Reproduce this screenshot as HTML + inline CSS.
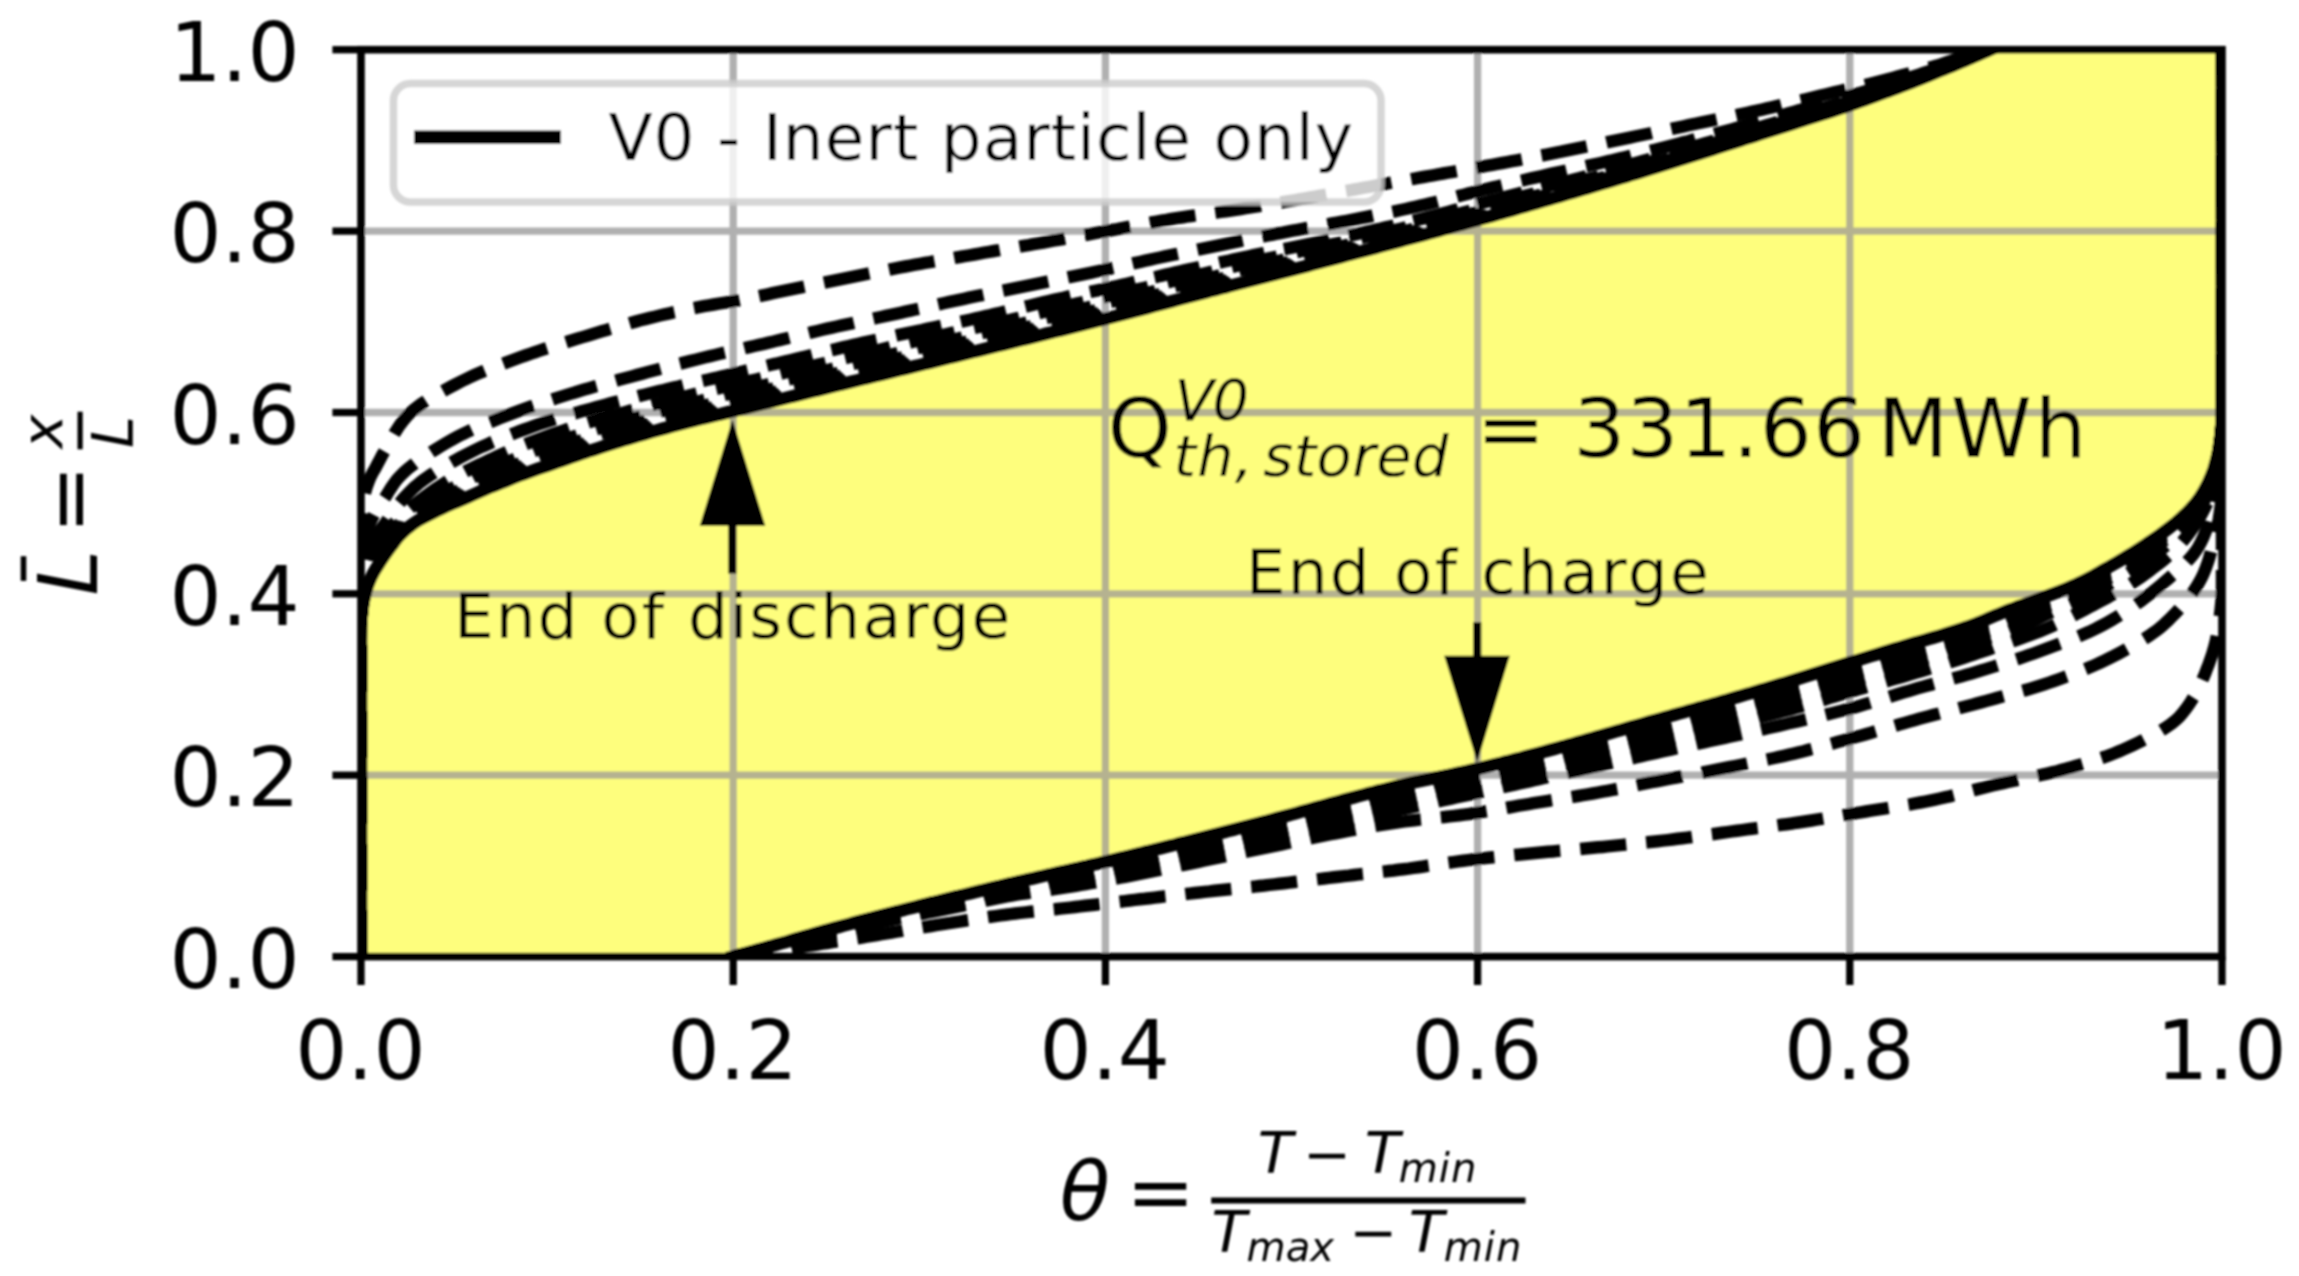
<!DOCTYPE html>
<html><head><meta charset="utf-8"><title>Thermocline profiles</title><style>html,body{margin:0;padding:0;background:#fff;overflow:hidden}svg{display:block}</style></head><body>
<svg width="2299" height="1276" viewBox="0 0 2299 1276">
<defs><filter id="soft" filterUnits="userSpaceOnUse" x="-20" y="-20" width="2339" height="1316"><feGaussianBlur stdDeviation="0.8"/></filter><clipPath id="ax"><rect x="361.0" y="49.7" width="1861.0" height="906.9"/></clipPath>
<clipPath id="yel"><path d="M361.0 956.6 L361.0 951.6 L361.0 946.6 L361.0 941.6 L361.0 936.6 L361.0 931.6 L361.0 926.5 L361.0 921.5 L361.0 916.5 L361.0 911.5 L361.0 906.5 L361.0 901.5 L361.0 896.5 L361.0 891.5 L361.0 886.5 L361.0 881.5 L361.0 876.5 L361.0 871.5 L361.0 866.4 L361.0 861.4 L361.0 856.4 L361.0 851.4 L361.0 846.4 L361.0 841.4 L361.0 836.4 L361.0 831.4 L361.0 826.4 L361.0 821.4 L361.0 816.4 L361.0 811.4 L361.0 806.3 L361.0 801.3 L361.0 796.3 L361.0 791.3 L361.0 786.3 L361.0 781.3 L361.0 776.3 L361.0 771.3 L361.0 766.3 L361.0 761.3 L361.0 756.3 L361.0 751.3 L361.0 746.2 L361.0 741.2 L361.0 736.2 L361.0 731.2 L361.0 726.2 L361.0 721.2 L361.0 716.2 L361.0 711.2 L361.0 706.2 L361.0 701.2 L361.0 696.2 L361.0 691.1 L361.0 686.1 L361.0 681.1 L361.0 676.1 L361.0 671.1 L361.0 666.1 L361.0 661.1 L361.0 656.1 L361.0 651.1 L361.0 646.1 L361.0 641.1 L361.1 636.1 L361.2 631.0 L361.3 626.0 L361.4 621.0 L361.8 616.0 L362.3 611.1 L362.9 606.1 L363.7 601.1 L364.7 596.2 L365.9 591.4 L367.4 586.6 L369.2 581.9 L371.2 577.4 L373.5 572.9 L376.0 568.6 L378.7 564.3 L381.4 560.1 L384.2 556.0 L387.1 551.9 L390.1 547.8 L393.1 543.8 L396.0 539.8 L399.2 535.9 L402.7 532.4 L406.5 529.0 L410.4 525.9 L414.4 522.9 L418.6 520.2 L423.0 517.8 L427.5 515.5 L432.0 513.3 L436.4 511.0 L440.9 508.9 L445.5 506.7 L450.1 504.7 L454.6 502.7 L459.3 500.8 L463.9 498.8 L468.5 496.9 L473.1 494.8 L477.6 492.7 L482.2 490.6 L486.8 488.6 L491.4 486.7 L496.1 484.9 L500.7 483.1 L505.4 481.2 L510.0 479.3 L514.7 477.4 L519.3 475.6 L524.0 473.9 L528.7 472.2 L533.4 470.5 L538.2 468.8 L542.9 467.2 L547.6 465.6 L552.4 463.9 L557.1 462.3 L561.8 460.7 L566.6 459.0 L571.3 457.3 L576.0 455.7 L580.7 454.0 L585.5 452.4 L590.2 450.8 L595.0 449.3 L599.8 447.7 L604.5 446.2 L609.3 444.7 L614.1 443.2 L618.9 441.7 L623.6 440.2 L628.4 438.8 L633.2 437.3 L638.0 435.9 L642.8 434.5 L647.7 433.1 L652.5 431.7 L657.3 430.4 L662.1 429.0 L666.9 427.7 L671.8 426.4 L676.6 425.1 L681.5 423.8 L686.3 422.5 L691.2 421.3 L696.0 420.0 L700.9 418.8 L705.7 417.7 L710.6 416.5 L715.5 415.3 L720.4 414.2 L725.2 413.0 L730.1 411.8 L735.0 410.6 L739.8 409.4 L744.7 408.2 L749.5 407.0 L754.4 405.8 L759.3 404.6 L764.1 403.4 L769.0 402.2 L773.9 401.0 L778.7 399.8 L783.6 398.6 L788.4 397.4 L793.3 396.2 L798.2 395.0 L803.0 393.8 L807.9 392.6 L812.7 391.4 L817.6 390.2 L822.5 389.0 L827.3 387.8 L832.2 386.6 L837.1 385.4 L841.9 384.2 L846.8 383.0 L851.7 381.8 L856.5 380.6 L861.4 379.4 L866.2 378.2 L871.1 377.0 L876.0 375.8 L880.8 374.7 L885.7 373.5 L890.6 372.3 L895.4 371.1 L900.3 369.9 L905.2 368.7 L910.0 367.5 L914.9 366.3 L919.8 365.1 L924.6 363.9 L929.5 362.7 L934.3 361.5 L939.2 360.3 L944.1 359.1 L948.9 357.9 L953.8 356.7 L958.7 355.5 L963.5 354.3 L968.4 353.1 L973.2 351.9 L978.1 350.7 L983.0 349.5 L987.8 348.3 L992.7 347.1 L997.6 345.9 L1002.4 344.7 L1007.3 343.5 L1012.1 342.3 L1017.0 341.1 L1021.9 339.9 L1026.7 338.7 L1031.6 337.5 L1036.4 336.3 L1041.3 335.1 L1046.2 333.8 L1051.0 332.6 L1055.9 331.4 L1060.7 330.2 L1065.6 329.0 L1070.5 327.8 L1075.3 326.6 L1080.2 325.3 L1085.0 324.1 L1089.9 322.9 L1094.7 321.6 L1099.6 320.4 L1104.4 319.1 L1109.3 317.9 L1114.1 316.6 L1119.0 315.4 L1123.8 314.1 L1128.7 312.8 L1133.5 311.5 L1138.4 310.3 L1143.2 309.0 L1148.0 307.7 L1152.9 306.4 L1157.7 305.1 L1162.6 303.8 L1167.4 302.5 L1172.2 301.2 L1177.1 299.9 L1181.9 298.6 L1186.7 297.3 L1191.6 296.1 L1196.4 294.8 L1201.3 293.5 L1206.1 292.2 L1211.0 290.9 L1215.8 289.7 L1220.7 288.4 L1225.5 287.2 L1230.3 285.9 L1235.2 284.6 L1240.0 283.4 L1244.9 282.1 L1249.7 280.9 L1254.6 279.6 L1259.4 278.4 L1264.3 277.1 L1269.1 275.9 L1274.0 274.6 L1278.8 273.3 L1283.7 272.1 L1288.5 270.8 L1293.4 269.5 L1298.2 268.3 L1303.1 267.0 L1307.9 265.7 L1312.7 264.4 L1317.6 263.1 L1322.4 261.8 L1327.3 260.6 L1332.1 259.3 L1336.9 258.0 L1341.8 256.7 L1346.6 255.4 L1351.5 254.1 L1356.3 252.9 L1361.1 251.6 L1366.0 250.3 L1370.8 249.0 L1375.7 247.7 L1380.5 246.4 L1385.3 245.1 L1390.2 243.8 L1395.0 242.5 L1399.9 241.2 L1404.7 239.9 L1409.5 238.6 L1414.4 237.3 L1419.2 236.0 L1424.0 234.7 L1428.9 233.4 L1433.7 232.0 L1438.5 230.7 L1443.4 229.4 L1448.2 228.1 L1453.0 226.7 L1457.8 225.4 L1462.7 224.1 L1467.5 222.7 L1472.3 221.4 L1477.1 220.1 L1482.0 218.7 L1486.8 217.3 L1491.6 216.0 L1496.4 214.6 L1501.2 213.2 L1506.1 211.9 L1510.9 210.5 L1515.7 209.1 L1520.5 207.7 L1525.3 206.3 L1530.1 204.9 L1534.9 203.6 L1539.7 202.2 L1544.6 200.7 L1549.4 199.3 L1554.2 197.9 L1559.0 196.5 L1563.8 195.1 L1568.6 193.7 L1573.4 192.3 L1578.2 190.9 L1583.0 189.4 L1587.8 188.0 L1592.6 186.6 L1597.4 185.2 L1602.2 183.7 L1607.0 182.3 L1611.8 180.8 L1616.6 179.4 L1621.4 177.9 L1626.2 176.5 L1631.0 175.0 L1635.8 173.6 L1640.5 172.1 L1645.3 170.6 L1650.1 169.2 L1654.9 167.7 L1659.7 166.2 L1664.5 164.7 L1669.2 163.2 L1674.0 161.7 L1678.8 160.2 L1683.6 158.7 L1688.3 157.2 L1693.1 155.7 L1697.9 154.1 L1702.7 152.6 L1707.4 151.1 L1712.2 149.6 L1717.0 148.0 L1721.7 146.5 L1726.5 145.0 L1731.3 143.4 L1736.1 141.9 L1740.8 140.4 L1745.6 138.8 L1750.4 137.3 L1755.1 135.8 L1759.9 134.2 L1764.7 132.7 L1769.4 131.2 L1774.2 129.6 L1779.0 128.1 L1783.7 126.6 L1788.5 125.1 L1793.3 123.6 L1798.1 122.0 L1802.8 120.5 L1807.6 119.0 L1812.4 117.5 L1817.2 116.0 L1821.9 114.5 L1826.7 112.9 L1831.5 111.4 L1836.2 109.8 L1841.0 108.2 L1845.7 106.6 L1850.4 105.0 L1855.2 103.3 L1859.9 101.6 L1864.6 100.0 L1869.3 98.3 L1874.0 96.5 L1878.7 94.8 L1883.4 93.1 L1888.1 91.3 L1892.8 89.6 L1897.5 87.8 L1902.1 86.0 L1906.8 84.2 L1911.5 82.4 L1916.2 80.5 L1920.8 78.7 L1925.5 76.8 L1930.1 75.0 L1934.8 73.1 L1939.4 71.2 L1944.0 69.3 L1948.7 67.4 L1953.3 65.5 L1957.9 63.5 L1962.5 61.6 L1967.1 59.6 L1971.7 57.7 L1976.3 55.7 L1980.9 53.7 L1985.5 51.7 L1990.1 49.7 L2222.0 49.7 L2222.0 54.7 L2222.0 59.7 L2222.0 64.7 L2222.0 69.7 L2222.0 74.8 L2222.0 79.8 L2222.0 84.8 L2222.0 89.8 L2222.0 94.8 L2222.0 99.8 L2222.0 104.8 L2222.0 109.8 L2222.0 114.8 L2222.0 119.8 L2222.0 124.9 L2222.0 129.9 L2222.0 134.9 L2222.0 139.9 L2222.0 144.9 L2222.0 149.9 L2222.0 154.9 L2222.0 159.9 L2222.0 164.9 L2222.0 169.9 L2222.0 175.0 L2222.0 180.0 L2222.0 185.0 L2222.0 190.0 L2222.0 195.0 L2222.0 200.0 L2222.0 205.0 L2222.0 210.0 L2222.0 215.0 L2222.0 220.0 L2222.0 225.1 L2222.0 230.1 L2222.0 235.1 L2222.0 240.1 L2222.0 245.1 L2222.0 250.1 L2222.0 255.1 L2222.0 260.1 L2222.0 265.1 L2222.0 270.1 L2222.0 275.2 L2222.0 280.2 L2222.0 285.2 L2222.0 290.2 L2222.0 295.2 L2222.0 300.2 L2222.0 305.2 L2222.0 310.2 L2222.0 315.2 L2222.0 320.2 L2222.0 325.3 L2222.0 330.3 L2222.0 335.3 L2222.0 340.3 L2222.0 345.3 L2222.0 350.3 L2222.0 355.3 L2222.0 360.3 L2222.0 365.3 L2222.0 370.3 L2222.0 375.4 L2222.0 380.4 L2222.0 385.4 L2222.0 390.4 L2222.0 395.4 L2222.0 400.4 L2222.0 405.4 L2221.9 410.4 L2221.8 415.4 L2221.6 420.4 L2221.3 425.4 L2220.9 430.4 L2220.4 435.4 L2219.8 440.4 L2219.1 445.4 L2218.4 450.3 L2217.4 455.2 L2216.2 460.1 L2214.9 464.9 L2213.5 469.7 L2211.7 474.4 L2209.8 479.0 L2207.7 483.6 L2205.4 488.1 L2203.0 492.4 L2200.3 496.7 L2197.4 500.8 L2194.3 504.7 L2190.9 508.4 L2187.4 512.0 L2183.8 515.5 L2180.2 518.9 L2176.4 522.2 L2172.5 525.3 L2168.5 528.4 L2164.5 531.4 L2160.5 534.4 L2156.4 537.3 L2152.3 540.1 L2148.1 542.9 L2144.0 545.7 L2139.8 548.4 L2135.5 551.1 L2131.3 553.8 L2127.0 556.4 L2122.7 558.9 L2118.4 561.5 L2114.0 564.0 L2109.7 566.5 L2105.3 568.9 L2101.0 571.4 L2096.6 573.9 L2092.2 576.3 L2087.8 578.6 L2083.3 580.9 L2078.8 583.1 L2074.3 585.2 L2069.7 587.2 L2065.0 589.1 L2060.4 590.9 L2055.7 592.7 L2051.0 594.4 L2046.3 596.2 L2041.6 597.9 L2036.9 599.7 L2032.2 601.5 L2027.5 603.2 L2022.8 604.9 L2018.1 606.6 L2013.4 608.4 L2008.7 610.1 L2004.0 611.9 L1999.4 613.8 L1994.8 615.7 L1990.2 617.7 L1985.6 619.7 L1980.9 621.6 L1976.3 623.5 L1971.6 625.2 L1966.9 626.9 L1962.1 628.5 L1957.4 630.1 L1952.6 631.6 L1947.8 633.2 L1943.1 634.7 L1938.3 636.1 L1933.5 637.5 L1928.6 638.9 L1923.8 640.3 L1919.0 641.7 L1914.2 643.0 L1909.4 644.4 L1904.6 645.8 L1899.8 647.3 L1895.0 648.7 L1890.2 650.2 L1885.4 651.6 L1880.6 653.1 L1875.8 654.6 L1871.0 656.0 L1866.2 657.5 L1861.4 659.0 L1856.7 660.5 L1851.9 662.0 L1847.1 663.4 L1842.3 664.9 L1837.5 666.4 L1832.7 667.9 L1827.9 669.4 L1823.2 670.9 L1818.4 672.4 L1813.6 673.9 L1808.8 675.4 L1804.0 676.9 L1799.3 678.3 L1794.5 679.8 L1789.7 681.3 L1784.9 682.8 L1780.1 684.2 L1775.3 685.7 L1770.5 687.1 L1765.7 688.6 L1760.9 690.0 L1756.1 691.4 L1751.3 692.8 L1746.5 694.2 L1741.7 695.6 L1736.9 697.0 L1732.0 698.4 L1727.2 699.8 L1722.4 701.2 L1717.6 702.6 L1712.8 703.9 L1708.0 705.3 L1703.1 706.6 L1698.3 708.0 L1693.5 709.4 L1688.7 710.7 L1683.8 712.1 L1679.0 713.4 L1674.2 714.8 L1669.4 716.1 L1664.5 717.5 L1659.7 718.8 L1654.9 720.2 L1650.1 721.5 L1645.3 722.9 L1640.4 724.3 L1635.6 725.7 L1630.8 727.0 L1626.0 728.4 L1621.2 729.8 L1616.4 731.2 L1611.5 732.6 L1606.7 734.0 L1601.9 735.3 L1597.1 736.7 L1592.3 738.1 L1587.5 739.5 L1582.6 740.9 L1577.8 742.2 L1573.0 743.6 L1568.2 744.9 L1563.4 746.3 L1558.5 747.6 L1553.7 749.0 L1548.9 750.3 L1544.0 751.6 L1539.2 752.9 L1534.4 754.2 L1529.5 755.5 L1524.7 756.8 L1519.8 758.1 L1515.0 759.3 L1510.1 760.6 L1505.3 761.8 L1500.4 763.1 L1495.6 764.3 L1490.7 765.5 L1485.8 766.7 L1481.0 767.9 L1476.1 769.0 L1471.2 770.1 L1466.3 771.2 L1461.4 772.3 L1456.5 773.3 L1451.6 774.4 L1446.7 775.4 L1441.8 776.4 L1436.9 777.4 L1432.0 778.5 L1427.1 779.5 L1422.2 780.5 L1417.3 781.6 L1412.4 782.6 L1407.5 783.7 L1402.6 784.9 L1397.8 786.0 L1392.9 787.2 L1388.0 788.4 L1383.2 789.6 L1378.3 790.8 L1373.5 792.1 L1368.6 793.3 L1363.8 794.6 L1358.9 795.9 L1354.1 797.2 L1349.2 798.5 L1344.4 799.8 L1339.6 801.1 L1334.7 802.4 L1329.9 803.7 L1325.1 805.1 L1320.2 806.4 L1315.4 807.7 L1310.6 809.1 L1305.7 810.4 L1300.9 811.7 L1296.1 813.1 L1291.3 814.4 L1286.4 815.7 L1281.6 817.0 L1276.7 818.3 L1271.9 819.6 L1267.1 820.9 L1262.2 822.1 L1257.4 823.4 L1252.5 824.7 L1247.7 825.9 L1242.8 827.2 L1238.0 828.4 L1233.1 829.7 L1228.3 830.9 L1223.4 832.2 L1218.6 833.4 L1213.7 834.7 L1208.8 835.9 L1204.0 837.2 L1199.1 838.4 L1194.3 839.6 L1189.4 840.9 L1184.6 842.1 L1179.7 843.3 L1174.9 844.6 L1170.0 845.8 L1165.1 847.0 L1160.3 848.2 L1155.4 849.4 L1150.6 850.6 L1145.7 851.8 L1140.8 853.1 L1136.0 854.2 L1131.1 855.4 L1126.2 856.6 L1121.4 857.8 L1116.5 859.0 L1111.6 860.2 L1106.8 861.4 L1101.9 862.5 L1097.0 863.7 L1092.1 864.8 L1087.3 866.0 L1082.4 867.1 L1077.5 868.2 L1072.6 869.3 L1067.7 870.4 L1062.8 871.5 L1057.9 872.6 L1053.1 873.7 L1048.2 874.8 L1043.3 875.9 L1038.4 877.1 L1033.5 878.2 L1028.6 879.3 L1023.7 880.4 L1018.9 881.5 L1014.0 882.7 L1009.1 883.8 L1004.2 885.0 L999.4 886.1 L994.5 887.3 L989.6 888.5 L984.8 889.7 L979.9 890.8 L975.0 892.0 L970.1 893.2 L965.3 894.4 L960.4 895.6 L955.5 896.8 L950.7 898.0 L945.8 899.2 L941.0 900.4 L936.1 901.6 L931.2 902.8 L926.4 904.0 L921.5 905.2 L916.7 906.5 L911.8 907.7 L906.9 908.9 L902.1 910.2 L897.2 911.4 L892.4 912.6 L887.5 913.9 L882.7 915.1 L877.8 916.4 L873.0 917.7 L868.1 918.9 L863.3 920.2 L858.4 921.5 L853.6 922.8 L848.8 924.1 L843.9 925.4 L839.1 926.7 L834.3 928.0 L829.4 929.4 L824.6 930.7 L819.8 932.1 L815.0 933.4 L810.1 934.8 L805.3 936.2 L800.5 937.6 L795.7 939.0 L790.9 940.4 L786.1 941.8 L781.3 943.2 L776.4 944.5 L771.6 945.9 L766.8 947.3 L762.0 948.7 L757.2 950.0 L752.3 951.4 L747.5 952.7 L742.7 954.0 L737.8 955.3 L733.0 956.6 Z"/></clipPath></defs>
<rect width="2299" height="1276" fill="#fff"/>
<g filter="url(#soft)">
<g stroke="#b0b0b0" stroke-width="7.3" fill="none"><path d="M733.2 49.7 V956.6"/><path d="M1105.4 49.7 V956.6"/><path d="M1477.6 49.7 V956.6"/><path d="M1849.8 49.7 V956.6"/><path d="M361.0 775.2 H2222.0"/><path d="M361.0 593.8 H2222.0"/><path d="M361.0 412.5 H2222.0"/><path d="M361.0 231.1 H2222.0"/></g>
<g clip-path="url(#ax)">
<path d="M361.0 956.6 L361.0 951.6 L361.0 946.6 L361.0 941.6 L361.0 936.6 L361.0 931.6 L361.0 926.5 L361.0 921.5 L361.0 916.5 L361.0 911.5 L361.0 906.5 L361.0 901.5 L361.0 896.5 L361.0 891.5 L361.0 886.5 L361.0 881.5 L361.0 876.5 L361.0 871.5 L361.0 866.4 L361.0 861.4 L361.0 856.4 L361.0 851.4 L361.0 846.4 L361.0 841.4 L361.0 836.4 L361.0 831.4 L361.0 826.4 L361.0 821.4 L361.0 816.4 L361.0 811.4 L361.0 806.3 L361.0 801.3 L361.0 796.3 L361.0 791.3 L361.0 786.3 L361.0 781.3 L361.0 776.3 L361.0 771.3 L361.0 766.3 L361.0 761.3 L361.0 756.3 L361.0 751.3 L361.0 746.2 L361.0 741.2 L361.0 736.2 L361.0 731.2 L361.0 726.2 L361.0 721.2 L361.0 716.2 L361.0 711.2 L361.0 706.2 L361.0 701.2 L361.0 696.2 L361.0 691.1 L361.0 686.1 L361.0 681.1 L361.0 676.1 L361.0 671.1 L361.0 666.1 L361.0 661.1 L361.0 656.1 L361.0 651.1 L361.0 646.1 L361.0 641.1 L361.1 636.1 L361.2 631.0 L361.3 626.0 L361.4 621.0 L361.8 616.0 L362.3 611.1 L362.9 606.1 L363.7 601.1 L364.7 596.2 L365.9 591.4 L367.4 586.6 L369.2 581.9 L371.2 577.4 L373.5 572.9 L376.0 568.6 L378.7 564.3 L381.4 560.1 L384.2 556.0 L387.1 551.9 L390.1 547.8 L393.1 543.8 L396.0 539.8 L399.2 535.9 L402.7 532.4 L406.5 529.0 L410.4 525.9 L414.4 522.9 L418.6 520.2 L423.0 517.8 L427.5 515.5 L432.0 513.3 L436.4 511.0 L440.9 508.9 L445.5 506.7 L450.1 504.7 L454.6 502.7 L459.3 500.8 L463.9 498.8 L468.5 496.9 L473.1 494.8 L477.6 492.7 L482.2 490.6 L486.8 488.6 L491.4 486.7 L496.1 484.9 L500.7 483.1 L505.4 481.2 L510.0 479.3 L514.7 477.4 L519.3 475.6 L524.0 473.9 L528.7 472.2 L533.4 470.5 L538.2 468.8 L542.9 467.2 L547.6 465.6 L552.4 463.9 L557.1 462.3 L561.8 460.7 L566.6 459.0 L571.3 457.3 L576.0 455.7 L580.7 454.0 L585.5 452.4 L590.2 450.8 L595.0 449.3 L599.8 447.7 L604.5 446.2 L609.3 444.7 L614.1 443.2 L618.9 441.7 L623.6 440.2 L628.4 438.8 L633.2 437.3 L638.0 435.9 L642.8 434.5 L647.7 433.1 L652.5 431.7 L657.3 430.4 L662.1 429.0 L666.9 427.7 L671.8 426.4 L676.6 425.1 L681.5 423.8 L686.3 422.5 L691.2 421.3 L696.0 420.0 L700.9 418.8 L705.7 417.7 L710.6 416.5 L715.5 415.3 L720.4 414.2 L725.2 413.0 L730.1 411.8 L735.0 410.6 L739.8 409.4 L744.7 408.2 L749.5 407.0 L754.4 405.8 L759.3 404.6 L764.1 403.4 L769.0 402.2 L773.9 401.0 L778.7 399.8 L783.6 398.6 L788.4 397.4 L793.3 396.2 L798.2 395.0 L803.0 393.8 L807.9 392.6 L812.7 391.4 L817.6 390.2 L822.5 389.0 L827.3 387.8 L832.2 386.6 L837.1 385.4 L841.9 384.2 L846.8 383.0 L851.7 381.8 L856.5 380.6 L861.4 379.4 L866.2 378.2 L871.1 377.0 L876.0 375.8 L880.8 374.7 L885.7 373.5 L890.6 372.3 L895.4 371.1 L900.3 369.9 L905.2 368.7 L910.0 367.5 L914.9 366.3 L919.8 365.1 L924.6 363.9 L929.5 362.7 L934.3 361.5 L939.2 360.3 L944.1 359.1 L948.9 357.9 L953.8 356.7 L958.7 355.5 L963.5 354.3 L968.4 353.1 L973.2 351.9 L978.1 350.7 L983.0 349.5 L987.8 348.3 L992.7 347.1 L997.6 345.9 L1002.4 344.7 L1007.3 343.5 L1012.1 342.3 L1017.0 341.1 L1021.9 339.9 L1026.7 338.7 L1031.6 337.5 L1036.4 336.3 L1041.3 335.1 L1046.2 333.8 L1051.0 332.6 L1055.9 331.4 L1060.7 330.2 L1065.6 329.0 L1070.5 327.8 L1075.3 326.6 L1080.2 325.3 L1085.0 324.1 L1089.9 322.9 L1094.7 321.6 L1099.6 320.4 L1104.4 319.1 L1109.3 317.9 L1114.1 316.6 L1119.0 315.4 L1123.8 314.1 L1128.7 312.8 L1133.5 311.5 L1138.4 310.3 L1143.2 309.0 L1148.0 307.7 L1152.9 306.4 L1157.7 305.1 L1162.6 303.8 L1167.4 302.5 L1172.2 301.2 L1177.1 299.9 L1181.9 298.6 L1186.7 297.3 L1191.6 296.1 L1196.4 294.8 L1201.3 293.5 L1206.1 292.2 L1211.0 290.9 L1215.8 289.7 L1220.7 288.4 L1225.5 287.2 L1230.3 285.9 L1235.2 284.6 L1240.0 283.4 L1244.9 282.1 L1249.7 280.9 L1254.6 279.6 L1259.4 278.4 L1264.3 277.1 L1269.1 275.9 L1274.0 274.6 L1278.8 273.3 L1283.7 272.1 L1288.5 270.8 L1293.4 269.5 L1298.2 268.3 L1303.1 267.0 L1307.9 265.7 L1312.7 264.4 L1317.6 263.1 L1322.4 261.8 L1327.3 260.6 L1332.1 259.3 L1336.9 258.0 L1341.8 256.7 L1346.6 255.4 L1351.5 254.1 L1356.3 252.9 L1361.1 251.6 L1366.0 250.3 L1370.8 249.0 L1375.7 247.7 L1380.5 246.4 L1385.3 245.1 L1390.2 243.8 L1395.0 242.5 L1399.9 241.2 L1404.7 239.9 L1409.5 238.6 L1414.4 237.3 L1419.2 236.0 L1424.0 234.7 L1428.9 233.4 L1433.7 232.0 L1438.5 230.7 L1443.4 229.4 L1448.2 228.1 L1453.0 226.7 L1457.8 225.4 L1462.7 224.1 L1467.5 222.7 L1472.3 221.4 L1477.1 220.1 L1482.0 218.7 L1486.8 217.3 L1491.6 216.0 L1496.4 214.6 L1501.2 213.2 L1506.1 211.9 L1510.9 210.5 L1515.7 209.1 L1520.5 207.7 L1525.3 206.3 L1530.1 204.9 L1534.9 203.6 L1539.7 202.2 L1544.6 200.7 L1549.4 199.3 L1554.2 197.9 L1559.0 196.5 L1563.8 195.1 L1568.6 193.7 L1573.4 192.3 L1578.2 190.9 L1583.0 189.4 L1587.8 188.0 L1592.6 186.6 L1597.4 185.2 L1602.2 183.7 L1607.0 182.3 L1611.8 180.8 L1616.6 179.4 L1621.4 177.9 L1626.2 176.5 L1631.0 175.0 L1635.8 173.6 L1640.5 172.1 L1645.3 170.6 L1650.1 169.2 L1654.9 167.7 L1659.7 166.2 L1664.5 164.7 L1669.2 163.2 L1674.0 161.7 L1678.8 160.2 L1683.6 158.7 L1688.3 157.2 L1693.1 155.7 L1697.9 154.1 L1702.7 152.6 L1707.4 151.1 L1712.2 149.6 L1717.0 148.0 L1721.7 146.5 L1726.5 145.0 L1731.3 143.4 L1736.1 141.9 L1740.8 140.4 L1745.6 138.8 L1750.4 137.3 L1755.1 135.8 L1759.9 134.2 L1764.7 132.7 L1769.4 131.2 L1774.2 129.6 L1779.0 128.1 L1783.7 126.6 L1788.5 125.1 L1793.3 123.6 L1798.1 122.0 L1802.8 120.5 L1807.6 119.0 L1812.4 117.5 L1817.2 116.0 L1821.9 114.5 L1826.7 112.9 L1831.5 111.4 L1836.2 109.8 L1841.0 108.2 L1845.7 106.6 L1850.4 105.0 L1855.2 103.3 L1859.9 101.6 L1864.6 100.0 L1869.3 98.3 L1874.0 96.5 L1878.7 94.8 L1883.4 93.1 L1888.1 91.3 L1892.8 89.6 L1897.5 87.8 L1902.1 86.0 L1906.8 84.2 L1911.5 82.4 L1916.2 80.5 L1920.8 78.7 L1925.5 76.8 L1930.1 75.0 L1934.8 73.1 L1939.4 71.2 L1944.0 69.3 L1948.7 67.4 L1953.3 65.5 L1957.9 63.5 L1962.5 61.6 L1967.1 59.6 L1971.7 57.7 L1976.3 55.7 L1980.9 53.7 L1985.5 51.7 L1990.1 49.7 L2222.0 49.7 L2222.0 54.7 L2222.0 59.7 L2222.0 64.7 L2222.0 69.7 L2222.0 74.8 L2222.0 79.8 L2222.0 84.8 L2222.0 89.8 L2222.0 94.8 L2222.0 99.8 L2222.0 104.8 L2222.0 109.8 L2222.0 114.8 L2222.0 119.8 L2222.0 124.9 L2222.0 129.9 L2222.0 134.9 L2222.0 139.9 L2222.0 144.9 L2222.0 149.9 L2222.0 154.9 L2222.0 159.9 L2222.0 164.9 L2222.0 169.9 L2222.0 175.0 L2222.0 180.0 L2222.0 185.0 L2222.0 190.0 L2222.0 195.0 L2222.0 200.0 L2222.0 205.0 L2222.0 210.0 L2222.0 215.0 L2222.0 220.0 L2222.0 225.1 L2222.0 230.1 L2222.0 235.1 L2222.0 240.1 L2222.0 245.1 L2222.0 250.1 L2222.0 255.1 L2222.0 260.1 L2222.0 265.1 L2222.0 270.1 L2222.0 275.2 L2222.0 280.2 L2222.0 285.2 L2222.0 290.2 L2222.0 295.2 L2222.0 300.2 L2222.0 305.2 L2222.0 310.2 L2222.0 315.2 L2222.0 320.2 L2222.0 325.3 L2222.0 330.3 L2222.0 335.3 L2222.0 340.3 L2222.0 345.3 L2222.0 350.3 L2222.0 355.3 L2222.0 360.3 L2222.0 365.3 L2222.0 370.3 L2222.0 375.4 L2222.0 380.4 L2222.0 385.4 L2222.0 390.4 L2222.0 395.4 L2222.0 400.4 L2222.0 405.4 L2221.9 410.4 L2221.8 415.4 L2221.6 420.4 L2221.3 425.4 L2220.9 430.4 L2220.4 435.4 L2219.8 440.4 L2219.1 445.4 L2218.4 450.3 L2217.4 455.2 L2216.2 460.1 L2214.9 464.9 L2213.5 469.7 L2211.7 474.4 L2209.8 479.0 L2207.7 483.6 L2205.4 488.1 L2203.0 492.4 L2200.3 496.7 L2197.4 500.8 L2194.3 504.7 L2190.9 508.4 L2187.4 512.0 L2183.8 515.5 L2180.2 518.9 L2176.4 522.2 L2172.5 525.3 L2168.5 528.4 L2164.5 531.4 L2160.5 534.4 L2156.4 537.3 L2152.3 540.1 L2148.1 542.9 L2144.0 545.7 L2139.8 548.4 L2135.5 551.1 L2131.3 553.8 L2127.0 556.4 L2122.7 558.9 L2118.4 561.5 L2114.0 564.0 L2109.7 566.5 L2105.3 568.9 L2101.0 571.4 L2096.6 573.9 L2092.2 576.3 L2087.8 578.6 L2083.3 580.9 L2078.8 583.1 L2074.3 585.2 L2069.7 587.2 L2065.0 589.1 L2060.4 590.9 L2055.7 592.7 L2051.0 594.4 L2046.3 596.2 L2041.6 597.9 L2036.9 599.7 L2032.2 601.5 L2027.5 603.2 L2022.8 604.9 L2018.1 606.6 L2013.4 608.4 L2008.7 610.1 L2004.0 611.9 L1999.4 613.8 L1994.8 615.7 L1990.2 617.7 L1985.6 619.7 L1980.9 621.6 L1976.3 623.5 L1971.6 625.2 L1966.9 626.9 L1962.1 628.5 L1957.4 630.1 L1952.6 631.6 L1947.8 633.2 L1943.1 634.7 L1938.3 636.1 L1933.5 637.5 L1928.6 638.9 L1923.8 640.3 L1919.0 641.7 L1914.2 643.0 L1909.4 644.4 L1904.6 645.8 L1899.8 647.3 L1895.0 648.7 L1890.2 650.2 L1885.4 651.6 L1880.6 653.1 L1875.8 654.6 L1871.0 656.0 L1866.2 657.5 L1861.4 659.0 L1856.7 660.5 L1851.9 662.0 L1847.1 663.4 L1842.3 664.9 L1837.5 666.4 L1832.7 667.9 L1827.9 669.4 L1823.2 670.9 L1818.4 672.4 L1813.6 673.9 L1808.8 675.4 L1804.0 676.9 L1799.3 678.3 L1794.5 679.8 L1789.7 681.3 L1784.9 682.8 L1780.1 684.2 L1775.3 685.7 L1770.5 687.1 L1765.7 688.6 L1760.9 690.0 L1756.1 691.4 L1751.3 692.8 L1746.5 694.2 L1741.7 695.6 L1736.9 697.0 L1732.0 698.4 L1727.2 699.8 L1722.4 701.2 L1717.6 702.6 L1712.8 703.9 L1708.0 705.3 L1703.1 706.6 L1698.3 708.0 L1693.5 709.4 L1688.7 710.7 L1683.8 712.1 L1679.0 713.4 L1674.2 714.8 L1669.4 716.1 L1664.5 717.5 L1659.7 718.8 L1654.9 720.2 L1650.1 721.5 L1645.3 722.9 L1640.4 724.3 L1635.6 725.7 L1630.8 727.0 L1626.0 728.4 L1621.2 729.8 L1616.4 731.2 L1611.5 732.6 L1606.7 734.0 L1601.9 735.3 L1597.1 736.7 L1592.3 738.1 L1587.5 739.5 L1582.6 740.9 L1577.8 742.2 L1573.0 743.6 L1568.2 744.9 L1563.4 746.3 L1558.5 747.6 L1553.7 749.0 L1548.9 750.3 L1544.0 751.6 L1539.2 752.9 L1534.4 754.2 L1529.5 755.5 L1524.7 756.8 L1519.8 758.1 L1515.0 759.3 L1510.1 760.6 L1505.3 761.8 L1500.4 763.1 L1495.6 764.3 L1490.7 765.5 L1485.8 766.7 L1481.0 767.9 L1476.1 769.0 L1471.2 770.1 L1466.3 771.2 L1461.4 772.3 L1456.5 773.3 L1451.6 774.4 L1446.7 775.4 L1441.8 776.4 L1436.9 777.4 L1432.0 778.5 L1427.1 779.5 L1422.2 780.5 L1417.3 781.6 L1412.4 782.6 L1407.5 783.7 L1402.6 784.9 L1397.8 786.0 L1392.9 787.2 L1388.0 788.4 L1383.2 789.6 L1378.3 790.8 L1373.5 792.1 L1368.6 793.3 L1363.8 794.6 L1358.9 795.9 L1354.1 797.2 L1349.2 798.5 L1344.4 799.8 L1339.6 801.1 L1334.7 802.4 L1329.9 803.7 L1325.1 805.1 L1320.2 806.4 L1315.4 807.7 L1310.6 809.1 L1305.7 810.4 L1300.9 811.7 L1296.1 813.1 L1291.3 814.4 L1286.4 815.7 L1281.6 817.0 L1276.7 818.3 L1271.9 819.6 L1267.1 820.9 L1262.2 822.1 L1257.4 823.4 L1252.5 824.7 L1247.7 825.9 L1242.8 827.2 L1238.0 828.4 L1233.1 829.7 L1228.3 830.9 L1223.4 832.2 L1218.6 833.4 L1213.7 834.7 L1208.8 835.9 L1204.0 837.2 L1199.1 838.4 L1194.3 839.6 L1189.4 840.9 L1184.6 842.1 L1179.7 843.3 L1174.9 844.6 L1170.0 845.8 L1165.1 847.0 L1160.3 848.2 L1155.4 849.4 L1150.6 850.6 L1145.7 851.8 L1140.8 853.1 L1136.0 854.2 L1131.1 855.4 L1126.2 856.6 L1121.4 857.8 L1116.5 859.0 L1111.6 860.2 L1106.8 861.4 L1101.9 862.5 L1097.0 863.7 L1092.1 864.8 L1087.3 866.0 L1082.4 867.1 L1077.5 868.2 L1072.6 869.3 L1067.7 870.4 L1062.8 871.5 L1057.9 872.6 L1053.1 873.7 L1048.2 874.8 L1043.3 875.9 L1038.4 877.1 L1033.5 878.2 L1028.6 879.3 L1023.7 880.4 L1018.9 881.5 L1014.0 882.7 L1009.1 883.8 L1004.2 885.0 L999.4 886.1 L994.5 887.3 L989.6 888.5 L984.8 889.7 L979.9 890.8 L975.0 892.0 L970.1 893.2 L965.3 894.4 L960.4 895.6 L955.5 896.8 L950.7 898.0 L945.8 899.2 L941.0 900.4 L936.1 901.6 L931.2 902.8 L926.4 904.0 L921.5 905.2 L916.7 906.5 L911.8 907.7 L906.9 908.9 L902.1 910.2 L897.2 911.4 L892.4 912.6 L887.5 913.9 L882.7 915.1 L877.8 916.4 L873.0 917.7 L868.1 918.9 L863.3 920.2 L858.4 921.5 L853.6 922.8 L848.8 924.1 L843.9 925.4 L839.1 926.7 L834.3 928.0 L829.4 929.4 L824.6 930.7 L819.8 932.1 L815.0 933.4 L810.1 934.8 L805.3 936.2 L800.5 937.6 L795.7 939.0 L790.9 940.4 L786.1 941.8 L781.3 943.2 L776.4 944.5 L771.6 945.9 L766.8 947.3 L762.0 948.7 L757.2 950.0 L752.3 951.4 L747.5 952.7 L742.7 954.0 L737.8 955.3 L733.0 956.6 Z" fill="#fefe7d"/>
<g clip-path="url(#yel)"><g stroke="#b5b290" stroke-width="7.3" fill="none"><path d="M733.2 49.7 V956.6"/><path d="M1105.4 49.7 V956.6"/><path d="M1477.6 49.7 V956.6"/><path d="M1849.8 49.7 V956.6"/><path d="M361.0 775.2 H2222.0"/><path d="M361.0 593.8 H2222.0"/><path d="M361.0 412.5 H2222.0"/><path d="M361.0 231.1 H2222.0"/></g></g>
<g fill="none" stroke="#000" stroke-width="12.5" stroke-dasharray="46.25 20.0">
<path d="M361.0 956.6 L361.0 951.6 L361.0 946.6 L361.0 941.6 L361.0 936.6 L361.0 931.6 L361.0 926.6 L361.0 921.5 L361.0 916.5 L361.0 911.5 L361.0 906.5 L361.0 901.5 L361.0 896.5 L361.0 891.5 L361.0 886.5 L361.0 881.5 L361.0 876.5 L361.0 871.5 L361.0 866.5 L361.0 861.5 L361.0 856.5 L361.0 851.4 L361.0 846.4 L361.0 841.4 L361.0 836.4 L361.0 831.4 L361.0 826.4 L361.0 821.4 L361.0 816.4 L361.0 811.4 L361.0 806.4 L361.0 801.4 L361.0 796.4 L361.0 791.4 L361.0 786.4 L361.0 781.3 L361.0 776.3 L361.0 771.3 L361.0 766.3 L361.0 761.3 L361.0 756.3 L361.0 751.3 L361.0 746.3 L361.0 741.3 L361.0 736.3 L361.0 731.3 L361.0 726.3 L361.0 721.3 L361.0 716.3 L361.0 711.2 L361.0 706.2 L361.0 701.2 L361.0 696.2 L361.0 691.2 L361.0 686.2 L361.0 681.2 L361.0 676.2 L361.0 671.2 L361.0 666.2 L361.0 661.2 L361.0 656.2 L361.0 651.2 L361.0 646.2 L361.0 641.1 L361.0 636.1 L361.0 631.1 L361.0 626.1 L361.0 621.1 L361.0 616.1 L361.0 611.1 L361.0 606.1 L361.0 601.1 L361.0 596.1 L361.0 591.1 L361.0 586.1 L361.0 581.1 L361.0 576.1 L361.0 571.0 L361.0 566.0 L361.0 561.0 L361.0 556.0 L361.0 551.0 L361.0 546.0 L361.0 541.0 L361.0 536.0 L361.0 531.0 L361.0 526.0 L361.0 521.0 L361.2 516.0 L361.7 511.0 L362.5 506.1 L363.3 501.1 L364.2 496.2 L365.4 491.3 L366.8 486.5 L368.5 481.8 L370.4 477.2 L372.7 472.7 L375.2 468.4 L377.5 464.0 L379.9 459.5 L382.2 455.1 L384.7 450.8 L387.2 446.4 L389.6 442.0 L392.0 437.6 L394.5 433.3 L397.2 429.1 L400.0 424.9 L403.0 420.9 L406.2 417.1 L409.6 413.4 L413.3 410.1 L417.3 407.0 L421.3 404.0 L425.5 401.3 L429.7 398.6 L434.0 396.0 L438.4 393.5 L442.8 391.1 L447.2 388.7 L451.6 386.4 L456.0 384.1 L460.5 381.8 L465.0 379.5 L469.5 377.4 L474.0 375.3 L478.6 373.3 L483.2 371.4 L487.9 369.5 L492.5 367.6 L497.2 365.9 L501.9 364.1 L506.6 362.3 L511.3 360.6 L516.0 358.9 L520.7 357.2 L525.4 355.5 L530.1 353.8 L534.9 352.2 L539.6 350.6 L544.4 349.0 L549.1 347.5 L553.9 346.0 L558.7 344.5 L563.5 343.0 L568.2 341.5 L573.0 340.0 L577.8 338.6 L582.6 337.1 L587.4 335.7 L592.2 334.2 L597.0 332.8 L601.8 331.3 L606.6 329.9 L611.4 328.5 L616.2 327.0 L621.0 325.7 L625.8 324.3 L630.6 322.9 L635.5 321.6 L640.3 320.3 L645.2 319.1 L650.0 317.9 L654.9 316.7 L659.7 315.5 L664.6 314.4 L669.5 313.3 L674.4 312.2 L679.3 311.2 L684.2 310.1 L689.1 309.1 L694.0 308.1 L698.9 307.2 L703.8 306.2 L708.8 305.3 L713.7 304.5 L718.6 303.7 L723.6 302.9 L728.5 302.1 L733.5 301.2 L738.4 300.3 L743.3 299.3 L748.2 298.4 L753.1 297.4 L758.0 296.3 L762.9 295.3 L767.8 294.3 L772.7 293.2 L777.6 292.2 L782.5 291.2 L787.4 290.2 L792.3 289.2 L797.2 288.2 L802.1 287.1 L807.0 286.1 L811.9 285.1 L816.8 284.1 L821.7 283.1 L826.6 282.1 L831.6 281.1 L836.5 280.1 L841.4 279.1 L846.3 278.1 L851.2 277.1 L856.1 276.1 L861.0 275.1 L865.9 274.2 L870.8 273.2 L875.7 272.2 L880.7 271.2 L885.6 270.3 L890.5 269.3 L895.4 268.4 L900.3 267.4 L905.2 266.5 L910.2 265.6 L915.1 264.7 L920.0 263.8 L924.9 262.9 L929.9 262.1 L934.8 261.2 L939.7 260.4 L944.7 259.5 L949.6 258.7 L954.5 257.8 L959.5 257.0 L964.4 256.1 L969.4 255.3 L974.3 254.5 L979.2 253.6 L984.2 252.7 L989.1 251.9 L994.0 251.0 L999.0 250.2 L1003.9 249.3 L1008.8 248.5 L1013.8 247.7 L1018.7 246.8 L1023.6 245.9 L1028.6 245.1 L1033.5 244.2 L1038.4 243.4 L1043.4 242.5 L1048.3 241.6 L1053.2 240.7 L1058.2 239.8 L1063.1 239.0 L1068.0 238.1 L1072.9 237.2 L1077.9 236.3 L1082.8 235.4 L1087.7 234.5 L1092.6 233.6 L1097.6 232.7 L1102.5 231.8 L1107.4 230.9 L1112.3 230.0 L1117.3 229.1 L1122.2 228.1 L1127.1 227.2 L1132.0 226.2 L1136.9 225.3 L1141.8 224.3 L1146.8 223.4 L1151.7 222.5 L1156.6 221.6 L1161.5 220.7 L1166.5 219.9 L1171.4 219.0 L1176.4 218.2 L1181.3 217.5 L1186.3 216.7 L1191.2 216.0 L1196.2 215.3 L1201.1 214.7 L1206.1 214.0 L1211.1 213.3 L1216.0 212.6 L1221.0 211.9 L1225.9 211.2 L1230.9 210.5 L1235.8 209.8 L1240.8 209.0 L1245.7 208.2 L1250.7 207.4 L1255.6 206.7 L1260.6 205.8 L1265.5 205.0 L1270.5 204.2 L1275.4 203.4 L1280.3 202.6 L1285.3 201.7 L1290.2 200.9 L1295.1 200.1 L1300.1 199.2 L1305.0 198.3 L1309.9 197.5 L1314.9 196.6 L1319.8 195.7 L1324.7 194.9 L1329.7 194.0 L1334.6 193.1 L1339.5 192.2 L1344.4 191.3 L1349.4 190.4 L1354.3 189.5 L1359.2 188.6 L1364.1 187.7 L1369.1 186.8 L1374.0 185.9 L1378.9 185.0 L1383.9 184.1 L1388.8 183.2 L1393.7 182.3 L1398.6 181.4 L1403.6 180.6 L1408.5 179.7 L1413.4 178.8 L1418.3 177.9 L1423.3 177.0 L1428.2 176.1 L1433.1 175.3 L1438.1 174.4 L1443.0 173.5 L1447.9 172.7 L1452.9 171.8 L1457.8 170.9 L1462.7 170.1 L1467.7 169.2 L1472.6 168.3 L1477.5 167.5 L1482.4 166.6 L1487.4 165.7 L1492.3 164.8 L1497.2 163.9 L1502.2 163.0 L1507.1 162.1 L1512.0 161.2 L1516.9 160.3 L1521.8 159.3 L1526.8 158.4 L1531.7 157.4 L1536.6 156.5 L1541.5 155.5 L1546.4 154.6 L1551.3 153.6 L1556.2 152.6 L1561.2 151.7 L1566.1 150.7 L1571.0 149.7 L1575.9 148.7 L1580.8 147.7 L1585.7 146.7 L1590.6 145.7 L1595.5 144.7 L1600.4 143.7 L1605.3 142.7 L1610.2 141.6 L1615.1 140.6 L1620.0 139.6 L1624.9 138.6 L1629.8 137.6 L1634.7 136.5 L1639.6 135.5 L1644.5 134.5 L1649.4 133.5 L1654.3 132.4 L1659.2 131.4 L1664.1 130.4 L1669.0 129.4 L1673.9 128.3 L1678.8 127.3 L1683.7 126.3 L1688.6 125.2 L1693.5 124.2 L1698.4 123.2 L1703.3 122.1 L1708.2 121.1 L1713.1 120.1 L1718.0 119.1 L1722.9 118.0 L1727.8 117.0 L1732.7 116.0 L1737.6 114.9 L1742.5 113.9 L1747.4 112.8 L1752.3 111.7 L1757.2 110.7 L1762.1 109.6 L1767.0 108.4 L1771.8 107.3 L1776.7 106.2 L1781.6 105.0 L1786.5 103.9 L1791.3 102.7 L1796.2 101.5 L1801.1 100.4 L1805.9 99.2 L1810.8 98.0 L1815.7 96.8 L1820.5 95.7 L1825.4 94.5 L1830.3 93.3 L1835.1 92.2 L1840.0 91.0 L1844.9 89.8 L1849.8 88.7 L1854.6 87.5 L1859.5 86.4 L1864.4 85.2 L1869.2 84.0 L1874.1 82.8 L1878.9 81.6 L1883.8 80.3 L1888.6 79.0 L1893.5 77.7 L1898.3 76.4 L1903.1 75.1 L1908.0 73.8 L1912.8 72.5 L1917.6 71.2 L1922.5 69.8 L1927.3 68.4 L1932.1 67.0 L1936.9 65.6 L1941.6 64.1 L1946.4 62.5 L1951.1 60.9 L1955.9 59.2 L1960.6 57.5 L1965.2 55.7 L1969.9 53.8 L1974.4 51.8 L1979.0 49.7" stroke-dashoffset="0"/>
<path d="M361.0 956.6 L361.0 951.6 L361.0 946.6 L361.0 941.6 L361.0 936.6 L361.0 931.6 L361.0 926.6 L361.0 921.6 L361.0 916.5 L361.0 911.5 L361.0 906.5 L361.0 901.5 L361.0 896.5 L361.0 891.5 L361.0 886.5 L361.0 881.5 L361.0 876.5 L361.0 871.5 L361.0 866.5 L361.0 861.5 L361.0 856.5 L361.0 851.5 L361.0 846.4 L361.0 841.4 L361.0 836.4 L361.0 831.4 L361.0 826.4 L361.0 821.4 L361.0 816.4 L361.0 811.4 L361.0 806.4 L361.0 801.4 L361.0 796.4 L361.0 791.4 L361.0 786.4 L361.0 781.4 L361.0 776.3 L361.0 771.3 L361.0 766.3 L361.0 761.3 L361.0 756.3 L361.0 751.3 L361.0 746.3 L361.0 741.3 L361.0 736.3 L361.0 731.3 L361.0 726.3 L361.0 721.3 L361.0 716.3 L361.0 711.3 L361.0 706.2 L361.0 701.2 L361.0 696.2 L361.0 691.2 L361.0 686.2 L361.0 681.2 L361.0 676.2 L361.0 671.2 L361.0 666.2 L361.0 661.2 L361.0 656.2 L361.0 651.2 L361.0 646.2 L361.0 641.2 L361.0 636.1 L361.0 631.1 L361.0 626.1 L361.0 621.1 L361.0 616.1 L361.0 611.1 L361.0 606.1 L361.0 601.1 L361.0 596.1 L361.0 591.1 L361.0 586.1 L361.0 581.1 L361.0 576.1 L361.0 571.1 L361.0 566.0 L361.2 561.0 L361.7 556.1 L362.5 551.1 L363.3 546.2 L364.2 541.3 L365.4 536.4 L366.7 531.6 L368.5 526.9 L370.4 522.2 L372.5 517.7 L374.8 513.2 L377.3 508.9 L380.0 504.7 L382.9 500.6 L385.7 496.5 L388.3 492.2 L391.0 488.0 L393.8 483.8 L396.8 479.8 L400.2 476.1 L403.7 472.6 L407.4 469.2 L411.3 466.1 L415.3 463.0 L419.3 460.0 L423.4 457.2 L427.6 454.4 L431.8 451.7 L436.1 449.1 L440.3 446.5 L444.7 443.9 L449.0 441.4 L453.3 439.0 L457.8 436.6 L462.2 434.3 L466.7 432.1 L471.3 430.1 L475.9 428.0 L480.5 426.1 L485.1 424.1 L489.7 422.2 L494.4 420.4 L499.0 418.5 L503.7 416.7 L508.4 414.9 L513.0 413.1 L517.7 411.3 L522.4 409.6 L527.1 407.9 L531.9 406.3 L536.6 404.7 L541.3 403.1 L546.1 401.5 L550.9 400.0 L555.6 398.4 L560.4 396.9 L565.2 395.4 L570.0 393.9 L574.8 392.5 L579.5 391.0 L584.3 389.6 L589.2 388.2 L594.0 386.8 L598.8 385.5 L603.6 384.1 L608.4 382.8 L613.3 381.5 L618.1 380.1 L622.9 378.8 L627.8 377.5 L632.6 376.2 L637.4 374.9 L642.3 373.6 L647.1 372.3 L651.9 371.0 L656.8 369.7 L661.6 368.4 L666.5 367.2 L671.3 365.9 L676.1 364.6 L681.0 363.4 L685.8 362.1 L690.7 360.9 L695.6 359.7 L700.4 358.5 L705.3 357.3 L710.2 356.1 L715.0 355.0 L719.9 353.8 L724.8 352.7 L729.7 351.6 L734.5 350.5 L739.4 349.4 L744.3 348.3 L749.2 347.1 L754.1 346.0 L758.9 344.9 L763.8 343.8 L768.7 342.6 L773.6 341.5 L778.4 340.3 L783.3 339.2 L788.2 338.0 L793.0 336.8 L797.9 335.6 L802.8 334.5 L807.7 333.3 L812.5 332.1 L817.4 331.0 L822.3 329.8 L827.1 328.7 L832.0 327.6 L836.9 326.5 L841.8 325.4 L846.7 324.3 L851.6 323.3 L856.5 322.2 L861.4 321.2 L866.3 320.1 L871.2 319.1 L876.1 318.0 L881.0 317.0 L885.9 315.9 L890.8 314.9 L895.7 313.8 L900.5 312.8 L905.4 311.7 L910.3 310.6 L915.2 309.5 L920.1 308.5 L925.0 307.4 L929.9 306.3 L934.8 305.2 L939.7 304.1 L944.5 303.0 L949.4 301.9 L954.3 300.9 L959.2 299.8 L964.1 298.8 L969.0 297.7 L973.9 296.7 L978.8 295.7 L983.7 294.7 L988.6 293.6 L993.5 292.6 L998.4 291.6 L1003.3 290.6 L1008.2 289.6 L1013.1 288.6 L1018.0 287.6 L1023.0 286.6 L1027.9 285.6 L1032.8 284.6 L1037.7 283.6 L1042.6 282.6 L1047.5 281.6 L1052.4 280.6 L1057.3 279.6 L1062.2 278.6 L1067.1 277.6 L1072.0 276.6 L1076.9 275.6 L1081.8 274.6 L1086.7 273.6 L1091.6 272.6 L1096.5 271.5 L1101.4 270.5 L1106.3 269.4 L1111.2 268.3 L1116.1 267.2 L1121.0 266.1 L1125.9 265.0 L1130.7 263.9 L1135.6 262.8 L1140.5 261.8 L1145.4 260.7 L1150.3 259.6 L1155.2 258.5 L1160.1 257.5 L1165.0 256.4 L1169.9 255.4 L1174.8 254.4 L1179.7 253.4 L1184.6 252.3 L1189.5 251.3 L1194.4 250.3 L1199.3 249.3 L1204.2 248.3 L1209.1 247.3 L1214.0 246.3 L1218.9 245.3 L1223.8 244.3 L1228.7 243.3 L1233.6 242.3 L1238.6 241.3 L1243.5 240.3 L1248.4 239.3 L1253.3 238.4 L1258.2 237.4 L1263.1 236.4 L1268.0 235.4 L1272.9 234.5 L1277.8 233.5 L1282.8 232.6 L1287.7 231.6 L1292.6 230.7 L1297.5 229.8 L1302.5 228.9 L1307.4 228.0 L1312.3 227.1 L1317.2 226.2 L1322.2 225.3 L1327.1 224.4 L1332.0 223.5 L1336.9 222.6 L1341.9 221.7 L1346.8 220.8 L1351.7 219.8 L1356.6 218.9 L1361.5 217.9 L1366.4 217.0 L1371.4 216.0 L1376.3 215.0 L1381.2 214.1 L1386.1 213.1 L1391.0 212.1 L1395.9 211.1 L1400.8 210.0 L1405.7 209.0 L1410.6 207.9 L1415.5 206.8 L1420.4 205.7 L1425.2 204.6 L1430.1 203.4 L1435.0 202.2 L1439.8 201.0 L1444.7 199.7 L1449.5 198.5 L1454.4 197.2 L1459.2 195.9 L1464.0 194.7 L1468.9 193.4 L1473.7 192.2 L1478.6 191.0 L1483.5 189.8 L1488.3 188.6 L1493.2 187.4 L1498.1 186.2 L1502.9 185.1 L1507.8 183.9 L1512.7 182.8 L1517.6 181.6 L1522.4 180.5 L1527.3 179.3 L1532.2 178.2 L1537.1 177.1 L1541.9 176.0 L1546.8 174.8 L1551.7 173.7 L1556.6 172.6 L1561.5 171.6 L1566.4 170.5 L1571.3 169.4 L1576.2 168.3 L1581.0 167.3 L1585.9 166.2 L1590.8 165.1 L1595.7 164.1 L1600.6 163.0 L1605.5 161.8 L1610.4 160.7 L1615.2 159.5 L1620.1 158.4 L1625.0 157.2 L1629.8 156.0 L1634.7 154.8 L1639.6 153.6 L1644.4 152.4 L1649.3 151.2 L1654.1 150.0 L1659.0 148.7 L1663.8 147.5 L1668.7 146.2 L1673.5 145.0 L1678.4 143.7 L1683.2 142.4 L1688.1 141.2 L1692.9 139.9 L1697.7 138.6 L1702.6 137.3 L1707.4 136.0 L1712.2 134.7 L1717.1 133.4 L1721.9 132.1 L1726.7 130.8 L1731.6 129.4 L1736.4 128.1 L1741.2 126.7 L1746.0 125.4 L1750.8 124.0 L1755.7 122.7 L1760.5 121.3 L1765.3 119.9 L1770.1 118.5 L1774.9 117.2 L1779.7 115.8 L1784.6 114.4 L1789.4 113.0 L1794.2 111.7 L1799.0 110.3 L1803.8 108.9 L1808.6 107.5 L1813.4 106.2 L1818.3 104.8 L1823.1 103.5 L1827.9 102.1 L1832.7 100.7 L1837.5 99.4 L1842.4 98.0 L1847.2 96.6 L1852.0 95.2 L1856.8 93.9 L1861.6 92.5 L1866.4 91.1 L1871.2 89.7 L1876.0 88.2 L1880.8 86.8 L1885.6 85.3 L1890.4 83.8 L1895.2 82.3 L1899.9 80.8 L1904.7 79.3 L1909.5 77.7 L1914.2 76.2 L1919.0 74.6 L1923.7 73.0 L1928.5 71.4 L1933.2 69.8 L1937.9 68.1 L1942.6 66.3 L1947.3 64.5 L1951.9 62.6 L1956.5 60.7 L1961.1 58.6 L1965.6 56.5 L1970.1 54.4 L1974.6 52.1 L1979.0 49.7" stroke-dashoffset="0"/>
<path d="M361.0 956.6 L361.0 951.6 L361.0 946.6 L361.0 941.6 L361.0 936.6 L361.0 931.6 L361.0 926.6 L361.0 921.6 L361.0 916.6 L361.0 911.6 L361.0 906.6 L361.0 901.6 L361.0 896.6 L361.0 891.6 L361.0 886.6 L361.0 881.6 L361.0 876.6 L361.0 871.6 L361.0 866.6 L361.0 861.6 L361.0 856.6 L361.0 851.6 L361.0 846.6 L361.0 841.6 L361.0 836.6 L361.0 831.6 L361.0 826.6 L361.0 821.6 L361.0 816.6 L361.0 811.6 L361.0 806.6 L361.0 801.6 L361.0 796.6 L361.0 791.6 L361.0 786.6 L361.0 781.6 L361.0 776.6 L361.0 771.6 L361.0 766.6 L361.0 761.6 L361.0 756.6 L361.0 751.5 L361.0 746.5 L361.0 741.5 L361.0 736.5 L361.0 731.5 L361.0 726.5 L361.0 721.5 L361.0 716.5 L361.0 711.5 L361.0 706.5 L361.0 701.5 L361.0 696.5 L361.0 691.5 L361.0 686.5 L361.0 681.5 L361.0 676.5 L361.0 671.5 L361.0 666.5 L361.0 661.5 L361.0 656.5 L361.0 651.5 L361.0 646.5 L361.0 641.5 L361.0 636.5 L361.0 631.5 L361.0 626.5 L361.0 621.5 L361.0 616.5 L361.0 611.5 L361.0 606.5 L361.0 601.5 L361.0 596.5 L361.0 591.5 L361.1 586.5 L361.7 581.5 L362.4 576.6 L363.2 571.7 L364.1 566.7 L365.2 561.9 L366.6 557.0 L368.3 552.3 L370.2 547.7 L372.2 543.2 L374.5 538.7 L377.0 534.4 L380.0 530.3 L383.0 526.4 L385.9 522.3 L388.7 518.1 L391.5 514.0 L394.3 509.9 L397.3 505.9 L400.5 502.0 L403.7 498.2 L407.1 494.5 L410.6 490.9 L414.2 487.5 L418.0 484.2 L421.9 481.1 L426.0 478.2 L430.1 475.3 L434.3 472.6 L438.5 469.9 L442.8 467.4 L447.1 464.9 L451.5 462.4 L455.9 460.0 L460.3 457.6 L464.7 455.3 L469.1 453.0 L473.6 450.7 L478.1 448.5 L482.6 446.4 L487.2 444.4 L491.8 442.3 L496.4 440.4 L501.0 438.5 L505.6 436.6 L510.3 434.8 L514.9 433.0 L519.6 431.2 L524.3 429.5 L529.0 427.8 L533.7 426.1 L538.4 424.4 L543.2 422.8 L547.9 421.3 L552.7 419.8 L557.5 418.3 L562.3 416.9 L567.1 415.5 L571.9 414.1 L576.7 412.7 L581.5 411.3 L586.3 410.0 L591.1 408.7 L596.0 407.3 L600.8 406.0 L605.6 404.7 L610.4 403.4 L615.3 402.1 L620.1 400.9 L624.9 399.6 L629.8 398.4 L634.6 397.2 L639.5 395.9 L644.4 394.7 L649.2 393.5 L654.1 392.3 L658.9 391.1 L663.8 390.0 L668.6 388.8 L673.5 387.6 L678.4 386.5 L683.2 385.3 L688.1 384.2 L693.0 383.1 L697.9 382.0 L702.7 380.9 L707.6 379.7 L712.5 378.6 L717.4 377.5 L722.2 376.4 L727.1 375.2 L732.0 374.1 L736.8 372.9 L741.7 371.8 L746.6 370.6 L751.4 369.5 L756.3 368.3 L761.2 367.2 L766.0 366.0 L770.9 364.8 L775.8 363.7 L780.6 362.5 L785.5 361.4 L790.4 360.2 L795.2 359.0 L800.1 357.9 L804.9 356.7 L809.8 355.5 L814.7 354.3 L819.5 353.1 L824.4 351.9 L829.2 350.7 L834.1 349.6 L839.0 348.4 L843.8 347.2 L848.7 346.1 L853.6 344.9 L858.4 343.8 L863.3 342.7 L868.2 341.6 L873.1 340.5 L878.0 339.5 L882.8 338.4 L887.7 337.4 L892.6 336.3 L897.5 335.2 L902.4 334.2 L907.3 333.1 L912.2 332.1 L917.1 331.0 L922.0 330.0 L926.8 328.9 L931.7 327.9 L936.6 326.8 L941.5 325.8 L946.4 324.7 L951.3 323.7 L956.2 322.7 L961.1 321.6 L966.0 320.6 L970.9 319.5 L975.7 318.4 L980.6 317.3 L985.5 316.2 L990.4 315.1 L995.2 313.9 L1000.1 312.8 L1005.0 311.6 L1009.8 310.4 L1014.7 309.2 L1019.5 308.0 L1024.4 306.9 L1029.3 305.7 L1034.1 304.5 L1039.0 303.3 L1043.9 302.2 L1048.7 301.1 L1053.6 299.9 L1058.5 298.8 L1063.4 297.8 L1068.2 296.7 L1073.1 295.6 L1078.0 294.6 L1082.9 293.5 L1087.8 292.4 L1092.7 291.4 L1097.6 290.3 L1102.5 289.3 L1107.3 288.2 L1112.2 287.1 L1117.1 286.0 L1122.0 284.9 L1126.9 283.8 L1131.7 282.7 L1136.6 281.5 L1141.5 280.4 L1146.3 279.3 L1151.2 278.1 L1156.1 277.0 L1160.9 275.8 L1165.8 274.7 L1170.7 273.6 L1175.6 272.4 L1180.4 271.3 L1185.3 270.2 L1190.2 269.1 L1195.1 268.0 L1200.0 266.9 L1204.8 265.9 L1209.7 264.8 L1214.6 263.7 L1219.5 262.6 L1224.4 261.5 L1229.3 260.5 L1234.1 259.4 L1239.0 258.4 L1243.9 257.3 L1248.8 256.3 L1253.7 255.2 L1258.6 254.2 L1263.5 253.2 L1268.4 252.2 L1273.3 251.2 L1278.2 250.2 L1283.1 249.2 L1288.0 248.3 L1292.9 247.3 L1297.8 246.3 L1302.7 245.3 L1307.6 244.3 L1312.5 243.3 L1317.4 242.3 L1322.3 241.3 L1327.2 240.3 L1332.1 239.3 L1337.0 238.3 L1341.9 237.2 L1346.8 236.2 L1351.7 235.1 L1356.6 234.1 L1361.5 233.0 L1366.3 231.9 L1371.2 230.8 L1376.1 229.7 L1381.0 228.6 L1385.8 227.4 L1390.7 226.3 L1395.6 225.2 L1400.5 224.0 L1405.3 222.8 L1410.2 221.7 L1415.0 220.5 L1419.9 219.3 L1424.7 218.1 L1429.6 216.8 L1434.4 215.6 L1439.3 214.3 L1444.1 213.0 L1448.9 211.7 L1453.8 210.4 L1458.6 209.1 L1463.4 207.8 L1468.3 206.5 L1473.1 205.3 L1477.9 204.0 L1482.8 202.7 L1487.6 201.5 L1492.4 200.2 L1497.3 199.0 L1502.1 197.7 L1507.0 196.5 L1511.8 195.3 L1516.7 194.0 L1521.5 192.8 L1526.4 191.6 L1531.2 190.3 L1536.1 189.1 L1540.9 187.9 L1545.8 186.7 L1550.6 185.4 L1555.5 184.2 L1560.3 182.9 L1565.1 181.7 L1570.0 180.5 L1574.8 179.2 L1579.7 178.0 L1584.5 176.7 L1589.4 175.4 L1594.2 174.2 L1599.0 172.9 L1603.9 171.6 L1608.7 170.3 L1613.5 169.0 L1618.3 167.7 L1623.2 166.4 L1628.0 165.1 L1632.8 163.8 L1637.6 162.4 L1642.5 161.1 L1647.3 159.8 L1652.1 158.4 L1656.9 157.1 L1661.7 155.7 L1666.5 154.3 L1671.4 153.0 L1676.2 151.6 L1681.0 150.3 L1685.8 148.9 L1690.6 147.5 L1695.4 146.1 L1700.2 144.7 L1705.0 143.4 L1709.8 142.0 L1714.6 140.6 L1719.4 139.2 L1724.2 137.8 L1729.0 136.4 L1733.8 135.0 L1738.6 133.6 L1743.4 132.2 L1748.2 130.8 L1753.0 129.3 L1757.8 127.9 L1762.6 126.5 L1767.4 125.1 L1772.2 123.6 L1777.0 122.2 L1781.8 120.7 L1786.6 119.3 L1791.3 117.8 L1796.1 116.4 L1800.9 114.9 L1805.7 113.5 L1810.5 112.0 L1815.3 110.5 L1820.0 109.1 L1824.8 107.6 L1829.6 106.2 L1834.4 104.7 L1839.2 103.3 L1844.0 101.8 L1848.7 100.3 L1853.5 98.8 L1858.3 97.3 L1863.1 95.8 L1867.8 94.3 L1872.6 92.8 L1877.3 91.3 L1882.1 89.7 L1886.8 88.1 L1891.6 86.5 L1896.3 84.9 L1901.0 83.2 L1905.7 81.6 L1910.5 79.9 L1915.2 78.2 L1919.9 76.5 L1924.6 74.8 L1929.2 73.0 L1933.9 71.2 L1938.6 69.4 L1943.2 67.5 L1947.8 65.5 L1952.3 63.4 L1956.9 61.3 L1961.4 59.2 L1965.9 56.9 L1970.3 54.6 L1974.7 52.2 L1979.0 49.7" stroke-dashoffset="0"/>
<path d="M361.0 956.6 L361.0 951.6 L361.0 946.6 L361.0 941.6 L361.0 936.6 L361.0 931.6 L361.0 926.6 L361.0 921.6 L361.0 916.6 L361.0 911.5 L361.0 906.5 L361.0 901.5 L361.0 896.5 L361.0 891.5 L361.0 886.5 L361.0 881.5 L361.0 876.5 L361.0 871.5 L361.0 866.5 L361.0 861.5 L361.0 856.5 L361.0 851.5 L361.0 846.5 L361.0 841.5 L361.0 836.5 L361.0 831.5 L361.0 826.5 L361.0 821.4 L361.0 816.4 L361.0 811.4 L361.0 806.4 L361.0 801.4 L361.0 796.4 L361.0 791.4 L361.0 786.4 L361.0 781.4 L361.0 776.4 L361.0 771.4 L361.0 766.4 L361.0 761.4 L361.0 756.4 L361.0 751.4 L361.0 746.4 L361.0 741.4 L361.0 736.4 L361.0 731.3 L361.0 726.3 L361.0 721.3 L361.0 716.3 L361.0 711.3 L361.0 706.3 L361.0 701.3 L361.0 696.3 L361.0 691.3 L361.0 686.3 L361.0 681.3 L361.0 676.3 L361.0 671.3 L361.0 666.3 L361.0 661.3 L361.0 656.3 L361.0 651.3 L361.0 646.2 L361.0 641.2 L361.0 636.2 L361.1 631.2 L361.1 626.2 L361.1 621.2 L361.2 616.2 L361.4 611.2 L361.6 606.2 L361.8 601.2 L362.1 596.2 L362.5 591.2 L363.1 586.3 L364.1 581.3 L365.3 576.5 L366.6 571.7 L368.1 566.9 L369.8 562.2 L371.6 557.5 L373.7 553.0 L376.0 548.5 L378.3 544.1 L380.8 539.7 L383.5 535.5 L386.6 531.6 L389.9 527.8 L393.3 524.2 L396.7 520.5 L400.3 517.0 L404.0 513.6 L407.7 510.2 L411.5 507.0 L415.4 503.8 L419.4 500.8 L423.4 497.8 L427.4 494.8 L431.4 491.8 L435.5 488.9 L439.7 486.2 L443.9 483.5 L448.2 480.9 L452.5 478.4 L456.9 475.9 L461.3 473.6 L465.7 471.3 L470.2 469.1 L474.7 466.9 L479.2 464.7 L483.8 462.6 L488.3 460.5 L492.8 458.4 L497.4 456.3 L502.0 454.2 L506.5 452.2 L511.1 450.2 L515.7 448.3 L520.4 446.4 L525.0 444.5 L529.7 442.7 L534.4 440.9 L539.0 439.1 L543.7 437.4 L548.4 435.7 L553.2 434.0 L557.9 432.4 L562.6 430.8 L567.4 429.2 L572.1 427.6 L576.9 426.1 L581.7 424.5 L586.4 423.1 L591.2 421.6 L596.0 420.2 L600.8 418.8 L605.7 417.5 L610.5 416.1 L615.3 414.8 L620.2 413.5 L625.0 412.2 L629.8 410.9 L634.7 409.6 L639.5 408.3 L644.3 407.0 L649.2 405.7 L654.0 404.5 L658.8 403.2 L663.7 402.0 L668.5 400.7 L673.4 399.5 L678.3 398.3 L683.1 397.0 L688.0 395.8 L692.8 394.6 L697.7 393.4 L702.5 392.2 L707.4 391.0 L712.3 389.8 L717.1 388.7 L722.0 387.5 L726.9 386.3 L731.7 385.2 L736.6 384.0 L741.5 382.9 L746.4 381.7 L751.2 380.6 L756.1 379.5 L761.0 378.3 L765.8 377.2 L770.7 376.0 L775.6 374.9 L780.5 373.7 L785.3 372.5 L790.2 371.4 L795.1 370.2 L799.9 369.0 L804.8 367.9 L809.7 366.7 L814.5 365.5 L819.4 364.4 L824.3 363.2 L829.1 362.0 L834.0 360.8 L838.9 359.7 L843.7 358.5 L848.6 357.3 L853.5 356.1 L858.3 354.9 L863.2 353.7 L868.0 352.5 L872.9 351.3 L877.8 350.2 L882.6 349.0 L887.5 347.8 L892.4 346.6 L897.2 345.5 L902.1 344.3 L907.0 343.2 L911.9 342.0 L916.7 340.9 L921.6 339.8 L926.5 338.7 L931.4 337.6 L936.3 336.5 L941.1 335.4 L946.0 334.3 L950.9 333.2 L955.8 332.1 L960.7 331.0 L965.6 329.9 L970.4 328.8 L975.3 327.7 L980.2 326.6 L985.1 325.5 L990.0 324.4 L994.9 323.3 L999.7 322.2 L1004.6 321.1 L1009.5 320.0 L1014.4 318.9 L1019.3 317.8 L1024.1 316.6 L1029.0 315.5 L1033.9 314.3 L1038.7 313.1 L1043.6 311.9 L1048.4 310.7 L1053.3 309.5 L1058.2 308.2 L1063.0 307.0 L1067.9 305.8 L1072.7 304.6 L1077.6 303.4 L1082.5 302.2 L1087.3 301.0 L1092.2 299.9 L1097.1 298.7 L1101.9 297.6 L1106.8 296.4 L1111.7 295.3 L1116.6 294.2 L1121.4 293.1 L1126.3 292.0 L1131.2 290.8 L1136.1 289.7 L1141.0 288.6 L1145.8 287.5 L1150.7 286.3 L1155.6 285.2 L1160.5 284.0 L1165.3 282.9 L1170.2 281.7 L1175.1 280.5 L1179.9 279.4 L1184.8 278.2 L1189.7 277.0 L1194.5 275.8 L1199.4 274.7 L1204.3 273.5 L1209.1 272.3 L1214.0 271.2 L1218.9 270.0 L1223.7 268.9 L1228.6 267.7 L1233.5 266.6 L1238.4 265.4 L1243.2 264.3 L1248.1 263.2 L1253.0 262.0 L1257.9 260.9 L1262.7 259.8 L1267.6 258.7 L1272.5 257.6 L1277.4 256.5 L1282.3 255.4 L1287.1 254.3 L1292.0 253.2 L1296.9 252.1 L1301.8 251.0 L1306.7 250.0 L1311.6 248.9 L1316.5 247.8 L1321.4 246.8 L1326.3 245.7 L1331.2 244.6 L1336.0 243.6 L1340.9 242.5 L1345.8 241.4 L1350.7 240.3 L1355.6 239.2 L1360.5 238.1 L1365.4 237.0 L1370.2 235.9 L1375.1 234.8 L1380.0 233.6 L1384.9 232.5 L1389.7 231.3 L1394.6 230.2 L1399.5 229.0 L1404.3 227.8 L1409.2 226.6 L1414.1 225.4 L1418.9 224.2 L1423.8 223.0 L1428.6 221.8 L1433.5 220.6 L1438.3 219.3 L1443.2 218.1 L1448.0 216.8 L1452.8 215.5 L1457.7 214.2 L1462.5 212.9 L1467.3 211.6 L1472.2 210.2 L1477.0 208.9 L1481.8 207.6 L1486.7 206.3 L1491.5 205.0 L1496.3 203.7 L1501.2 202.4 L1506.0 201.1 L1510.8 199.8 L1515.7 198.5 L1520.5 197.2 L1525.3 195.9 L1530.2 194.6 L1535.0 193.3 L1539.8 192.1 L1544.7 190.8 L1549.5 189.5 L1554.4 188.2 L1559.2 186.9 L1564.0 185.6 L1568.9 184.3 L1573.7 183.0 L1578.5 181.8 L1583.4 180.5 L1588.2 179.1 L1593.0 177.8 L1597.9 176.5 L1602.7 175.2 L1607.5 173.9 L1612.4 172.6 L1617.2 171.2 L1622.0 169.9 L1626.8 168.5 L1631.6 167.2 L1636.4 165.8 L1641.3 164.4 L1646.1 163.0 L1650.9 161.7 L1655.7 160.3 L1660.5 158.9 L1665.3 157.5 L1670.1 156.1 L1674.9 154.7 L1679.7 153.3 L1684.5 151.9 L1689.3 150.4 L1694.1 149.0 L1698.9 147.6 L1703.7 146.2 L1708.5 144.8 L1713.3 143.3 L1718.1 141.9 L1722.9 140.5 L1727.7 139.0 L1732.5 137.6 L1737.3 136.2 L1742.1 134.7 L1746.9 133.3 L1751.7 131.8 L1756.5 130.4 L1761.3 128.9 L1766.1 127.5 L1770.8 126.0 L1775.6 124.5 L1780.4 123.1 L1785.2 121.6 L1790.0 120.2 L1794.8 118.7 L1799.6 117.2 L1804.3 115.7 L1809.1 114.3 L1813.9 112.8 L1818.7 111.3 L1823.5 109.8 L1828.2 108.3 L1833.0 106.8 L1837.8 105.3 L1842.6 103.8 L1847.3 102.3 L1852.1 100.7 L1856.9 99.2 L1861.6 97.6 L1866.4 96.1 L1871.1 94.5 L1875.9 92.9 L1880.6 91.3 L1885.3 89.7 L1890.1 88.0 L1894.8 86.4 L1899.5 84.7 L1904.2 83.0 L1908.9 81.3 L1913.6 79.6 L1918.3 77.8 L1923.0 76.1 L1927.7 74.3 L1932.4 72.5 L1937.0 70.6 L1941.6 68.8 L1946.3 66.8 L1950.9 64.9 L1955.5 62.9 L1960.0 60.8 L1964.5 58.7 L1969.1 56.5 L1973.6 54.3 L1978.0 52.0 L1982.4 49.7" stroke-dashoffset="0"/>
<path d="M361.0 956.6 L361.0 951.6 L361.0 946.6 L361.0 941.6 L361.0 936.6 L361.0 931.6 L361.0 926.5 L361.0 921.5 L361.0 916.5 L361.0 911.5 L361.0 906.5 L361.0 901.5 L361.0 896.5 L361.0 891.5 L361.0 886.5 L361.0 881.5 L361.0 876.5 L361.0 871.5 L361.0 866.4 L361.0 861.4 L361.0 856.4 L361.0 851.4 L361.0 846.4 L361.0 841.4 L361.0 836.4 L361.0 831.4 L361.0 826.4 L361.0 821.4 L361.0 816.4 L361.0 811.4 L361.0 806.3 L361.0 801.3 L361.0 796.3 L361.0 791.3 L361.0 786.3 L361.0 781.3 L361.0 776.3 L361.0 771.3 L361.0 766.3 L361.0 761.3 L361.0 756.3 L361.0 751.3 L361.0 746.2 L361.0 741.2 L361.0 736.2 L361.0 731.2 L361.0 726.2 L361.0 721.2 L361.0 716.2 L361.0 711.2 L361.0 706.2 L361.0 701.2 L361.0 696.2 L361.0 691.2 L361.0 686.1 L361.0 681.1 L361.0 676.1 L361.0 671.1 L361.0 666.1 L361.0 661.1 L361.0 656.1 L361.0 651.1 L361.0 646.1 L361.0 641.1 L361.0 636.1 L361.1 631.1 L361.1 626.0 L361.2 621.0 L361.4 616.0 L361.7 611.0 L362.0 606.0 L362.4 601.0 L363.0 596.1 L363.6 591.1 L364.5 586.2 L365.8 581.3 L367.3 576.5 L368.9 571.8 L370.8 567.2 L372.8 562.6 L374.9 558.1 L377.3 553.6 L379.7 549.3 L382.3 545.0 L384.9 540.7 L387.7 536.5 L390.9 532.7 L394.3 529.0 L397.9 525.5 L401.6 522.1 L405.4 518.9 L409.4 515.8 L413.4 512.9 L417.5 510.0 L421.6 507.1 L425.8 504.4 L430.1 501.8 L434.4 499.2 L438.7 496.6 L442.9 493.9 L447.1 491.3 L451.5 488.7 L455.8 486.3 L460.3 484.0 L464.7 481.7 L469.2 479.4 L473.6 477.1 L478.1 474.9 L482.7 472.8 L487.3 470.8 L491.8 468.7 L496.4 466.7 L501.0 464.8 L505.7 462.8 L510.3 460.9 L514.9 458.9 L519.5 457.0 L524.1 455.1 L528.8 453.2 L533.4 451.3 L538.1 449.5 L542.7 447.7 L547.4 445.9 L552.1 444.2 L556.8 442.5 L561.6 440.8 L566.3 439.2 L571.0 437.5 L575.8 435.9 L580.5 434.3 L585.3 432.8 L590.0 431.2 L594.8 429.7 L599.6 428.2 L604.4 426.8 L609.2 425.3 L614.0 423.9 L618.8 422.5 L623.6 421.1 L628.4 419.8 L633.3 418.4 L638.1 417.2 L642.9 415.9 L647.8 414.6 L652.6 413.4 L657.5 412.1 L662.3 410.8 L667.2 409.6 L672.0 408.3 L676.9 407.0 L681.7 405.8 L686.6 404.5 L691.4 403.3 L696.3 402.1 L701.1 400.8 L706.0 399.6 L710.8 398.4 L715.7 397.2 L720.6 396.0 L725.4 394.7 L730.3 393.5 L735.2 392.3 L740.0 391.2 L744.9 390.0 L749.7 388.8 L754.6 387.6 L759.5 386.4 L764.4 385.2 L769.2 384.1 L774.1 382.9 L779.0 381.8 L783.8 380.6 L788.7 379.5 L793.6 378.3 L798.5 377.1 L803.3 376.0 L808.2 374.8 L813.1 373.6 L817.9 372.5 L822.8 371.3 L827.7 370.1 L832.5 368.9 L837.4 367.8 L842.3 366.6 L847.1 365.4 L852.0 364.2 L856.9 363.0 L861.8 361.9 L866.6 360.7 L871.5 359.5 L876.4 358.3 L881.2 357.1 L886.1 355.9 L890.9 354.7 L895.8 353.5 L900.7 352.3 L905.5 351.1 L910.4 350.0 L915.3 348.8 L920.1 347.6 L925.0 346.4 L929.9 345.2 L934.7 344.1 L939.6 342.9 L944.5 341.8 L949.4 340.6 L954.2 339.5 L959.1 338.3 L964.0 337.2 L968.9 336.1 L973.8 334.9 L978.6 333.8 L983.5 332.7 L988.4 331.6 L993.3 330.4 L998.2 329.3 L1003.0 328.1 L1007.9 327.0 L1012.8 325.9 L1017.7 324.8 L1022.5 323.6 L1027.4 322.5 L1032.3 321.3 L1037.2 320.2 L1042.0 319.0 L1046.9 317.9 L1051.8 316.7 L1056.6 315.5 L1061.5 314.3 L1066.4 313.1 L1071.2 311.8 L1076.1 310.6 L1080.9 309.4 L1085.8 308.1 L1090.6 306.9 L1095.5 305.7 L1100.3 304.4 L1105.2 303.2 L1110.1 302.0 L1114.9 300.8 L1119.8 299.6 L1124.6 298.4 L1129.5 297.2 L1134.4 296.0 L1139.3 294.9 L1144.1 293.7 L1149.0 292.5 L1153.9 291.4 L1158.7 290.2 L1163.6 289.0 L1168.5 287.9 L1173.4 286.7 L1178.2 285.5 L1183.1 284.3 L1188.0 283.1 L1192.8 282.0 L1197.7 280.8 L1202.5 279.6 L1207.4 278.4 L1212.3 277.2 L1217.1 276.0 L1222.0 274.8 L1226.9 273.6 L1231.7 272.4 L1236.6 271.2 L1241.5 270.0 L1246.3 268.8 L1251.2 267.6 L1256.1 266.4 L1260.9 265.3 L1265.8 264.1 L1270.7 262.9 L1275.5 261.7 L1280.4 260.6 L1285.3 259.4 L1290.1 258.2 L1295.0 257.1 L1299.9 255.9 L1304.8 254.8 L1309.6 253.6 L1314.5 252.5 L1319.4 251.4 L1324.3 250.2 L1329.1 249.1 L1334.0 248.0 L1338.9 246.9 L1343.8 245.7 L1348.7 244.6 L1353.5 243.5 L1358.4 242.3 L1363.3 241.2 L1368.2 240.1 L1373.1 238.9 L1377.9 237.7 L1382.8 236.6 L1387.7 235.4 L1392.5 234.2 L1397.4 233.0 L1402.3 231.8 L1407.1 230.6 L1412.0 229.4 L1416.8 228.2 L1421.7 226.9 L1426.5 225.7 L1431.4 224.5 L1436.2 223.2 L1441.1 222.0 L1445.9 220.7 L1450.8 219.4 L1455.6 218.1 L1460.5 216.8 L1465.3 215.5 L1470.1 214.2 L1475.0 212.9 L1479.8 211.5 L1484.6 210.2 L1489.4 208.9 L1494.3 207.5 L1499.1 206.2 L1503.9 204.8 L1508.7 203.5 L1513.6 202.2 L1518.4 200.9 L1523.2 199.5 L1528.1 198.2 L1532.9 196.9 L1537.7 195.6 L1542.6 194.2 L1547.4 192.9 L1552.2 191.6 L1557.0 190.3 L1561.9 188.9 L1566.7 187.6 L1571.5 186.3 L1576.4 185.0 L1581.2 183.6 L1586.0 182.3 L1590.8 180.9 L1595.7 179.6 L1600.5 178.2 L1605.3 176.9 L1610.1 175.5 L1614.9 174.2 L1619.8 172.8 L1624.6 171.4 L1629.4 170.0 L1634.2 168.7 L1639.0 167.3 L1643.8 165.9 L1648.6 164.4 L1653.4 163.0 L1658.2 161.6 L1663.0 160.2 L1667.8 158.8 L1672.6 157.3 L1677.4 155.9 L1682.2 154.5 L1687.0 153.0 L1691.8 151.6 L1696.6 150.1 L1701.4 148.7 L1706.2 147.2 L1711.0 145.8 L1715.8 144.3 L1720.6 142.9 L1725.4 141.4 L1730.2 139.9 L1735.0 138.5 L1739.7 137.0 L1744.5 135.5 L1749.3 134.0 L1754.1 132.6 L1758.9 131.1 L1763.7 129.6 L1768.5 128.1 L1773.3 126.7 L1778.0 125.2 L1782.8 123.7 L1787.6 122.2 L1792.4 120.8 L1797.2 119.3 L1802.0 117.8 L1806.7 116.3 L1811.5 114.8 L1816.3 113.3 L1821.1 111.8 L1825.9 110.3 L1830.6 108.8 L1835.4 107.2 L1840.2 105.7 L1844.9 104.1 L1849.7 102.6 L1854.4 101.0 L1859.2 99.4 L1863.9 97.8 L1868.7 96.2 L1873.4 94.6 L1878.2 93.0 L1882.9 91.3 L1887.6 89.7 L1892.3 88.0 L1897.0 86.3 L1901.7 84.6 L1906.4 82.8 L1911.1 81.1 L1915.8 79.3 L1920.5 77.5 L1925.2 75.8 L1929.9 73.9 L1934.5 72.1 L1939.2 70.2 L1943.8 68.4 L1948.4 66.4 L1953.0 64.5 L1957.6 62.5 L1962.2 60.4 L1966.8 58.3 L1971.3 56.2 L1975.8 54.1 L1980.3 51.9 L1984.8 49.7" stroke-dashoffset="0"/>
<path d="M361.0 956.6 L361.0 951.6 L361.0 946.6 L361.0 941.6 L361.0 936.6 L361.0 931.6 L361.0 926.6 L361.0 921.6 L361.0 916.6 L361.0 911.6 L361.0 906.6 L361.0 901.6 L361.0 896.6 L361.0 891.6 L361.0 886.5 L361.0 881.5 L361.0 876.5 L361.0 871.5 L361.0 866.5 L361.0 861.5 L361.0 856.5 L361.0 851.5 L361.0 846.5 L361.0 841.5 L361.0 836.5 L361.0 831.5 L361.0 826.5 L361.0 821.5 L361.0 816.5 L361.0 811.5 L361.0 806.5 L361.0 801.5 L361.0 796.5 L361.0 791.5 L361.0 786.5 L361.0 781.5 L361.0 776.5 L361.0 771.5 L361.0 766.5 L361.0 761.5 L361.0 756.5 L361.0 751.4 L361.0 746.4 L361.0 741.4 L361.0 736.4 L361.0 731.4 L361.0 726.4 L361.0 721.4 L361.0 716.4 L361.0 711.4 L361.0 706.4 L361.0 701.4 L361.0 696.4 L361.0 691.4 L361.0 686.4 L361.0 681.4 L361.0 676.4 L361.0 671.4 L361.0 666.4 L361.0 661.4 L361.0 656.4 L361.0 651.4 L361.0 646.4 L361.0 641.4 L361.1 636.4 L361.1 631.4 L361.2 626.4 L361.3 621.4 L361.5 616.4 L361.8 611.4 L362.3 606.4 L362.8 601.4 L363.4 596.4 L364.3 591.5 L365.3 586.6 L366.8 581.8 L368.4 577.1 L370.3 572.5 L372.3 567.9 L374.5 563.4 L376.9 559.0 L379.3 554.6 L381.9 550.4 L384.6 546.1 L387.3 541.9 L390.2 537.8 L393.3 533.9 L396.8 530.3 L400.4 526.9 L404.2 523.6 L408.1 520.4 L412.2 517.6 L416.4 514.8 L420.6 512.1 L424.8 509.5 L429.1 506.9 L433.5 504.4 L437.9 502.0 L442.3 499.7 L446.7 497.4 L451.1 494.9 L455.4 492.5 L459.8 490.0 L464.3 487.8 L468.8 485.6 L473.3 483.4 L477.8 481.3 L482.3 479.1 L486.8 477.0 L491.4 474.9 L496.0 473.0 L500.6 471.1 L505.3 469.2 L509.9 467.3 L514.5 465.4 L519.2 463.6 L523.9 461.8 L528.5 459.9 L533.2 458.1 L537.8 456.2 L542.5 454.4 L547.1 452.6 L551.8 450.9 L556.5 449.1 L561.2 447.4 L565.9 445.7 L570.7 444.1 L575.4 442.4 L580.1 440.8 L584.9 439.2 L589.6 437.7 L594.4 436.1 L599.1 434.6 L603.9 433.1 L608.7 431.6 L613.5 430.2 L618.3 428.7 L623.1 427.3 L627.9 425.9 L632.7 424.5 L637.5 423.1 L642.3 421.8 L647.1 420.5 L652.0 419.2 L656.8 417.9 L661.7 416.7 L666.5 415.4 L671.4 414.2 L676.2 413.0 L681.1 411.7 L685.9 410.5 L690.8 409.3 L695.6 408.0 L700.5 406.8 L705.3 405.5 L710.1 404.3 L715.0 403.1 L719.9 401.9 L724.7 400.6 L729.6 399.4 L734.4 398.2 L739.3 397.0 L744.1 395.8 L749.0 394.6 L753.8 393.4 L758.7 392.2 L763.6 391.0 L768.4 389.8 L773.3 388.6 L778.1 387.4 L783.0 386.2 L787.9 385.1 L792.7 383.9 L797.6 382.7 L802.5 381.6 L807.3 380.4 L812.2 379.2 L817.1 378.0 L821.9 376.9 L826.8 375.7 L831.6 374.5 L836.5 373.4 L841.4 372.2 L846.2 371.0 L851.1 369.8 L856.0 368.6 L860.8 367.5 L865.7 366.3 L870.5 365.1 L875.4 363.9 L880.3 362.7 L885.1 361.5 L890.0 360.4 L894.9 359.2 L899.7 358.0 L904.6 356.8 L909.4 355.6 L914.3 354.4 L919.2 353.2 L924.0 352.0 L928.9 350.8 L933.7 349.6 L938.6 348.4 L943.4 347.2 L948.3 346.1 L953.2 344.9 L958.0 343.7 L962.9 342.5 L967.8 341.4 L972.6 340.2 L977.5 339.0 L982.4 337.9 L987.2 336.7 L992.1 335.6 L997.0 334.4 L1001.8 333.3 L1006.7 332.1 L1011.6 331.0 L1016.5 329.8 L1021.3 328.7 L1026.2 327.5 L1031.1 326.3 L1035.9 325.2 L1040.8 324.0 L1045.7 322.9 L1050.5 321.7 L1055.4 320.5 L1060.3 319.3 L1065.1 318.1 L1070.0 316.9 L1074.8 315.7 L1079.7 314.5 L1084.5 313.3 L1089.4 312.0 L1094.2 310.8 L1099.1 309.6 L1103.9 308.3 L1108.8 307.0 L1113.6 305.8 L1118.4 304.5 L1123.3 303.3 L1128.1 302.1 L1133.0 300.8 L1137.8 299.6 L1142.7 298.4 L1147.5 297.2 L1152.4 296.0 L1157.3 294.8 L1162.1 293.6 L1167.0 292.4 L1171.8 291.2 L1176.7 290.0 L1181.6 288.8 L1186.4 287.6 L1191.3 286.4 L1196.1 285.2 L1201.0 284.0 L1205.8 282.8 L1210.7 281.6 L1215.6 280.4 L1220.4 279.1 L1225.3 277.9 L1230.1 276.7 L1235.0 275.5 L1239.8 274.3 L1244.7 273.1 L1249.5 271.9 L1254.4 270.7 L1259.2 269.4 L1264.1 268.2 L1268.9 267.0 L1273.8 265.8 L1278.7 264.6 L1283.5 263.4 L1288.4 262.2 L1293.2 261.0 L1298.1 259.8 L1302.9 258.6 L1307.8 257.4 L1312.7 256.2 L1317.5 255.0 L1322.4 253.8 L1327.2 252.7 L1332.1 251.5 L1337.0 250.3 L1341.8 249.1 L1346.7 248.0 L1351.6 246.8 L1356.4 245.6 L1361.3 244.4 L1366.2 243.3 L1371.0 242.1 L1375.9 240.9 L1380.7 239.7 L1385.6 238.5 L1390.5 237.3 L1395.3 236.1 L1400.2 234.9 L1405.0 233.6 L1409.9 232.4 L1414.7 231.2 L1419.6 229.9 L1424.4 228.7 L1429.3 227.4 L1434.1 226.2 L1438.9 224.9 L1443.8 223.6 L1448.6 222.4 L1453.5 221.1 L1458.3 219.8 L1463.1 218.5 L1467.9 217.2 L1472.8 215.9 L1477.6 214.5 L1482.4 213.2 L1487.2 211.8 L1492.1 210.5 L1496.9 209.1 L1501.7 207.8 L1506.5 206.4 L1511.3 205.1 L1516.1 203.7 L1521.0 202.4 L1525.8 201.0 L1530.6 199.7 L1535.4 198.3 L1540.2 197.0 L1545.1 195.6 L1549.9 194.3 L1554.7 192.9 L1559.5 191.6 L1564.3 190.2 L1569.1 188.9 L1574.0 187.5 L1578.8 186.2 L1583.6 184.8 L1588.4 183.4 L1593.2 182.1 L1598.0 180.7 L1602.8 179.3 L1607.7 178.0 L1612.5 176.6 L1617.3 175.2 L1622.1 173.8 L1626.9 172.4 L1631.7 171.0 L1636.5 169.6 L1641.3 168.2 L1646.1 166.7 L1650.9 165.3 L1655.7 163.9 L1660.5 162.4 L1665.3 161.0 L1670.0 159.6 L1674.8 158.1 L1679.6 156.7 L1684.4 155.2 L1689.2 153.7 L1694.0 152.3 L1698.8 150.8 L1703.5 149.3 L1708.3 147.8 L1713.1 146.4 L1717.9 144.9 L1722.7 143.4 L1727.4 141.9 L1732.2 140.4 L1737.0 139.0 L1741.8 137.5 L1746.6 136.0 L1751.3 134.5 L1756.1 133.0 L1760.9 131.5 L1765.7 130.0 L1770.4 128.5 L1775.2 127.0 L1780.0 125.6 L1784.8 124.1 L1789.5 122.6 L1794.3 121.1 L1799.1 119.6 L1803.9 118.1 L1808.7 116.6 L1813.4 115.1 L1818.2 113.6 L1823.0 112.1 L1827.7 110.6 L1832.5 109.0 L1837.3 107.5 L1842.0 105.9 L1846.8 104.3 L1851.5 102.8 L1856.2 101.2 L1861.0 99.5 L1865.7 97.9 L1870.4 96.3 L1875.2 94.6 L1879.9 93.0 L1884.6 91.3 L1889.3 89.6 L1894.0 87.9 L1898.7 86.2 L1903.4 84.4 L1908.1 82.7 L1912.8 80.9 L1917.4 79.1 L1922.1 77.3 L1926.8 75.5 L1931.4 73.7 L1936.1 71.8 L1940.7 69.9 L1945.3 68.0 L1950.0 66.1 L1954.6 64.2 L1959.2 62.2 L1963.7 60.2 L1968.3 58.1 L1972.9 56.1 L1977.4 54.0 L1981.9 51.8 L1986.5 49.7" stroke-dashoffset="0"/>
<path d="M361.0 956.6 L361.0 951.6 L361.0 946.6 L361.0 941.6 L361.0 936.6 L361.0 931.6 L361.0 926.6 L361.0 921.6 L361.0 916.6 L361.0 911.6 L361.0 906.6 L361.0 901.6 L361.0 896.6 L361.0 891.6 L361.0 886.6 L361.0 881.6 L361.0 876.6 L361.0 871.6 L361.0 866.6 L361.0 861.6 L361.0 856.6 L361.0 851.6 L361.0 846.6 L361.0 841.6 L361.0 836.6 L361.0 831.6 L361.0 826.6 L361.0 821.6 L361.0 816.6 L361.0 811.6 L361.0 806.6 L361.0 801.6 L361.0 796.6 L361.0 791.6 L361.0 786.6 L361.0 781.6 L361.0 776.6 L361.0 771.6 L361.0 766.6 L361.0 761.6 L361.0 756.6 L361.0 751.6 L361.0 746.6 L361.0 741.6 L361.0 736.6 L361.0 731.6 L361.0 726.6 L361.0 721.6 L361.0 716.6 L361.0 711.5 L361.0 706.5 L361.0 701.5 L361.0 696.5 L361.0 691.5 L361.0 686.5 L361.0 681.5 L361.0 676.5 L361.0 671.5 L361.0 666.5 L361.0 661.5 L361.0 656.5 L361.0 651.5 L361.0 646.5 L361.0 641.5 L361.1 636.5 L361.1 631.5 L361.2 626.5 L361.3 621.5 L361.6 616.5 L362.0 611.6 L362.4 606.6 L363.0 601.6 L363.8 596.7 L364.7 591.8 L365.9 586.9 L367.4 582.1 L369.2 577.5 L371.2 572.9 L373.4 568.4 L375.7 563.9 L378.1 559.6 L380.7 555.3 L383.4 551.1 L386.2 546.9 L389.0 542.8 L391.8 538.7 L395.0 534.8 L398.4 531.2 L402.1 527.8 L405.9 524.5 L409.8 521.4 L414.0 518.6 L418.2 516.0 L422.5 513.5 L426.9 510.9 L431.2 508.5 L435.6 506.1 L440.0 503.8 L444.5 501.6 L449.0 499.4 L453.5 497.2 L457.9 494.9 L462.4 492.5 L466.8 490.2 L471.3 488.0 L475.8 486.0 L480.4 483.9 L485.0 481.9 L489.5 479.8 L494.1 477.8 L498.7 475.8 L503.3 473.8 L507.9 472.0 L512.6 470.2 L517.3 468.4 L521.9 466.6 L526.6 464.8 L531.3 463.0 L536.0 461.3 L540.6 459.5 L545.3 457.7 L550.0 455.9 L554.7 454.2 L559.4 452.4 L564.1 450.7 L568.8 449.1 L573.5 447.4 L578.2 445.8 L583.0 444.2 L587.7 442.6 L592.4 441.0 L597.2 439.5 L602.0 437.9 L606.7 436.4 L611.5 434.9 L616.3 433.5 L621.1 432.0 L625.9 430.6 L630.7 429.2 L635.5 427.8 L640.3 426.4 L645.1 425.0 L649.9 423.7 L654.7 422.4 L659.5 421.0 L664.4 419.8 L669.2 418.5 L674.1 417.3 L678.9 416.1 L683.8 414.9 L688.6 413.7 L693.5 412.5 L698.3 411.2 L703.2 410.0 L708.0 408.8 L712.9 407.6 L717.7 406.3 L722.6 405.1 L727.4 403.9 L732.3 402.7 L737.1 401.5 L742.0 400.2 L746.8 399.0 L751.7 397.8 L756.5 396.6 L761.4 395.4 L766.2 394.2 L771.1 393.0 L776.0 391.8 L780.8 390.6 L785.7 389.4 L790.5 388.2 L795.4 387.0 L800.2 385.9 L805.1 384.7 L810.0 383.5 L814.8 382.3 L819.7 381.2 L824.5 380.0 L829.4 378.8 L834.3 377.6 L839.1 376.5 L844.0 375.3 L848.8 374.1 L853.7 372.9 L858.6 371.7 L863.4 370.5 L868.3 369.4 L873.1 368.2 L878.0 367.0 L882.9 365.8 L887.7 364.6 L892.6 363.4 L897.4 362.3 L902.3 361.1 L907.2 359.9 L912.0 358.7 L916.9 357.5 L921.7 356.3 L926.6 355.1 L931.4 353.9 L936.3 352.7 L941.1 351.5 L946.0 350.3 L950.9 349.1 L955.7 347.9 L960.6 346.7 L965.4 345.6 L970.3 344.4 L975.1 343.2 L980.0 342.0 L984.9 340.8 L989.7 339.7 L994.6 338.5 L999.5 337.3 L1004.3 336.2 L1009.2 335.0 L1014.0 333.8 L1018.9 332.7 L1023.8 331.5 L1028.6 330.3 L1033.5 329.1 L1038.4 328.0 L1043.2 326.8 L1048.1 325.6 L1052.9 324.4 L1057.8 323.2 L1062.7 322.1 L1067.5 320.9 L1072.4 319.7 L1077.2 318.5 L1082.1 317.3 L1086.9 316.0 L1091.8 314.8 L1096.6 313.6 L1101.5 312.3 L1106.3 311.1 L1111.1 309.8 L1116.0 308.5 L1120.8 307.3 L1125.7 306.0 L1130.5 304.7 L1135.3 303.5 L1140.2 302.2 L1145.0 301.0 L1149.9 299.7 L1154.7 298.5 L1159.5 297.3 L1164.4 296.0 L1169.2 294.8 L1174.1 293.6 L1178.9 292.4 L1183.8 291.2 L1188.6 289.9 L1193.5 288.7 L1198.3 287.5 L1203.2 286.3 L1208.1 285.1 L1212.9 283.9 L1217.8 282.6 L1222.6 281.4 L1227.4 280.2 L1232.3 279.0 L1237.1 277.7 L1242.0 276.5 L1246.8 275.3 L1251.7 274.1 L1256.5 272.8 L1261.4 271.6 L1266.2 270.4 L1271.1 269.1 L1275.9 267.9 L1280.8 266.7 L1285.6 265.5 L1290.5 264.2 L1295.3 263.0 L1300.2 261.8 L1305.0 260.6 L1309.9 259.3 L1314.7 258.1 L1319.6 256.9 L1324.4 255.7 L1329.3 254.5 L1334.1 253.2 L1339.0 252.0 L1343.8 250.8 L1348.7 249.6 L1353.5 248.4 L1358.4 247.2 L1363.2 246.0 L1368.1 244.8 L1372.9 243.6 L1377.8 242.4 L1382.6 241.2 L1387.5 239.9 L1392.3 238.7 L1397.2 237.5 L1402.0 236.2 L1406.9 235.0 L1411.7 233.7 L1416.6 232.5 L1421.4 231.2 L1426.2 230.0 L1431.1 228.7 L1435.9 227.4 L1440.8 226.1 L1445.6 224.9 L1450.4 223.6 L1455.2 222.3 L1460.1 221.0 L1464.9 219.7 L1469.7 218.3 L1474.5 217.0 L1479.4 215.7 L1484.2 214.3 L1489.0 213.0 L1493.8 211.6 L1498.6 210.3 L1503.4 208.9 L1508.3 207.6 L1513.1 206.2 L1517.9 204.8 L1522.7 203.5 L1527.5 202.1 L1532.3 200.7 L1537.1 199.4 L1541.9 198.0 L1546.7 196.6 L1551.6 195.3 L1556.4 193.9 L1561.2 192.5 L1566.0 191.2 L1570.8 189.8 L1575.6 188.4 L1580.4 187.1 L1585.2 185.7 L1590.0 184.3 L1594.8 182.9 L1599.6 181.5 L1604.4 180.1 L1609.2 178.7 L1614.0 177.3 L1618.8 175.9 L1623.6 174.5 L1628.4 173.1 L1633.2 171.7 L1638.0 170.3 L1642.8 168.8 L1647.6 167.4 L1652.4 165.9 L1657.2 164.5 L1662.0 163.0 L1666.8 161.6 L1671.5 160.1 L1676.3 158.7 L1681.1 157.2 L1685.9 155.7 L1690.7 154.2 L1695.4 152.8 L1700.2 151.3 L1705.0 149.8 L1709.8 148.3 L1714.5 146.8 L1719.3 145.3 L1724.1 143.8 L1728.8 142.3 L1733.6 140.8 L1738.4 139.3 L1743.2 137.8 L1747.9 136.3 L1752.7 134.8 L1757.5 133.3 L1762.2 131.8 L1767.0 130.3 L1771.8 128.8 L1776.5 127.3 L1781.3 125.8 L1786.1 124.3 L1790.9 122.8 L1795.6 121.3 L1800.4 119.9 L1805.2 118.4 L1810.0 116.9 L1814.7 115.4 L1819.5 113.8 L1824.3 112.3 L1829.0 110.8 L1833.8 109.2 L1838.5 107.7 L1843.3 106.1 L1848.0 104.5 L1852.7 102.9 L1857.5 101.3 L1862.2 99.6 L1866.9 98.0 L1871.6 96.3 L1876.4 94.7 L1881.1 93.0 L1885.8 91.3 L1890.5 89.6 L1895.2 87.8 L1899.8 86.1 L1904.5 84.3 L1909.2 82.5 L1913.9 80.8 L1918.5 79.0 L1923.2 77.1 L1927.9 75.3 L1932.5 73.5 L1937.1 71.6 L1941.8 69.7 L1946.4 67.8 L1951.0 65.9 L1955.6 63.9 L1960.2 62.0 L1964.8 60.0 L1969.4 58.0 L1973.9 55.9 L1978.5 53.9 L1983.1 51.8 L1987.6 49.7" stroke-dashoffset="0"/>
<path d="M361.0 956.6 L361.0 951.6 L361.0 946.6 L361.0 941.6 L361.0 936.6 L361.0 931.5 L361.0 926.5 L361.0 921.5 L361.0 916.5 L361.0 911.5 L361.0 906.5 L361.0 901.5 L361.0 896.5 L361.0 891.5 L361.0 886.4 L361.0 881.4 L361.0 876.4 L361.0 871.4 L361.0 866.4 L361.0 861.4 L361.0 856.4 L361.0 851.4 L361.0 846.3 L361.0 841.3 L361.0 836.3 L361.0 831.3 L361.0 826.3 L361.0 821.3 L361.0 816.3 L361.0 811.3 L361.0 806.3 L361.0 801.2 L361.0 796.2 L361.0 791.2 L361.0 786.2 L361.0 781.2 L361.0 776.2 L361.0 771.2 L361.0 766.2 L361.0 761.2 L361.0 756.1 L361.0 751.1 L361.0 746.1 L361.0 741.1 L361.0 736.1 L361.0 731.1 L361.0 726.1 L361.0 721.1 L361.0 716.1 L361.0 711.0 L361.0 706.0 L361.0 701.0 L361.0 696.0 L361.0 691.0 L361.0 686.0 L361.0 681.0 L361.0 676.0 L361.0 671.0 L361.0 665.9 L361.0 660.9 L361.0 655.9 L361.0 650.9 L361.0 645.9 L361.0 640.9 L361.1 635.9 L361.1 630.9 L361.2 625.9 L361.4 620.8 L361.7 615.8 L362.1 610.8 L362.6 605.9 L363.3 600.9 L364.2 596.0 L365.2 591.1 L366.5 586.2 L368.2 581.5 L370.1 576.8 L372.2 572.3 L374.5 567.9 L376.9 563.5 L379.5 559.2 L382.2 555.0 L385.0 550.8 L387.8 546.6 L390.7 542.5 L393.6 538.4 L396.8 534.6 L400.3 531.0 L404.0 527.7 L407.9 524.5 L411.9 521.5 L416.1 518.8 L420.4 516.2 L424.8 513.8 L429.2 511.3 L433.6 509.0 L438.0 506.7 L442.5 504.4 L447.0 502.2 L451.6 500.1 L456.1 498.0 L460.6 495.8 L465.1 493.6 L469.6 491.3 L474.1 489.1 L478.7 487.1 L483.3 485.1 L487.9 483.1 L492.5 481.2 L497.1 479.1 L501.7 477.1 L506.3 475.2 L510.9 473.4 L515.6 471.6 L520.3 469.8 L525.0 468.1 L529.7 466.3 L534.4 464.6 L539.1 462.9 L543.8 461.1 L548.5 459.4 L553.2 457.6 L557.9 455.9 L562.6 454.2 L567.3 452.5 L572.1 450.8 L576.8 449.2 L581.5 447.5 L586.3 445.9 L591.0 444.4 L595.8 442.8 L600.6 441.3 L605.3 439.7 L610.1 438.2 L614.9 436.7 L619.7 435.3 L624.5 433.8 L629.3 432.4 L634.1 431.0 L638.9 429.6 L643.7 428.2 L648.5 426.8 L653.4 425.5 L658.2 424.1 L663.0 422.8 L667.9 421.5 L672.7 420.2 L677.6 419.0 L682.4 417.8 L687.3 416.6 L692.2 415.4 L697.0 414.2 L701.9 413.0 L706.8 411.8 L711.6 410.6 L716.5 409.3 L721.4 408.1 L726.2 406.9 L731.1 405.7 L735.9 404.5 L740.8 403.3 L745.7 402.0 L750.5 400.8 L755.4 399.6 L760.2 398.4 L765.1 397.2 L770.0 396.0 L774.8 394.8 L779.7 393.6 L784.6 392.4 L789.4 391.2 L794.3 390.0 L799.2 388.8 L804.0 387.6 L808.9 386.4 L813.8 385.2 L818.6 384.0 L823.5 382.8 L828.4 381.7 L833.2 380.5 L838.1 379.3 L843.0 378.1 L847.9 376.9 L852.7 375.7 L857.6 374.5 L862.5 373.4 L867.3 372.2 L872.2 371.0 L877.1 369.8 L881.9 368.6 L886.8 367.4 L891.7 366.2 L896.5 365.0 L901.4 363.9 L906.3 362.7 L911.1 361.5 L916.0 360.3 L920.9 359.1 L925.7 357.9 L930.6 356.7 L935.5 355.5 L940.3 354.3 L945.2 353.1 L950.1 351.9 L954.9 350.7 L959.8 349.5 L964.7 348.3 L969.5 347.1 L974.4 345.9 L979.3 344.7 L984.1 343.5 L989.0 342.3 L993.9 341.1 L998.7 340.0 L1003.6 338.8 L1008.5 337.6 L1013.4 336.4 L1018.2 335.2 L1023.1 334.0 L1028.0 332.9 L1032.8 331.7 L1037.7 330.5 L1042.6 329.3 L1047.4 328.1 L1052.3 326.9 L1057.2 325.7 L1062.0 324.5 L1066.9 323.3 L1071.8 322.1 L1076.6 320.9 L1081.5 319.7 L1086.4 318.5 L1091.2 317.3 L1096.1 316.0 L1100.9 314.8 L1105.8 313.5 L1110.6 312.3 L1115.5 311.0 L1120.3 309.7 L1125.2 308.5 L1130.0 307.2 L1134.9 305.9 L1139.7 304.6 L1144.6 303.4 L1149.4 302.1 L1154.3 300.8 L1159.1 299.6 L1164.0 298.3 L1168.8 297.1 L1173.7 295.8 L1178.5 294.6 L1183.4 293.3 L1188.2 292.1 L1193.1 290.9 L1197.9 289.6 L1202.8 288.4 L1207.7 287.2 L1212.5 285.9 L1217.4 284.7 L1222.2 283.5 L1227.1 282.2 L1232.0 281.0 L1236.8 279.8 L1241.7 278.5 L1246.5 277.3 L1251.4 276.1 L1256.2 274.8 L1261.1 273.6 L1265.9 272.3 L1270.8 271.1 L1275.7 269.9 L1280.5 268.6 L1285.4 267.4 L1290.2 266.1 L1295.1 264.9 L1299.9 263.6 L1304.8 262.4 L1309.6 261.1 L1314.5 259.9 L1319.3 258.7 L1324.2 257.4 L1329.1 256.2 L1333.9 254.9 L1338.8 253.7 L1343.6 252.5 L1348.5 251.2 L1353.3 250.0 L1358.2 248.8 L1363.1 247.5 L1367.9 246.3 L1372.8 245.1 L1377.6 243.8 L1382.5 242.6 L1387.3 241.3 L1392.2 240.1 L1397.0 238.8 L1401.9 237.6 L1406.7 236.3 L1411.6 235.1 L1416.4 233.8 L1421.3 232.5 L1426.1 231.2 L1431.0 229.9 L1435.8 228.7 L1440.7 227.4 L1445.5 226.1 L1450.3 224.8 L1455.2 223.5 L1460.0 222.2 L1464.8 220.8 L1469.7 219.5 L1474.5 218.2 L1479.3 216.8 L1484.2 215.5 L1489.0 214.1 L1493.8 212.8 L1498.6 211.4 L1503.5 210.1 L1508.3 208.7 L1513.1 207.3 L1517.9 205.9 L1522.7 204.6 L1527.6 203.2 L1532.4 201.8 L1537.2 200.4 L1542.0 199.1 L1546.8 197.7 L1551.6 196.3 L1556.5 194.9 L1561.3 193.5 L1566.1 192.1 L1570.9 190.8 L1575.7 189.4 L1580.5 188.0 L1585.4 186.6 L1590.2 185.2 L1595.0 183.8 L1599.8 182.4 L1604.6 181.0 L1609.4 179.6 L1614.2 178.1 L1619.0 176.7 L1623.8 175.3 L1628.6 173.9 L1633.4 172.4 L1638.2 171.0 L1643.0 169.5 L1647.8 168.1 L1652.6 166.6 L1657.4 165.2 L1662.2 163.7 L1667.0 162.2 L1671.8 160.8 L1676.6 159.3 L1681.4 157.8 L1686.1 156.3 L1690.9 154.8 L1695.7 153.3 L1700.5 151.8 L1705.3 150.3 L1710.1 148.8 L1714.8 147.3 L1719.6 145.8 L1724.4 144.3 L1729.2 142.8 L1734.0 141.3 L1738.7 139.8 L1743.5 138.3 L1748.3 136.8 L1753.1 135.2 L1757.8 133.7 L1762.6 132.2 L1767.4 130.7 L1772.2 129.2 L1776.9 127.7 L1781.7 126.2 L1786.5 124.7 L1791.3 123.2 L1796.1 121.7 L1800.9 120.2 L1805.6 118.7 L1810.4 117.2 L1815.2 115.6 L1820.0 114.1 L1824.7 112.6 L1829.5 111.1 L1834.3 109.5 L1839.0 107.9 L1843.8 106.3 L1848.5 104.7 L1853.3 103.1 L1858.0 101.5 L1862.7 99.8 L1867.5 98.1 L1872.2 96.5 L1876.9 94.8 L1881.6 93.1 L1886.3 91.3 L1891.0 89.6 L1895.7 87.9 L1900.4 86.1 L1905.1 84.3 L1909.8 82.5 L1914.5 80.7 L1919.1 78.9 L1923.8 77.1 L1928.5 75.3 L1933.1 73.4 L1937.8 71.5 L1942.4 69.6 L1947.0 67.7 L1951.7 65.8 L1956.3 63.8 L1960.9 61.9 L1965.5 59.9 L1970.1 57.9 L1974.7 55.9 L1979.2 53.8 L1983.8 51.8 L1988.4 49.7" stroke-dashoffset="0"/>
<path d="M361.0 956.6 L361.0 951.6 L361.0 946.6 L361.0 941.6 L361.0 936.6 L361.0 931.5 L361.0 926.5 L361.0 921.5 L361.0 916.5 L361.0 911.5 L361.0 906.5 L361.0 901.5 L361.0 896.5 L361.0 891.5 L361.0 886.5 L361.0 881.4 L361.0 876.4 L361.0 871.4 L361.0 866.4 L361.0 861.4 L361.0 856.4 L361.0 851.4 L361.0 846.4 L361.0 841.4 L361.0 836.4 L361.0 831.3 L361.0 826.3 L361.0 821.3 L361.0 816.3 L361.0 811.3 L361.0 806.3 L361.0 801.3 L361.0 796.3 L361.0 791.3 L361.0 786.2 L361.0 781.2 L361.0 776.2 L361.0 771.2 L361.0 766.2 L361.0 761.2 L361.0 756.2 L361.0 751.2 L361.0 746.2 L361.0 741.2 L361.0 736.1 L361.0 731.1 L361.0 726.1 L361.0 721.1 L361.0 716.1 L361.0 711.1 L361.0 706.1 L361.0 701.1 L361.0 696.1 L361.0 691.0 L361.0 686.0 L361.0 681.0 L361.0 676.0 L361.0 671.0 L361.0 666.0 L361.0 661.0 L361.0 656.0 L361.0 651.0 L361.0 646.0 L361.0 640.9 L361.1 635.9 L361.2 630.9 L361.2 625.9 L361.4 620.9 L361.7 615.9 L362.2 610.9 L362.7 605.9 L363.4 601.0 L364.3 596.1 L365.4 591.2 L366.8 586.4 L368.5 581.6 L370.4 577.0 L372.6 572.5 L375.0 568.1 L377.5 563.7 L380.1 559.5 L382.8 555.3 L385.6 551.1 L388.5 547.0 L391.4 542.9 L394.3 538.9 L397.5 535.0 L401.1 531.4 L404.8 528.1 L408.7 524.9 L412.7 521.9 L416.9 519.2 L421.2 516.7 L425.6 514.3 L430.1 512.0 L434.5 509.6 L439.0 507.4 L443.5 505.2 L448.0 503.0 L452.6 501.0 L457.1 498.9 L461.7 496.8 L466.2 494.7 L470.7 492.4 L475.2 490.3 L479.8 488.2 L484.4 486.2 L489.0 484.3 L493.6 482.4 L498.2 480.4 L502.8 478.4 L507.5 476.5 L512.1 474.6 L516.8 472.8 L521.5 471.1 L526.2 469.4 L530.9 467.6 L535.6 465.9 L540.3 464.3 L545.0 462.6 L549.8 460.9 L554.5 459.1 L559.2 457.4 L563.9 455.7 L568.6 454.0 L573.3 452.3 L578.0 450.7 L582.8 449.1 L587.5 447.5 L592.3 445.9 L597.1 444.3 L601.8 442.8 L606.6 441.3 L611.4 439.8 L616.2 438.3 L620.9 436.8 L625.7 435.4 L630.5 433.9 L635.3 432.5 L640.2 431.1 L645.0 429.7 L649.8 428.3 L654.6 427.0 L659.4 425.6 L664.3 424.3 L669.1 423.0 L674.0 421.7 L678.8 420.5 L683.7 419.2 L688.5 418.0 L693.4 416.8 L698.3 415.6 L703.1 414.5 L708.0 413.3 L712.9 412.1 L717.7 410.9 L722.6 409.7 L727.4 408.4 L732.3 407.2 L737.2 406.0 L742.0 404.8 L746.9 403.6 L751.7 402.4 L756.6 401.2 L761.5 400.0 L766.3 398.8 L771.2 397.5 L776.1 396.3 L780.9 395.1 L785.8 393.9 L790.6 392.7 L795.5 391.5 L800.4 390.3 L805.2 389.1 L810.1 387.9 L815.0 386.7 L819.8 385.5 L824.7 384.4 L829.6 383.2 L834.4 382.0 L839.3 380.8 L844.2 379.6 L849.0 378.4 L853.9 377.2 L858.8 376.0 L863.7 374.9 L868.5 373.7 L873.4 372.5 L878.3 371.3 L883.1 370.1 L888.0 368.9 L892.9 367.7 L897.7 366.5 L902.6 365.3 L907.5 364.2 L912.3 363.0 L917.2 361.8 L922.1 360.6 L926.9 359.4 L931.8 358.2 L936.7 357.0 L941.5 355.8 L946.4 354.6 L951.2 353.4 L956.1 352.2 L961.0 351.0 L965.8 349.8 L970.7 348.6 L975.6 347.4 L980.4 346.2 L985.3 345.0 L990.2 343.8 L995.0 342.6 L999.9 341.4 L1004.8 340.2 L1009.6 339.0 L1014.5 337.8 L1019.4 336.6 L1024.2 335.5 L1029.1 334.3 L1034.0 333.1 L1038.8 331.9 L1043.7 330.7 L1048.6 329.5 L1053.4 328.3 L1058.3 327.1 L1063.2 325.9 L1068.0 324.7 L1072.9 323.5 L1077.7 322.3 L1082.6 321.1 L1087.5 319.8 L1092.3 318.6 L1097.2 317.4 L1102.0 316.1 L1106.9 314.9 L1111.7 313.6 L1116.6 312.3 L1121.4 311.1 L1126.3 309.8 L1131.1 308.5 L1136.0 307.3 L1140.8 306.0 L1145.6 304.7 L1150.5 303.4 L1155.3 302.1 L1160.2 300.9 L1165.0 299.6 L1169.9 298.3 L1174.7 297.1 L1179.6 295.8 L1184.4 294.5 L1189.3 293.3 L1194.1 292.0 L1199.0 290.8 L1203.8 289.6 L1208.7 288.3 L1213.5 287.1 L1218.4 285.8 L1223.3 284.6 L1228.1 283.4 L1233.0 282.1 L1237.8 280.9 L1242.7 279.6 L1247.5 278.4 L1252.4 277.2 L1257.2 275.9 L1262.1 274.7 L1266.9 273.4 L1271.8 272.2 L1276.6 270.9 L1281.5 269.7 L1286.3 268.4 L1291.2 267.2 L1296.0 265.9 L1300.9 264.6 L1305.7 263.4 L1310.6 262.1 L1315.4 260.9 L1320.3 259.6 L1325.2 258.4 L1330.0 257.1 L1334.9 255.9 L1339.7 254.6 L1344.6 253.4 L1349.4 252.1 L1354.3 250.9 L1359.1 249.6 L1364.0 248.4 L1368.8 247.1 L1373.7 245.9 L1378.5 244.6 L1383.4 243.3 L1388.2 242.1 L1393.1 240.8 L1397.9 239.6 L1402.8 238.3 L1407.6 237.0 L1412.5 235.7 L1417.3 234.5 L1422.1 233.2 L1427.0 231.9 L1431.8 230.6 L1436.7 229.3 L1441.5 228.0 L1446.3 226.7 L1451.2 225.4 L1456.0 224.1 L1460.8 222.7 L1465.7 221.4 L1470.5 220.1 L1475.3 218.8 L1480.2 217.4 L1485.0 216.1 L1489.8 214.7 L1494.6 213.3 L1499.5 212.0 L1504.3 210.6 L1509.1 209.2 L1513.9 207.9 L1518.7 206.5 L1523.5 205.1 L1528.4 203.7 L1533.2 202.3 L1538.0 201.0 L1542.8 199.6 L1547.6 198.2 L1552.4 196.8 L1557.2 195.4 L1562.1 194.0 L1566.9 192.6 L1571.7 191.2 L1576.5 189.8 L1581.3 188.4 L1586.1 187.0 L1590.9 185.6 L1595.7 184.2 L1600.5 182.8 L1605.3 181.4 L1610.1 179.9 L1615.0 178.5 L1619.8 177.1 L1624.6 175.7 L1629.4 174.2 L1634.2 172.8 L1639.0 171.3 L1643.7 169.9 L1648.5 168.4 L1653.3 167.0 L1658.1 165.5 L1662.9 164.0 L1667.7 162.5 L1672.5 161.1 L1677.3 159.6 L1682.1 158.1 L1686.8 156.6 L1691.6 155.1 L1696.4 153.6 L1701.2 152.1 L1706.0 150.6 L1710.7 149.1 L1715.5 147.5 L1720.3 146.0 L1725.1 144.5 L1729.8 143.0 L1734.6 141.5 L1739.4 140.0 L1744.2 138.4 L1748.9 136.9 L1753.7 135.4 L1758.5 133.9 L1763.3 132.4 L1768.0 130.8 L1772.8 129.3 L1777.6 127.8 L1782.4 126.3 L1787.1 124.8 L1791.9 123.3 L1796.7 121.8 L1801.5 120.3 L1806.3 118.8 L1811.0 117.3 L1815.8 115.8 L1820.6 114.2 L1825.3 112.7 L1830.1 111.2 L1834.9 109.6 L1839.6 108.0 L1844.4 106.4 L1849.1 104.8 L1853.9 103.2 L1858.6 101.5 L1863.3 99.8 L1868.0 98.2 L1872.8 96.5 L1877.5 94.8 L1882.2 93.1 L1886.9 91.3 L1891.6 89.6 L1896.3 87.8 L1901.0 86.1 L1905.6 84.3 L1910.3 82.5 L1915.0 80.7 L1919.7 78.8 L1924.3 77.0 L1929.0 75.2 L1933.6 73.3 L1938.3 71.4 L1942.9 69.5 L1947.5 67.6 L1952.2 65.7 L1956.8 63.7 L1961.4 61.8 L1966.0 59.8 L1970.6 57.8 L1975.2 55.8 L1979.8 53.8 L1984.3 51.7 L1988.9 49.7" stroke-dashoffset="0"/>
<path d="M361.0 956.6 L361.0 951.6 L361.0 946.6 L361.0 941.6 L361.0 936.6 L361.0 931.6 L361.0 926.5 L361.0 921.5 L361.0 916.5 L361.0 911.5 L361.0 906.5 L361.0 901.5 L361.0 896.5 L361.0 891.5 L361.0 886.5 L361.0 881.5 L361.0 876.4 L361.0 871.4 L361.0 866.4 L361.0 861.4 L361.0 856.4 L361.0 851.4 L361.0 846.4 L361.0 841.4 L361.0 836.4 L361.0 831.4 L361.0 826.3 L361.0 821.3 L361.0 816.3 L361.0 811.3 L361.0 806.3 L361.0 801.3 L361.0 796.3 L361.0 791.3 L361.0 786.3 L361.0 781.3 L361.0 776.2 L361.0 771.2 L361.0 766.2 L361.0 761.2 L361.0 756.2 L361.0 751.2 L361.0 746.2 L361.0 741.2 L361.0 736.2 L361.0 731.2 L361.0 726.2 L361.0 721.1 L361.0 716.1 L361.0 711.1 L361.0 706.1 L361.0 701.1 L361.0 696.1 L361.0 691.1 L361.0 686.1 L361.0 681.1 L361.0 676.1 L361.0 671.0 L361.0 666.0 L361.0 661.0 L361.0 656.0 L361.0 651.0 L361.0 646.0 L361.0 641.0 L361.1 636.0 L361.2 631.0 L361.2 626.0 L361.4 621.0 L361.7 616.0 L362.2 611.0 L362.8 606.0 L363.5 601.0 L364.4 596.1 L365.6 591.2 L367.0 586.4 L368.7 581.7 L370.7 577.1 L372.9 572.6 L375.3 568.2 L377.8 563.9 L380.5 559.7 L383.3 555.5 L386.1 551.4 L389.0 547.3 L391.9 543.2 L394.9 539.1 L398.1 535.3 L401.6 531.7 L405.3 528.4 L409.2 525.2 L413.2 522.3 L417.4 519.5 L421.8 517.1 L426.2 514.7 L430.7 512.4 L435.1 510.1 L439.6 507.8 L444.1 505.7 L448.6 503.5 L453.2 501.5 L457.8 499.5 L462.4 497.5 L466.9 495.4 L471.4 493.2 L476.0 491.0 L480.5 489.0 L485.1 487.0 L489.8 485.1 L494.4 483.2 L499.0 481.3 L503.6 479.3 L508.3 477.4 L512.9 475.5 L517.6 473.7 L522.3 472.0 L527.0 470.3 L531.7 468.6 L536.4 466.9 L541.1 465.2 L545.9 463.5 L550.6 461.8 L555.3 460.2 L560.0 458.5 L564.7 456.7 L569.4 455.1 L574.2 453.4 L578.9 451.7 L583.6 450.1 L588.4 448.5 L593.1 447.0 L597.9 445.4 L602.7 443.9 L607.4 442.3 L612.2 440.8 L617.0 439.3 L621.8 437.9 L626.6 436.4 L631.4 435.0 L636.2 433.6 L641.0 432.2 L645.8 430.8 L650.6 429.4 L655.5 428.0 L660.3 426.7 L665.1 425.4 L669.9 424.1 L674.8 422.8 L679.6 421.5 L684.5 420.2 L689.3 419.0 L694.2 417.8 L699.1 416.6 L703.9 415.5 L708.8 414.3 L713.7 413.1 L718.5 411.9 L723.4 410.7 L728.3 409.5 L733.1 408.3 L738.0 407.1 L742.9 405.9 L747.7 404.7 L752.6 403.5 L757.4 402.2 L762.3 401.0 L767.2 399.8 L772.0 398.6 L776.9 397.4 L781.8 396.2 L786.6 395.0 L791.5 393.8 L796.3 392.6 L801.2 391.4 L806.1 390.2 L810.9 389.0 L815.8 387.8 L820.7 386.6 L825.5 385.4 L830.4 384.2 L835.3 383.0 L840.1 381.8 L845.0 380.7 L849.9 379.5 L854.7 378.3 L859.6 377.1 L864.5 375.9 L869.3 374.7 L874.2 373.5 L879.1 372.3 L883.9 371.1 L888.8 369.9 L893.7 368.8 L898.5 367.6 L903.4 366.4 L908.3 365.2 L913.1 364.0 L918.0 362.8 L922.9 361.6 L927.7 360.4 L932.6 359.2 L937.5 358.0 L942.3 356.8 L947.2 355.6 L952.0 354.4 L956.9 353.2 L961.8 352.0 L966.6 350.8 L971.5 349.6 L976.4 348.4 L981.2 347.2 L986.1 346.0 L991.0 344.8 L995.8 343.6 L1000.7 342.4 L1005.5 341.2 L1010.4 340.0 L1015.3 338.8 L1020.1 337.6 L1025.0 336.4 L1029.9 335.2 L1034.7 334.1 L1039.6 332.9 L1044.5 331.7 L1049.3 330.5 L1054.2 329.3 L1059.1 328.0 L1063.9 326.8 L1068.8 325.6 L1073.6 324.4 L1078.5 323.2 L1083.4 322.0 L1088.2 320.8 L1093.1 319.5 L1097.9 318.3 L1102.8 317.0 L1107.6 315.8 L1112.5 314.5 L1117.3 313.3 L1122.2 312.0 L1127.0 310.7 L1131.9 309.5 L1136.7 308.2 L1141.6 306.9 L1146.4 305.6 L1151.2 304.3 L1156.1 303.0 L1160.9 301.8 L1165.8 300.5 L1170.6 299.2 L1175.5 297.9 L1180.3 296.7 L1185.1 295.4 L1190.0 294.1 L1194.8 292.9 L1199.7 291.6 L1204.5 290.4 L1209.4 289.1 L1214.2 287.9 L1219.1 286.6 L1224.0 285.4 L1228.8 284.1 L1233.7 282.9 L1238.5 281.6 L1243.4 280.4 L1248.2 279.2 L1253.1 277.9 L1257.9 276.7 L1262.8 275.4 L1267.6 274.2 L1272.5 272.9 L1277.3 271.7 L1282.2 270.4 L1287.0 269.1 L1291.9 267.9 L1296.7 266.6 L1301.6 265.4 L1306.4 264.1 L1311.3 262.8 L1316.1 261.6 L1321.0 260.3 L1325.8 259.0 L1330.7 257.8 L1335.5 256.5 L1340.4 255.2 L1345.2 254.0 L1350.0 252.7 L1354.9 251.5 L1359.7 250.2 L1364.6 248.9 L1369.4 247.7 L1374.3 246.4 L1379.1 245.1 L1384.0 243.9 L1388.8 242.6 L1393.7 241.3 L1398.5 240.1 L1403.4 238.8 L1408.2 237.5 L1413.0 236.2 L1417.9 234.9 L1422.7 233.6 L1427.6 232.3 L1432.4 231.0 L1437.2 229.7 L1442.1 228.4 L1446.9 227.1 L1451.7 225.8 L1456.6 224.5 L1461.4 223.1 L1466.2 221.8 L1471.1 220.5 L1475.9 219.1 L1480.7 217.8 L1485.5 216.5 L1490.4 215.1 L1495.2 213.7 L1500.0 212.4 L1504.8 211.0 L1509.6 209.6 L1514.5 208.2 L1519.3 206.9 L1524.1 205.5 L1528.9 204.1 L1533.7 202.7 L1538.5 201.3 L1543.3 199.9 L1548.2 198.5 L1553.0 197.1 L1557.8 195.7 L1562.6 194.3 L1567.4 192.9 L1572.2 191.5 L1577.0 190.1 L1581.8 188.7 L1586.6 187.3 L1591.4 185.9 L1596.2 184.5 L1601.1 183.1 L1605.9 181.6 L1610.7 180.2 L1615.5 178.8 L1620.3 177.4 L1625.1 175.9 L1629.9 174.5 L1634.7 173.0 L1639.4 171.6 L1644.2 170.1 L1649.0 168.6 L1653.8 167.2 L1658.6 165.7 L1663.4 164.2 L1668.2 162.7 L1673.0 161.3 L1677.7 159.8 L1682.5 158.3 L1687.3 156.8 L1692.1 155.3 L1696.9 153.8 L1701.6 152.2 L1706.4 150.7 L1711.2 149.2 L1716.0 147.7 L1720.7 146.2 L1725.5 144.7 L1730.3 143.1 L1735.1 141.6 L1739.8 140.1 L1744.6 138.6 L1749.4 137.0 L1754.1 135.5 L1758.9 134.0 L1763.7 132.5 L1768.5 130.9 L1773.2 129.4 L1778.0 127.9 L1782.8 126.4 L1787.6 124.9 L1792.3 123.4 L1797.1 121.9 L1801.9 120.4 L1806.7 118.9 L1811.5 117.3 L1816.2 115.8 L1821.0 114.3 L1825.8 112.8 L1830.5 111.2 L1835.3 109.7 L1840.0 108.1 L1844.8 106.5 L1849.5 104.8 L1854.3 103.2 L1859.0 101.6 L1863.7 99.9 L1868.4 98.2 L1873.1 96.5 L1877.9 94.8 L1882.6 93.1 L1887.3 91.3 L1892.0 89.6 L1896.6 87.8 L1901.3 86.0 L1906.0 84.2 L1910.7 82.4 L1915.3 80.6 L1920.0 78.8 L1924.7 77.0 L1929.3 75.1 L1934.0 73.2 L1938.6 71.4 L1943.3 69.5 L1947.9 67.5 L1952.5 65.6 L1957.1 63.7 L1961.7 61.7 L1966.3 59.7 L1970.9 57.8 L1975.5 55.8 L1980.1 53.8 L1984.7 51.7 L1989.3 49.7" stroke-dashoffset="0"/>
<path d="M361.0 956.6 L361.0 951.6 L361.0 946.6 L361.0 941.6 L361.0 936.6 L361.0 931.6 L361.0 926.5 L361.0 921.5 L361.0 916.5 L361.0 911.5 L361.0 906.5 L361.0 901.5 L361.0 896.5 L361.0 891.5 L361.0 886.5 L361.0 881.5 L361.0 876.5 L361.0 871.4 L361.0 866.4 L361.0 861.4 L361.0 856.4 L361.0 851.4 L361.0 846.4 L361.0 841.4 L361.0 836.4 L361.0 831.4 L361.0 826.4 L361.0 821.3 L361.0 816.3 L361.0 811.3 L361.0 806.3 L361.0 801.3 L361.0 796.3 L361.0 791.3 L361.0 786.3 L361.0 781.3 L361.0 776.3 L361.0 771.3 L361.0 766.2 L361.0 761.2 L361.0 756.2 L361.0 751.2 L361.0 746.2 L361.0 741.2 L361.0 736.2 L361.0 731.2 L361.0 726.2 L361.0 721.2 L361.0 716.2 L361.0 711.1 L361.0 706.1 L361.0 701.1 L361.0 696.1 L361.0 691.1 L361.0 686.1 L361.0 681.1 L361.0 676.1 L361.0 671.1 L361.0 666.1 L361.0 661.0 L361.0 656.0 L361.0 651.0 L361.0 646.0 L361.0 641.0 L361.1 636.0 L361.2 631.0 L361.3 626.0 L361.4 621.0 L361.8 616.0 L362.2 611.0 L362.8 606.0 L363.5 601.1 L364.5 596.2 L365.7 591.3 L367.1 586.5 L368.9 581.8 L370.9 577.2 L373.1 572.7 L375.5 568.3 L378.1 564.0 L380.8 559.8 L383.6 555.6 L386.4 551.5 L389.3 547.4 L392.3 543.4 L395.2 539.3 L398.4 535.5 L401.9 531.9 L405.7 528.6 L409.6 525.4 L413.6 522.5 L417.8 519.8 L422.2 517.3 L426.6 515.0 L431.1 512.7 L435.5 510.4 L440.0 508.2 L444.5 506.0 L449.1 503.9 L453.7 501.9 L458.3 499.9 L462.9 497.9 L467.4 495.9 L472.0 493.7 L476.5 491.6 L481.0 489.5 L485.6 487.5 L490.3 485.6 L494.9 483.7 L499.6 481.8 L504.2 479.9 L508.8 478.0 L513.5 476.1 L518.1 474.3 L522.8 472.6 L527.5 470.9 L532.3 469.2 L537.0 467.5 L541.7 465.8 L546.4 464.2 L551.1 462.5 L555.9 460.8 L560.6 459.2 L565.3 457.5 L570.0 455.8 L574.7 454.1 L579.5 452.5 L584.2 450.8 L589.0 449.3 L593.7 447.7 L598.5 446.1 L603.3 444.6 L608.0 443.1 L612.8 441.6 L617.6 440.1 L622.4 438.6 L627.2 437.1 L632.0 435.7 L636.8 434.3 L641.6 432.9 L646.4 431.5 L651.2 430.1 L656.0 428.8 L660.9 427.4 L665.7 426.1 L670.5 424.8 L675.4 423.5 L680.2 422.2 L685.1 421.0 L689.9 419.7 L694.8 418.5 L699.6 417.3 L704.5 416.1 L709.4 415.0 L714.2 413.8 L719.1 412.6 L724.0 411.4 L728.8 410.2 L733.7 409.0 L738.6 407.8 L743.4 406.6 L748.3 405.4 L753.2 404.2 L758.0 403.0 L762.9 401.8 L767.7 400.6 L772.6 399.4 L777.5 398.2 L782.3 397.0 L787.2 395.8 L792.0 394.5 L796.9 393.3 L801.8 392.1 L806.6 390.9 L811.5 389.7 L816.4 388.5 L821.2 387.3 L826.1 386.2 L831.0 385.0 L835.8 383.8 L840.7 382.6 L845.6 381.4 L850.4 380.2 L855.3 379.0 L860.2 377.8 L865.0 376.6 L869.9 375.4 L874.7 374.2 L879.6 373.0 L884.5 371.9 L889.3 370.7 L894.2 369.5 L899.1 368.3 L903.9 367.1 L908.8 365.9 L913.7 364.7 L918.5 363.5 L923.4 362.3 L928.3 361.1 L933.1 359.9 L938.0 358.7 L942.9 357.5 L947.7 356.3 L952.6 355.1 L957.5 353.9 L962.3 352.7 L967.2 351.5 L972.0 350.3 L976.9 349.1 L981.8 347.9 L986.6 346.7 L991.5 345.5 L996.4 344.3 L1001.2 343.1 L1006.1 341.9 L1010.9 340.7 L1015.8 339.5 L1020.7 338.3 L1025.5 337.1 L1030.4 335.9 L1035.3 334.7 L1040.1 333.5 L1045.0 332.3 L1049.9 331.1 L1054.7 329.9 L1059.6 328.7 L1064.4 327.5 L1069.3 326.3 L1074.2 325.1 L1079.0 323.9 L1083.9 322.6 L1088.7 321.4 L1093.6 320.2 L1098.4 318.9 L1103.3 317.7 L1108.1 316.4 L1113.0 315.2 L1117.8 313.9 L1122.7 312.7 L1127.5 311.4 L1132.4 310.1 L1137.2 308.8 L1142.1 307.5 L1146.9 306.3 L1151.7 305.0 L1156.6 303.7 L1161.4 302.4 L1166.3 301.1 L1171.1 299.8 L1176.0 298.5 L1180.8 297.3 L1185.6 296.0 L1190.5 294.7 L1195.3 293.5 L1200.2 292.2 L1205.0 290.9 L1209.9 289.7 L1214.7 288.4 L1219.6 287.2 L1224.4 285.9 L1229.3 284.7 L1234.1 283.4 L1239.0 282.2 L1243.8 280.9 L1248.7 279.7 L1253.5 278.4 L1258.4 277.2 L1263.2 275.9 L1268.1 274.7 L1272.9 273.4 L1277.8 272.2 L1282.6 270.9 L1287.5 269.7 L1292.3 268.4 L1297.2 267.1 L1302.0 265.8 L1306.9 264.6 L1311.7 263.3 L1316.6 262.0 L1321.4 260.8 L1326.3 259.5 L1331.1 258.2 L1336.0 257.0 L1340.8 255.7 L1345.6 254.4 L1350.5 253.2 L1355.3 251.9 L1360.2 250.6 L1365.0 249.3 L1369.9 248.1 L1374.7 246.8 L1379.6 245.5 L1384.4 244.3 L1389.2 243.0 L1394.1 241.7 L1398.9 240.4 L1403.8 239.1 L1408.6 237.8 L1413.5 236.5 L1418.3 235.2 L1423.1 233.9 L1428.0 232.6 L1432.8 231.3 L1437.6 230.0 L1442.5 228.7 L1447.3 227.4 L1452.1 226.1 L1457.0 224.8 L1461.8 223.4 L1466.6 222.1 L1471.5 220.8 L1476.3 219.4 L1481.1 218.1 L1485.9 216.7 L1490.8 215.4 L1495.6 214.0 L1500.4 212.6 L1505.2 211.3 L1510.0 209.9 L1514.8 208.5 L1519.7 207.1 L1524.5 205.7 L1529.3 204.4 L1534.1 203.0 L1538.9 201.6 L1543.7 200.2 L1548.5 198.8 L1553.3 197.4 L1558.2 196.0 L1563.0 194.6 L1567.8 193.2 L1572.6 191.8 L1577.4 190.4 L1582.2 188.9 L1587.0 187.5 L1591.8 186.1 L1596.6 184.7 L1601.4 183.3 L1606.2 181.8 L1611.0 180.4 L1615.8 179.0 L1620.6 177.5 L1625.4 176.1 L1630.2 174.6 L1635.0 173.2 L1639.8 171.7 L1644.6 170.3 L1649.4 168.8 L1654.2 167.3 L1658.9 165.9 L1663.7 164.4 L1668.5 162.9 L1673.3 161.4 L1678.1 159.9 L1682.9 158.4 L1687.6 156.9 L1692.4 155.4 L1697.2 153.9 L1702.0 152.4 L1706.7 150.8 L1711.5 149.3 L1716.3 147.8 L1721.1 146.3 L1725.8 144.8 L1730.6 143.2 L1735.4 141.7 L1740.1 140.2 L1744.9 138.7 L1749.7 137.1 L1754.4 135.6 L1759.2 134.1 L1764.0 132.5 L1768.8 131.0 L1773.5 129.5 L1778.3 128.0 L1783.1 126.4 L1787.9 124.9 L1792.6 123.4 L1797.4 121.9 L1802.2 120.4 L1807.0 118.9 L1811.7 117.4 L1816.5 115.9 L1821.3 114.4 L1826.1 112.8 L1830.8 111.3 L1835.6 109.7 L1840.3 108.1 L1845.1 106.5 L1849.8 104.9 L1854.5 103.2 L1859.3 101.6 L1864.0 99.9 L1868.7 98.2 L1873.4 96.5 L1878.1 94.8 L1882.8 93.1 L1887.5 91.3 L1892.2 89.6 L1896.9 87.8 L1901.6 86.0 L1906.3 84.2 L1910.9 82.4 L1915.6 80.6 L1920.3 78.8 L1924.9 76.9 L1929.6 75.1 L1934.2 73.2 L1938.9 71.3 L1943.5 69.4 L1948.1 67.5 L1952.7 65.6 L1957.4 63.6 L1962.0 61.7 L1966.6 59.7 L1971.2 57.7 L1975.8 55.7 L1980.4 53.7 L1985.0 51.7 L1989.5 49.7" stroke-dashoffset="0"/>
<path d="M361.0 956.6 L361.0 951.6 L361.0 946.6 L361.0 941.6 L361.0 936.6 L361.0 931.6 L361.0 926.5 L361.0 921.5 L361.0 916.5 L361.0 911.5 L361.0 906.5 L361.0 901.5 L361.0 896.5 L361.0 891.5 L361.0 886.5 L361.0 881.5 L361.0 876.5 L361.0 871.4 L361.0 866.4 L361.0 861.4 L361.0 856.4 L361.0 851.4 L361.0 846.4 L361.0 841.4 L361.0 836.4 L361.0 831.4 L361.0 826.4 L361.0 821.4 L361.0 816.3 L361.0 811.3 L361.0 806.3 L361.0 801.3 L361.0 796.3 L361.0 791.3 L361.0 786.3 L361.0 781.3 L361.0 776.3 L361.0 771.3 L361.0 766.3 L361.0 761.2 L361.0 756.2 L361.0 751.2 L361.0 746.2 L361.0 741.2 L361.0 736.2 L361.0 731.2 L361.0 726.2 L361.0 721.2 L361.0 716.2 L361.0 711.2 L361.0 706.1 L361.0 701.1 L361.0 696.1 L361.0 691.1 L361.0 686.1 L361.0 681.1 L361.0 676.1 L361.0 671.1 L361.0 666.1 L361.0 661.1 L361.0 656.1 L361.0 651.0 L361.0 646.0 L361.0 641.0 L361.1 636.0 L361.2 631.0 L361.3 626.0 L361.4 621.0 L361.8 616.0 L362.3 611.0 L362.8 606.0 L363.6 601.1 L364.6 596.2 L365.8 591.3 L367.2 586.5 L369.0 581.8 L371.0 577.2 L373.2 572.8 L375.7 568.4 L378.3 564.1 L381.0 559.9 L383.8 555.7 L386.6 551.6 L389.6 547.6 L392.5 543.5 L395.5 539.5 L398.7 535.6 L402.2 532.1 L405.9 528.7 L409.8 525.6 L413.9 522.6 L418.1 519.9 L422.4 517.5 L426.9 515.1 L431.3 512.8 L435.8 510.6 L440.3 508.4 L444.8 506.2 L449.4 504.1 L454.0 502.1 L458.6 500.2 L463.2 498.2 L467.8 496.2 L472.3 494.0 L476.8 491.9 L481.4 489.8 L486.0 487.9 L490.6 486.0 L495.3 484.1 L499.9 482.2 L504.6 480.3 L509.2 478.4 L513.8 476.5 L518.5 474.7 L523.2 473.0 L527.9 471.3 L532.6 469.6 L537.3 467.9 L542.1 466.3 L546.8 464.6 L551.5 463.0 L556.3 461.3 L561.0 459.6 L565.7 457.9 L570.4 456.3 L575.1 454.6 L579.9 452.9 L584.6 451.3 L589.4 449.8 L594.1 448.2 L598.9 446.6 L603.7 445.1 L608.4 443.6 L613.2 442.1 L618.0 440.6 L622.8 439.1 L627.6 437.6 L632.4 436.2 L637.2 434.8 L642.0 433.4 L646.8 432.0 L651.6 430.6 L656.4 429.3 L661.3 427.9 L666.1 426.6 L670.9 425.3 L675.8 424.0 L680.6 422.7 L685.4 421.4 L690.3 420.2 L695.2 419.0 L700.0 417.8 L704.9 416.6 L709.8 415.4 L714.6 414.3 L719.5 413.1 L724.4 411.9 L729.2 410.7 L734.1 409.5 L739.0 408.3 L743.8 407.1 L748.7 405.9 L753.5 404.7 L758.4 403.5 L763.3 402.3 L768.1 401.1 L773.0 399.9 L777.9 398.7 L782.7 397.5 L787.6 396.3 L792.4 395.1 L797.3 393.9 L802.2 392.7 L807.0 391.5 L811.9 390.3 L816.8 389.1 L821.6 387.9 L826.5 386.7 L831.3 385.5 L836.2 384.3 L841.1 383.1 L845.9 381.9 L850.8 380.7 L855.7 379.5 L860.5 378.3 L865.4 377.1 L870.3 375.9 L875.1 374.7 L880.0 373.5 L884.9 372.4 L889.7 371.2 L894.6 370.0 L899.5 368.8 L904.3 367.6 L909.2 366.4 L914.1 365.2 L918.9 364.0 L923.8 362.8 L928.6 361.6 L933.5 360.4 L938.4 359.2 L943.2 358.0 L948.1 356.8 L953.0 355.6 L957.8 354.4 L962.7 353.2 L967.6 352.0 L972.4 350.8 L977.3 349.6 L982.1 348.4 L987.0 347.2 L991.9 346.0 L996.7 344.8 L1001.6 343.6 L1006.5 342.4 L1011.3 341.2 L1016.2 340.0 L1021.0 338.8 L1025.9 337.6 L1030.8 336.4 L1035.6 335.2 L1040.5 334.0 L1045.4 332.8 L1050.2 331.6 L1055.1 330.4 L1059.9 329.2 L1064.8 328.0 L1069.7 326.7 L1074.5 325.5 L1079.4 324.3 L1084.2 323.1 L1089.1 321.9 L1093.9 320.6 L1098.8 319.4 L1103.7 318.1 L1108.5 316.9 L1113.4 315.6 L1118.2 314.4 L1123.0 313.1 L1127.9 311.8 L1132.7 310.5 L1137.6 309.3 L1142.4 308.0 L1147.3 306.7 L1152.1 305.4 L1156.9 304.1 L1161.8 302.8 L1166.6 301.5 L1171.5 300.3 L1176.3 299.0 L1181.1 297.7 L1186.0 296.4 L1190.8 295.1 L1195.7 293.9 L1200.5 292.6 L1205.4 291.3 L1210.2 290.1 L1215.1 288.8 L1219.9 287.6 L1224.8 286.3 L1229.6 285.1 L1234.5 283.8 L1239.3 282.6 L1244.2 281.3 L1249.0 280.1 L1253.9 278.8 L1258.7 277.6 L1263.6 276.3 L1268.4 275.0 L1273.3 273.8 L1278.1 272.5 L1283.0 271.3 L1287.8 270.0 L1292.7 268.7 L1297.5 267.5 L1302.3 266.2 L1307.2 264.9 L1312.0 263.7 L1316.9 262.4 L1321.7 261.1 L1326.6 259.8 L1331.4 258.6 L1336.3 257.3 L1341.1 256.0 L1345.9 254.7 L1350.8 253.5 L1355.6 252.2 L1360.5 250.9 L1365.3 249.6 L1370.2 248.4 L1375.0 247.1 L1379.9 245.8 L1384.7 244.5 L1389.5 243.2 L1394.4 241.9 L1399.2 240.7 L1404.1 239.4 L1408.9 238.1 L1413.7 236.8 L1418.6 235.5 L1423.4 234.2 L1428.2 232.9 L1433.1 231.6 L1437.9 230.2 L1442.7 228.9 L1447.6 227.6 L1452.4 226.3 L1457.2 225.0 L1462.1 223.6 L1466.9 222.3 L1471.7 221.0 L1476.6 219.6 L1481.4 218.3 L1486.2 216.9 L1491.0 215.6 L1495.8 214.2 L1500.7 212.8 L1505.5 211.5 L1510.3 210.1 L1515.1 208.7 L1519.9 207.3 L1524.7 205.9 L1529.5 204.5 L1534.4 203.1 L1539.2 201.8 L1544.0 200.4 L1548.8 199.0 L1553.6 197.6 L1558.4 196.2 L1563.2 194.7 L1568.0 193.3 L1572.8 191.9 L1577.6 190.5 L1582.4 189.1 L1587.2 187.7 L1592.0 186.3 L1596.9 184.8 L1601.7 183.4 L1606.5 182.0 L1611.3 180.5 L1616.0 179.1 L1620.8 177.7 L1625.6 176.2 L1630.4 174.8 L1635.2 173.3 L1640.0 171.9 L1644.8 170.4 L1649.6 168.9 L1654.4 167.4 L1659.2 166.0 L1664.0 164.5 L1668.7 163.0 L1673.5 161.5 L1678.3 160.0 L1683.1 158.5 L1687.9 157.0 L1692.6 155.5 L1697.4 154.0 L1702.2 152.4 L1707.0 150.9 L1711.7 149.4 L1716.5 147.9 L1721.3 146.4 L1726.0 144.8 L1730.8 143.3 L1735.6 141.8 L1740.3 140.2 L1745.1 138.7 L1749.9 137.2 L1754.7 135.6 L1759.4 134.1 L1764.2 132.6 L1769.0 131.1 L1773.7 129.5 L1778.5 128.0 L1783.3 126.5 L1788.1 125.0 L1792.8 123.5 L1797.6 122.0 L1802.4 120.5 L1807.2 118.9 L1811.9 117.4 L1816.7 115.9 L1821.5 114.4 L1826.3 112.9 L1831.0 111.3 L1835.8 109.7 L1840.5 108.2 L1845.3 106.5 L1850.0 104.9 L1854.7 103.3 L1859.5 101.6 L1864.2 99.9 L1868.9 98.2 L1873.6 96.5 L1878.3 94.8 L1883.0 93.1 L1887.7 91.3 L1892.4 89.6 L1897.1 87.8 L1901.8 86.0 L1906.4 84.2 L1911.1 82.4 L1915.8 80.6 L1920.4 78.7 L1925.1 76.9 L1929.7 75.0 L1934.4 73.2 L1939.0 71.3 L1943.7 69.4 L1948.3 67.5 L1952.9 65.5 L1957.5 63.6 L1962.1 61.6 L1966.8 59.7 L1971.4 57.7 L1976.0 55.7 L1980.5 53.7 L1985.1 51.7 L1989.7 49.7" stroke-dashoffset="0"/>
<path d="M733.0 956.6 L738.0 955.9 L742.9 955.2 L747.9 954.5 L752.8 953.8 L757.8 953.1 L762.8 952.4 L767.7 951.7 L772.7 951.0 L777.7 950.3 L782.6 949.6 L787.6 948.9 L792.5 948.1 L797.5 947.4 L802.4 946.7 L807.4 945.9 L812.4 945.2 L817.3 944.5 L822.3 943.7 L827.2 943.0 L832.2 942.2 L837.1 941.4 L842.1 940.7 L847.0 939.9 L852.0 939.1 L856.9 938.3 L861.9 937.5 L866.8 936.7 L871.8 935.9 L876.7 935.0 L881.6 934.2 L886.6 933.4 L891.5 932.5 L896.5 931.7 L901.4 930.9 L906.3 930.0 L911.3 929.2 L916.2 928.4 L921.2 927.6 L926.1 926.8 L931.1 926.0 L936.0 925.2 L941.0 924.4 L945.9 923.6 L950.9 922.9 L955.8 922.1 L960.8 921.3 L965.7 920.5 L970.7 919.8 L975.6 919.0 L980.6 918.3 L985.5 917.5 L990.5 916.8 L995.4 916.1 L1000.4 915.4 L1005.4 914.8 L1010.3 914.1 L1015.3 913.5 L1020.3 912.9 L1025.3 912.4 L1030.3 911.8 L1035.2 911.3 L1040.2 910.8 L1045.2 910.2 L1050.2 909.7 L1055.2 909.2 L1060.1 908.6 L1065.1 908.1 L1070.1 907.6 L1075.1 907.0 L1080.1 906.4 L1085.0 905.8 L1090.0 905.3 L1095.0 904.7 L1100.0 904.1 L1104.9 903.5 L1109.9 902.9 L1114.9 902.3 L1119.9 901.7 L1124.8 901.1 L1129.8 900.5 L1134.8 899.9 L1139.8 899.3 L1144.8 898.8 L1149.7 898.2 L1154.7 897.6 L1159.7 897.0 L1164.7 896.4 L1169.6 895.9 L1174.6 895.3 L1179.6 894.7 L1184.6 894.2 L1189.5 893.6 L1194.5 893.0 L1199.5 892.5 L1204.5 891.9 L1209.5 891.4 L1214.4 890.8 L1219.4 890.3 L1224.4 889.7 L1229.4 889.2 L1234.4 888.7 L1239.4 888.2 L1244.3 887.6 L1249.3 887.1 L1254.3 886.6 L1259.3 886.0 L1264.3 885.5 L1269.2 884.9 L1274.2 884.4 L1279.2 883.8 L1284.2 883.2 L1289.2 882.6 L1294.1 882.0 L1299.1 881.4 L1304.1 880.9 L1309.1 880.3 L1314.0 879.7 L1319.0 879.1 L1324.0 878.5 L1329.0 877.9 L1333.9 877.3 L1338.9 876.7 L1343.9 876.1 L1348.9 875.6 L1353.8 875.0 L1358.8 874.4 L1363.8 873.9 L1368.8 873.3 L1373.8 872.8 L1378.7 872.2 L1383.7 871.6 L1388.7 871.0 L1393.7 870.5 L1398.6 869.8 L1403.6 869.2 L1408.6 868.6 L1413.5 867.9 L1418.5 867.2 L1423.5 866.5 L1428.4 865.7 L1433.4 865.0 L1438.3 864.3 L1443.3 863.5 L1448.2 862.8 L1453.2 862.1 L1458.2 861.4 L1463.1 860.8 L1468.1 860.1 L1473.1 859.5 L1478.1 858.9 L1483.0 858.4 L1488.0 857.8 L1493.0 857.3 L1498.0 856.8 L1503.0 856.2 L1508.0 855.7 L1512.9 855.2 L1517.9 854.7 L1522.9 854.2 L1527.9 853.7 L1532.9 853.2 L1537.9 852.8 L1542.9 852.3 L1547.8 851.8 L1552.8 851.4 L1557.8 850.9 L1562.8 850.5 L1567.8 850.0 L1572.8 849.6 L1577.8 849.2 L1582.8 848.7 L1587.8 848.3 L1592.8 847.8 L1597.8 847.3 L1602.7 846.9 L1607.7 846.4 L1612.7 845.9 L1617.7 845.4 L1622.7 844.9 L1627.7 844.4 L1632.7 843.9 L1637.6 843.4 L1642.6 842.8 L1647.6 842.3 L1652.6 841.8 L1657.6 841.2 L1662.5 840.6 L1667.5 840.1 L1672.5 839.5 L1677.5 838.8 L1682.4 838.2 L1687.4 837.6 L1692.4 836.9 L1697.3 836.2 L1702.3 835.5 L1707.3 834.8 L1712.2 834.2 L1717.2 833.5 L1722.1 832.8 L1727.1 832.1 L1732.1 831.4 L1737.0 830.7 L1742.0 830.1 L1747.0 829.4 L1751.9 828.8 L1756.9 828.1 L1761.9 827.5 L1766.9 826.8 L1771.8 826.2 L1776.8 825.5 L1781.7 824.8 L1786.7 824.2 L1791.7 823.5 L1796.6 822.7 L1801.6 822.0 L1806.5 821.3 L1811.5 820.5 L1816.4 819.7 L1821.4 818.9 L1826.3 818.1 L1831.3 817.3 L1836.2 816.5 L1841.2 815.7 L1846.1 814.8 L1851.0 814.0 L1856.0 813.2 L1860.9 812.3 L1865.9 811.5 L1870.8 810.7 L1875.8 809.9 L1880.7 809.1 L1885.7 808.3 L1890.6 807.5 L1895.6 806.7 L1900.5 805.9 L1905.4 805.1 L1910.4 804.3 L1915.3 803.4 L1920.3 802.5 L1925.2 801.6 L1930.1 800.6 L1935.0 799.6 L1939.9 798.5 L1944.8 797.4 L1949.7 796.3 L1954.5 795.1 L1959.4 793.9 L1964.2 792.6 L1969.1 791.4 L1973.9 790.1 L1978.8 788.9 L1983.7 787.7 L1988.5 786.5 L1993.4 785.3 L1998.3 784.2 L2003.2 783.1 L2008.1 782.0 L2013.0 781.0 L2017.9 779.9 L2022.8 778.9 L2027.7 777.9 L2032.6 776.8 L2037.5 775.8 L2042.4 774.7 L2047.2 773.6 L2052.1 772.4 L2057.0 771.2 L2061.8 769.9 L2066.7 768.6 L2071.5 767.2 L2076.3 765.8 L2081.1 764.4 L2085.9 763.0 L2090.7 761.5 L2095.5 760.0 L2100.2 758.4 L2105.0 756.8 L2109.7 755.1 L2114.4 753.3 L2119.0 751.4 L2123.6 749.4 L2128.1 747.3 L2132.7 745.2 L2137.2 743.1 L2141.7 740.9 L2146.2 738.6 L2150.7 736.3 L2155.1 734.0 L2159.4 731.5 L2163.7 728.9 L2167.9 726.2 L2172.0 723.2 L2175.9 720.1 L2179.5 716.7 L2182.8 712.9 L2185.9 708.9 L2188.8 704.8 L2191.5 700.6 L2194.1 696.4 L2196.6 692.0 L2198.9 687.5 L2201.0 683.0 L2203.0 678.4 L2205.0 673.8 L2206.8 669.1 L2208.6 664.4 L2210.3 659.7 L2211.9 655.0 L2213.4 650.2 L2214.7 645.4 L2215.9 640.5 L2216.9 635.6 L2217.8 630.7 L2218.6 625.7 L2219.3 620.8 L2219.9 615.8 L2220.5 610.8 L2221.0 605.8 L2221.5 600.8 L2221.8 595.8 L2222.0 590.8 L2222.0 585.8 L2222.0 580.8 L2222.0 575.8 L2222.0 570.8 L2222.0 565.8 L2222.0 560.8 L2222.0 555.8 L2222.0 550.8 L2222.0 545.7 L2222.0 540.7 L2222.0 535.7 L2222.0 530.7 L2222.0 525.7 L2222.0 520.7 L2222.0 515.7 L2222.0 510.7 L2222.0 505.7 L2222.0 500.6 L2222.0 495.6 L2222.0 490.6 L2222.0 485.6 L2222.0 480.6 L2222.0 475.6 L2222.0 470.6 L2222.0 465.6 L2222.0 460.6 L2222.0 455.6 L2222.0 450.5 L2222.0 445.5 L2222.0 440.5 L2222.0 435.5 L2222.0 430.5 L2222.0 425.5 L2222.0 420.5 L2222.0 415.5 L2222.0 410.5 L2222.0 405.4 L2222.0 400.4 L2222.0 395.4 L2222.0 390.4 L2222.0 385.4 L2222.0 380.4 L2222.0 375.4 L2222.0 370.4 L2222.0 365.4 L2222.0 360.4 L2222.0 355.3 L2222.0 350.3 L2222.0 345.3 L2222.0 340.3 L2222.0 335.3 L2222.0 330.3 L2222.0 325.3 L2222.0 320.3 L2222.0 315.3 L2222.0 310.2 L2222.0 305.2 L2222.0 300.2 L2222.0 295.2 L2222.0 290.2 L2222.0 285.2 L2222.0 280.2 L2222.0 275.2 L2222.0 270.2 L2222.0 265.2 L2222.0 260.1 L2222.0 255.1 L2222.0 250.1 L2222.0 245.1 L2222.0 240.1 L2222.0 235.1 L2222.0 230.1 L2222.0 225.1 L2222.0 220.1 L2222.0 215.0 L2222.0 210.0 L2222.0 205.0 L2222.0 200.0 L2222.0 195.0 L2222.0 190.0 L2222.0 185.0 L2222.0 180.0 L2222.0 175.0 L2222.0 170.0 L2222.0 164.9 L2222.0 159.9 L2222.0 154.9 L2222.0 149.9 L2222.0 144.9 L2222.0 139.9 L2222.0 134.9 L2222.0 129.9 L2222.0 124.9 L2222.0 119.8 L2222.0 114.8 L2222.0 109.8 L2222.0 104.8 L2222.0 99.8 L2222.0 94.8 L2222.0 89.8 L2222.0 84.8 L2222.0 79.8 L2222.0 74.8 L2222.0 69.7 L2222.0 64.7 L2222.0 59.7 L2222.0 54.7 L2222.0 49.7" stroke-dashoffset="7"/>
<path d="M733.0 956.6 L737.9 955.5 L742.8 954.5 L747.7 953.4 L752.6 952.3 L757.4 951.3 L762.3 950.2 L767.2 949.1 L772.1 948.0 L777.0 946.9 L781.9 945.8 L786.7 944.7 L791.6 943.6 L796.5 942.5 L801.4 941.4 L806.3 940.3 L811.1 939.2 L816.0 938.1 L820.9 936.9 L825.8 935.8 L830.6 934.7 L835.5 933.6 L840.4 932.4 L845.2 931.3 L850.1 930.1 L855.0 928.9 L859.8 927.6 L864.7 926.4 L869.5 925.2 L874.4 924.0 L879.2 922.8 L884.1 921.6 L888.9 920.5 L893.8 919.4 L898.7 918.3 L903.6 917.2 L908.5 916.3 L913.4 915.3 L918.3 914.4 L923.3 913.5 L928.2 912.5 L933.1 911.6 L938.0 910.7 L942.9 909.7 L947.8 908.7 L952.7 907.7 L957.6 906.7 L962.5 905.6 L967.4 904.5 L972.3 903.4 L977.2 902.4 L982.0 901.3 L986.9 900.3 L991.8 899.3 L996.7 898.3 L1001.7 897.4 L1006.6 896.4 L1011.5 895.6 L1016.4 894.7 L1021.4 893.9 L1026.3 893.2 L1031.3 892.4 L1036.2 891.7 L1041.2 891.0 L1046.1 890.3 L1051.1 889.6 L1056.0 888.8 L1061.0 888.1 L1065.9 887.4 L1070.9 886.6 L1075.8 885.8 L1080.7 884.9 L1085.7 884.1 L1090.6 883.2 L1095.5 882.3 L1100.4 881.4 L1105.3 880.5 L1110.3 879.6 L1115.2 878.6 L1120.1 877.7 L1125.0 876.8 L1129.9 875.8 L1134.8 874.8 L1139.7 873.9 L1144.6 872.9 L1149.5 871.9 L1154.4 870.9 L1159.3 869.9 L1164.2 868.9 L1169.1 867.9 L1174.0 866.9 L1178.9 865.8 L1183.8 864.8 L1188.7 863.8 L1193.6 862.8 L1198.5 861.8 L1203.4 860.7 L1208.3 859.7 L1213.2 858.7 L1218.1 857.6 L1223.0 856.6 L1227.9 855.6 L1232.8 854.6 L1237.7 853.5 L1242.6 852.5 L1247.5 851.5 L1252.4 850.5 L1257.3 849.5 L1262.2 848.5 L1267.1 847.4 L1272.0 846.4 L1276.9 845.3 L1281.8 844.3 L1286.7 843.2 L1291.5 842.2 L1296.4 841.2 L1301.3 840.1 L1306.2 839.1 L1311.1 838.1 L1316.0 837.1 L1320.9 836.1 L1325.8 835.1 L1330.8 834.2 L1335.7 833.3 L1340.6 832.3 L1345.5 831.4 L1350.4 830.4 L1355.3 829.5 L1360.2 828.6 L1365.2 827.7 L1370.1 826.8 L1375.0 825.9 L1379.9 825.1 L1384.9 824.3 L1389.8 823.5 L1394.8 822.8 L1399.7 822.0 L1404.7 821.4 L1409.6 820.7 L1414.6 820.2 L1419.6 819.6 L1424.6 819.1 L1429.5 818.5 L1434.5 818.0 L1439.5 817.5 L1444.5 817.0 L1449.4 816.4 L1454.4 815.9 L1459.4 815.3 L1464.3 814.6 L1469.3 814.0 L1474.2 813.2 L1479.2 812.5 L1484.1 811.7 L1489.1 810.9 L1494.0 810.1 L1498.9 809.2 L1503.9 808.4 L1508.8 807.5 L1513.7 806.6 L1518.6 805.7 L1523.6 804.9 L1528.5 804.1 L1533.4 803.2 L1538.4 802.4 L1543.3 801.6 L1548.2 800.8 L1553.2 800.0 L1558.1 799.2 L1563.1 798.4 L1568.0 797.6 L1572.9 796.8 L1577.9 796.0 L1582.8 795.2 L1587.7 794.4 L1592.7 793.5 L1597.6 792.6 L1602.5 791.7 L1607.4 790.8 L1612.4 789.9 L1617.3 789.0 L1622.2 788.0 L1627.1 787.1 L1632.0 786.1 L1636.9 785.1 L1641.8 784.2 L1646.7 783.2 L1651.6 782.2 L1656.6 781.3 L1661.5 780.3 L1666.4 779.4 L1671.3 778.4 L1676.2 777.5 L1681.1 776.6 L1686.0 775.6 L1690.9 774.7 L1695.9 773.7 L1700.8 772.8 L1705.7 771.8 L1710.6 770.9 L1715.5 769.9 L1720.4 768.9 L1725.3 767.9 L1730.2 767.0 L1735.1 766.0 L1740.0 765.0 L1744.9 764.0 L1749.8 763.0 L1754.7 762.0 L1759.6 761.0 L1764.5 760.0 L1769.4 759.0 L1774.3 758.0 L1779.2 756.9 L1784.1 755.8 L1789.0 754.7 L1793.8 753.6 L1798.7 752.4 L1803.6 751.2 L1808.4 749.9 L1813.3 748.7 L1818.1 747.4 L1822.9 746.1 L1827.8 744.8 L1832.6 743.5 L1837.4 742.1 L1842.2 740.8 L1847.0 739.5 L1851.9 738.1 L1856.7 736.8 L1861.5 735.4 L1866.3 734.1 L1871.1 732.7 L1875.9 731.3 L1880.7 729.9 L1885.5 728.5 L1890.3 727.1 L1895.1 725.7 L1899.9 724.3 L1904.7 722.9 L1909.6 721.6 L1914.4 720.2 L1919.2 718.8 L1924.0 717.5 L1928.8 716.2 L1933.7 714.9 L1938.5 713.7 L1943.4 712.4 L1948.2 711.1 L1953.0 709.8 L1957.9 708.6 L1962.7 707.3 L1967.5 706.0 L1972.4 704.7 L1977.2 703.4 L1982.0 702.1 L1986.9 700.8 L1991.7 699.4 L1996.5 698.1 L2001.3 696.8 L2006.2 695.5 L2011.0 694.1 L2015.8 692.8 L2020.6 691.4 L2025.4 690.1 L2030.2 688.7 L2035.0 687.2 L2039.8 685.7 L2044.5 684.2 L2049.3 682.6 L2054.0 681.0 L2058.7 679.3 L2063.4 677.6 L2068.1 675.9 L2072.8 674.1 L2077.5 672.3 L2082.1 670.4 L2086.8 668.5 L2091.4 666.6 L2095.9 664.6 L2100.5 662.5 L2105.0 660.4 L2109.5 658.1 L2114.0 655.9 L2118.4 653.6 L2122.8 651.2 L2127.2 648.8 L2131.6 646.4 L2135.9 643.9 L2140.2 641.4 L2144.5 638.8 L2148.7 636.1 L2152.8 633.2 L2156.9 630.3 L2160.8 627.2 L2164.5 623.9 L2168.2 620.4 L2171.7 616.9 L2175.2 613.3 L2178.6 609.7 L2182.0 605.9 L2185.2 602.1 L2188.4 598.2 L2191.4 594.3 L2194.3 590.2 L2197.0 586.0 L2199.5 581.7 L2201.9 577.2 L2203.9 572.7 L2205.8 568.0 L2207.5 563.3 L2209.0 558.6 L2210.4 553.8 L2211.7 548.9 L2213.0 544.1 L2214.2 539.2 L2215.4 534.4 L2216.6 529.5 L2217.8 524.7 L2218.7 519.8 L2219.5 514.8 L2220.2 509.9 L2220.9 504.9 L2221.5 499.9 L2221.9 494.9 L2222.0 489.9 L2222.0 484.9 L2222.0 479.9 L2222.0 474.9 L2222.0 469.9 L2222.0 464.9 L2222.0 459.9 L2222.0 454.9 L2222.0 449.9 L2222.0 444.9 L2222.0 439.9 L2222.0 434.9 L2222.0 429.9 L2222.0 424.9 L2222.0 419.9 L2222.0 414.9 L2222.0 409.9 L2222.0 404.9 L2222.0 399.9 L2222.0 394.9 L2222.0 389.9 L2222.0 384.9 L2222.0 379.9 L2222.0 374.9 L2222.0 369.9 L2222.0 364.9 L2222.0 359.9 L2222.0 354.9 L2222.0 349.9 L2222.0 344.9 L2222.0 339.9 L2222.0 334.9 L2222.0 329.9 L2222.0 324.9 L2222.0 319.8 L2222.0 314.8 L2222.0 309.8 L2222.0 304.8 L2222.0 299.8 L2222.0 294.8 L2222.0 289.8 L2222.0 284.8 L2222.0 279.8 L2222.0 274.8 L2222.0 269.8 L2222.0 264.8 L2222.0 259.8 L2222.0 254.8 L2222.0 249.8 L2222.0 244.8 L2222.0 239.8 L2222.0 234.8 L2222.0 229.8 L2222.0 224.8 L2222.0 219.8 L2222.0 214.8 L2222.0 209.8 L2222.0 204.8 L2222.0 199.8 L2222.0 194.8 L2222.0 189.8 L2222.0 184.8 L2222.0 179.8 L2222.0 174.8 L2222.0 169.8 L2222.0 164.8 L2222.0 159.8 L2222.0 154.8 L2222.0 149.8 L2222.0 144.8 L2222.0 139.7 L2222.0 134.7 L2222.0 129.7 L2222.0 124.7 L2222.0 119.7 L2222.0 114.7 L2222.0 109.7 L2222.0 104.7 L2222.0 99.7 L2222.0 94.7 L2222.0 89.7 L2222.0 84.7 L2222.0 79.7 L2222.0 74.7 L2222.0 69.7 L2222.0 64.7 L2222.0 59.7 L2222.0 54.7 L2222.0 49.7" stroke-dashoffset="7"/>
<path d="M733.0 956.6 L737.9 955.4 L742.7 954.3 L747.6 953.1 L752.5 952.0 L757.3 950.8 L762.2 949.6 L767.1 948.5 L771.9 947.3 L776.8 946.1 L781.7 945.0 L786.5 943.8 L791.4 942.7 L796.3 941.5 L801.1 940.3 L806.0 939.2 L810.8 938.0 L815.7 936.8 L820.6 935.7 L825.4 934.5 L830.3 933.3 L835.2 932.2 L840.0 931.0 L844.9 929.8 L849.8 928.6 L854.6 927.5 L859.5 926.3 L864.4 925.1 L869.2 923.9 L874.1 922.8 L878.9 921.6 L883.8 920.4 L888.7 919.2 L893.5 918.0 L898.4 916.9 L903.2 915.7 L908.1 914.5 L913.0 913.3 L917.8 912.2 L922.7 911.0 L927.6 909.8 L932.4 908.7 L937.3 907.5 L942.2 906.4 L947.0 905.2 L951.9 904.1 L956.8 902.9 L961.6 901.8 L966.5 900.6 L971.4 899.5 L976.3 898.3 L981.1 897.2 L986.0 896.1 L990.9 895.0 L995.8 893.9 L1000.7 892.8 L1005.6 891.8 L1010.5 890.8 L1015.4 889.8 L1020.3 888.9 L1025.2 888.0 L1030.1 887.1 L1035.0 886.2 L1040.0 885.3 L1044.9 884.4 L1049.8 883.6 L1054.7 882.7 L1059.7 881.8 L1064.6 880.9 L1069.5 880.0 L1074.4 879.1 L1079.3 878.2 L1084.2 877.2 L1089.2 876.3 L1094.1 875.3 L1099.0 874.3 L1103.9 873.3 L1108.8 872.3 L1113.7 871.3 L1118.6 870.3 L1123.5 869.3 L1128.4 868.3 L1133.3 867.2 L1138.2 866.2 L1143.1 865.2 L1147.9 864.1 L1152.8 863.1 L1157.7 862.0 L1162.6 861.0 L1167.5 859.9 L1172.4 858.9 L1177.3 857.8 L1182.2 856.7 L1187.1 855.7 L1192.0 854.6 L1196.8 853.5 L1201.7 852.5 L1206.6 851.4 L1211.5 850.4 L1216.4 849.3 L1221.3 848.2 L1226.2 847.2 L1231.1 846.1 L1236.0 845.0 L1240.8 844.0 L1245.7 842.9 L1250.6 841.9 L1255.5 840.8 L1260.4 839.8 L1265.3 838.7 L1270.2 837.7 L1275.1 836.6 L1280.0 835.6 L1284.9 834.5 L1289.8 833.5 L1294.6 832.4 L1299.5 831.4 L1304.4 830.3 L1309.3 829.3 L1314.2 828.2 L1319.1 827.2 L1324.0 826.1 L1328.9 825.1 L1333.8 824.0 L1338.7 823.0 L1343.6 821.9 L1348.4 820.9 L1353.3 819.8 L1358.2 818.8 L1363.1 817.7 L1368.0 816.6 L1372.9 815.6 L1377.8 814.5 L1382.7 813.5 L1387.6 812.4 L1392.5 811.4 L1397.3 810.3 L1402.2 809.3 L1407.1 808.2 L1412.0 807.1 L1416.9 806.1 L1421.8 805.0 L1426.7 803.9 L1431.6 802.9 L1436.5 801.8 L1441.3 800.7 L1446.2 799.7 L1451.1 798.6 L1456.0 797.5 L1460.9 796.5 L1465.8 795.4 L1470.7 794.3 L1475.5 793.2 L1480.4 792.2 L1485.3 791.1 L1490.2 790.0 L1495.1 788.9 L1500.0 787.8 L1504.9 786.7 L1509.7 785.6 L1514.6 784.6 L1519.5 783.5 L1524.4 782.4 L1529.3 781.3 L1534.1 780.2 L1539.0 779.1 L1543.9 778.0 L1548.8 776.9 L1553.7 775.8 L1558.6 774.7 L1563.4 773.6 L1568.3 772.5 L1573.2 771.4 L1578.1 770.3 L1583.0 769.2 L1587.8 768.1 L1592.7 767.0 L1597.6 765.9 L1602.5 764.8 L1607.4 763.7 L1612.2 762.6 L1617.1 761.5 L1622.0 760.5 L1626.9 759.4 L1631.8 758.3 L1636.7 757.2 L1641.5 756.1 L1646.4 755.0 L1651.3 753.9 L1656.2 752.8 L1661.1 751.7 L1665.9 750.7 L1670.8 749.6 L1675.7 748.5 L1680.6 747.4 L1685.5 746.4 L1690.4 745.3 L1695.3 744.2 L1700.2 743.1 L1705.0 742.1 L1709.9 741.0 L1714.8 739.9 L1719.7 738.9 L1724.6 737.8 L1729.5 736.7 L1734.4 735.6 L1739.2 734.6 L1744.1 733.5 L1749.0 732.4 L1753.9 731.3 L1758.8 730.2 L1763.7 729.1 L1768.5 728.0 L1773.4 726.9 L1778.3 725.8 L1783.2 724.7 L1788.0 723.5 L1792.9 722.4 L1797.8 721.3 L1802.7 720.1 L1807.5 719.0 L1812.4 717.9 L1817.3 716.7 L1822.1 715.6 L1827.0 714.4 L1831.9 713.2 L1836.7 712.0 L1841.6 710.8 L1846.4 709.5 L1851.2 708.2 L1856.1 706.9 L1860.9 705.5 L1865.7 704.1 L1870.5 702.7 L1875.3 701.2 L1880.0 699.7 L1884.8 698.2 L1889.6 696.7 L1894.4 695.3 L1899.1 693.8 L1903.9 692.3 L1908.7 690.9 L1913.5 689.5 L1918.3 688.1 L1923.1 686.7 L1928.0 685.4 L1932.8 684.1 L1937.6 682.8 L1942.4 681.5 L1947.3 680.1 L1952.1 678.8 L1956.9 677.5 L1961.7 676.2 L1966.6 674.8 L1971.4 673.4 L1976.2 672.0 L1980.9 670.6 L1985.7 669.1 L1990.5 667.6 L1995.3 666.1 L2000.1 664.6 L2004.8 663.1 L2009.6 661.6 L2014.3 660.0 L2019.1 658.5 L2023.8 656.9 L2028.6 655.2 L2033.3 653.6 L2038.0 651.9 L2042.7 650.2 L2047.4 648.4 L2052.1 646.7 L2056.8 644.9 L2061.4 643.2 L2066.1 641.4 L2070.8 639.6 L2075.4 637.7 L2080.0 635.8 L2084.6 633.8 L2089.2 631.8 L2093.7 629.7 L2098.2 627.4 L2102.6 625.1 L2107.0 622.7 L2111.4 620.2 L2115.7 617.7 L2119.9 615.0 L2124.2 612.4 L2128.4 609.7 L2132.5 606.9 L2136.6 604.0 L2140.7 601.1 L2144.7 598.1 L2148.6 595.0 L2152.6 591.9 L2156.4 588.7 L2160.3 585.5 L2164.1 582.3 L2167.9 579.1 L2171.7 575.8 L2175.5 572.5 L2179.2 569.2 L2182.8 565.7 L2186.4 562.2 L2189.8 558.6 L2193.0 554.8 L2196.0 550.8 L2198.7 546.5 L2201.0 542.1 L2203.2 537.6 L2205.1 533.0 L2206.9 528.3 L2208.5 523.5 L2209.9 518.7 L2211.3 513.9 L2212.6 509.1 L2213.8 504.2 L2214.9 499.4 L2215.9 494.5 L2216.9 489.6 L2217.8 484.6 L2218.5 479.7 L2219.3 474.8 L2220.1 469.8 L2220.8 464.9 L2221.4 459.9 L2221.8 454.9 L2222.0 449.9 L2222.0 444.9 L2222.0 439.9 L2222.0 434.9 L2222.0 429.9 L2222.0 424.9 L2222.0 419.9 L2222.0 414.9 L2222.0 409.9 L2222.0 404.9 L2222.0 399.9 L2222.0 394.9 L2222.0 389.9 L2222.0 384.9 L2222.0 379.9 L2222.0 374.9 L2222.0 369.9 L2222.0 364.9 L2222.0 359.9 L2222.0 354.9 L2222.0 349.9 L2222.0 344.9 L2222.0 339.9 L2222.0 334.9 L2222.0 329.9 L2222.0 324.8 L2222.0 319.8 L2222.0 314.8 L2222.0 309.8 L2222.0 304.8 L2222.0 299.8 L2222.0 294.8 L2222.0 289.8 L2222.0 284.8 L2222.0 279.8 L2222.0 274.8 L2222.0 269.8 L2222.0 264.8 L2222.0 259.8 L2222.0 254.8 L2222.0 249.8 L2222.0 244.8 L2222.0 239.8 L2222.0 234.8 L2222.0 229.8 L2222.0 224.8 L2222.0 219.8 L2222.0 214.8 L2222.0 209.8 L2222.0 204.8 L2222.0 199.8 L2222.0 194.8 L2222.0 189.8 L2222.0 184.8 L2222.0 179.8 L2222.0 174.8 L2222.0 169.8 L2222.0 164.8 L2222.0 159.8 L2222.0 154.8 L2222.0 149.8 L2222.0 144.8 L2222.0 139.7 L2222.0 134.7 L2222.0 129.7 L2222.0 124.7 L2222.0 119.7 L2222.0 114.7 L2222.0 109.7 L2222.0 104.7 L2222.0 99.7 L2222.0 94.7 L2222.0 89.7 L2222.0 84.7 L2222.0 79.7 L2222.0 74.7 L2222.0 69.7 L2222.0 64.7 L2222.0 59.7 L2222.0 54.7 L2222.0 49.7" stroke-dashoffset="7"/>
<path d="M733.0 956.6 L737.9 955.4 L742.7 954.2 L747.6 953.0 L752.4 951.7 L757.3 950.5 L762.1 949.3 L767.0 948.1 L771.9 946.8 L776.7 945.6 L781.6 944.4 L786.4 943.1 L791.3 941.9 L796.1 940.6 L801.0 939.4 L805.8 938.2 L810.7 936.9 L815.5 935.7 L820.4 934.4 L825.2 933.2 L830.1 932.0 L834.9 930.7 L839.8 929.5 L844.7 928.3 L849.5 927.0 L854.4 925.8 L859.2 924.6 L864.1 923.4 L868.9 922.1 L873.8 920.9 L878.7 919.7 L883.5 918.5 L888.4 917.3 L893.2 916.1 L898.1 914.9 L903.0 913.7 L907.8 912.5 L912.7 911.3 L917.5 910.1 L922.4 908.9 L927.3 907.7 L932.1 906.6 L937.0 905.4 L941.9 904.2 L946.8 903.0 L951.6 901.9 L956.5 900.7 L961.4 899.5 L966.2 898.3 L971.1 897.2 L976.0 896.0 L980.9 894.9 L985.7 893.8 L990.6 892.7 L995.5 891.6 L1000.4 890.5 L1005.3 889.5 L1010.2 888.5 L1015.1 887.5 L1020.0 886.5 L1024.9 885.6 L1029.9 884.6 L1034.8 883.6 L1039.7 882.7 L1044.6 881.7 L1049.5 880.8 L1054.4 879.8 L1059.3 878.8 L1064.3 877.8 L1069.2 876.8 L1074.1 875.8 L1079.0 874.7 L1083.9 873.7 L1088.8 872.7 L1093.7 871.6 L1098.6 870.6 L1103.5 869.5 L1108.4 868.5 L1113.3 867.4 L1118.1 866.4 L1123.0 865.3 L1127.9 864.2 L1132.8 863.1 L1137.7 862.1 L1142.6 861.0 L1147.5 859.9 L1152.4 858.8 L1157.3 857.7 L1162.1 856.6 L1167.0 855.4 L1171.9 854.3 L1176.8 853.2 L1181.7 852.1 L1186.6 851.0 L1191.4 849.9 L1196.3 848.8 L1201.2 847.7 L1206.1 846.5 L1211.0 845.4 L1215.8 844.3 L1220.7 843.2 L1225.6 842.1 L1230.5 841.0 L1235.4 839.8 L1240.3 838.7 L1245.1 837.6 L1250.0 836.5 L1254.9 835.4 L1259.8 834.3 L1264.7 833.2 L1269.6 832.0 L1274.4 830.9 L1279.3 829.8 L1284.2 828.7 L1289.1 827.6 L1294.0 826.5 L1298.8 825.3 L1303.7 824.2 L1308.6 823.1 L1313.5 822.0 L1318.4 820.9 L1323.3 819.7 L1328.1 818.6 L1333.0 817.5 L1337.9 816.3 L1342.8 815.2 L1347.6 814.1 L1352.5 812.9 L1357.4 811.8 L1362.3 810.6 L1367.1 809.5 L1372.0 808.3 L1376.9 807.2 L1381.8 806.0 L1386.6 804.9 L1391.5 803.7 L1396.4 802.6 L1401.3 801.4 L1406.1 800.3 L1411.0 799.1 L1415.9 798.0 L1420.8 796.8 L1425.6 795.7 L1430.5 794.5 L1435.4 793.4 L1440.3 792.3 L1445.2 791.1 L1450.0 790.0 L1454.9 788.9 L1459.8 787.7 L1464.7 786.6 L1469.6 785.5 L1474.4 784.4 L1479.3 783.3 L1484.2 782.2 L1489.1 781.1 L1494.0 780.0 L1498.9 779.0 L1503.8 777.9 L1508.7 776.8 L1513.6 775.8 L1518.5 774.7 L1523.3 773.6 L1528.2 772.5 L1533.1 771.5 L1538.0 770.4 L1542.9 769.3 L1547.8 768.1 L1552.7 767.0 L1557.5 765.9 L1562.4 764.8 L1567.3 763.6 L1572.2 762.5 L1577.0 761.3 L1581.9 760.2 L1586.8 759.0 L1591.7 757.9 L1596.5 756.7 L1601.4 755.6 L1606.3 754.4 L1611.2 753.3 L1616.0 752.1 L1620.9 750.9 L1625.8 749.8 L1630.7 748.6 L1635.5 747.5 L1640.4 746.3 L1645.3 745.2 L1650.1 744.0 L1655.0 742.8 L1659.9 741.7 L1664.8 740.5 L1669.6 739.3 L1674.5 738.2 L1679.4 737.0 L1684.2 735.8 L1689.1 734.6 L1694.0 733.5 L1698.8 732.3 L1703.7 731.1 L1708.6 729.9 L1713.4 728.7 L1718.3 727.5 L1723.2 726.3 L1728.0 725.1 L1732.9 723.9 L1737.7 722.7 L1742.6 721.5 L1747.5 720.3 L1752.3 719.1 L1757.2 717.9 L1762.0 716.6 L1766.9 715.4 L1771.8 714.2 L1776.6 712.9 L1781.4 711.7 L1786.3 710.4 L1791.1 709.1 L1796.0 707.8 L1800.8 706.4 L1805.6 705.1 L1810.4 703.7 L1815.2 702.2 L1820.0 700.8 L1824.8 699.4 L1829.6 697.9 L1834.4 696.5 L1839.2 695.0 L1844.0 693.6 L1848.8 692.1 L1853.6 690.7 L1858.4 689.3 L1863.2 687.9 L1868.0 686.5 L1872.8 685.1 L1877.6 683.7 L1882.5 682.4 L1887.3 681.0 L1892.1 679.6 L1896.9 678.3 L1901.7 676.9 L1906.5 675.5 L1911.3 674.1 L1916.1 672.6 L1920.9 671.2 L1925.7 669.7 L1930.5 668.2 L1935.3 666.8 L1940.1 665.3 L1944.8 663.8 L1949.6 662.3 L1954.4 660.7 L1959.2 659.2 L1963.9 657.7 L1968.7 656.1 L1973.4 654.5 L1978.2 652.9 L1982.9 651.3 L1987.7 649.7 L1992.4 648.1 L1997.1 646.4 L2001.9 644.8 L2006.6 643.2 L2011.4 641.6 L2016.1 640.0 L2020.8 638.3 L2025.5 636.7 L2030.3 634.9 L2034.9 633.2 L2039.6 631.4 L2044.2 629.5 L2048.9 627.5 L2053.4 625.5 L2058.0 623.4 L2062.5 621.2 L2066.9 618.9 L2071.4 616.5 L2075.8 614.2 L2080.2 611.9 L2084.7 609.6 L2089.1 607.3 L2093.6 605.0 L2098.0 602.6 L2102.4 600.3 L2106.8 597.9 L2111.2 595.4 L2115.5 593.0 L2119.9 590.5 L2124.2 588.0 L2128.5 585.3 L2132.7 582.6 L2136.8 579.8 L2141.0 577.0 L2145.0 574.1 L2149.1 571.1 L2153.1 568.1 L2157.1 565.1 L2161.0 562.0 L2164.9 558.8 L2168.7 555.6 L2172.4 552.2 L2176.0 548.7 L2179.4 545.0 L2182.7 541.2 L2185.9 537.4 L2188.9 533.4 L2191.9 529.4 L2194.8 525.3 L2197.5 521.1 L2200.1 516.8 L2202.5 512.4 L2204.9 508.0 L2207.0 503.5 L2209.0 498.9 L2210.8 494.2 L2212.4 489.5 L2213.8 484.7 L2215.2 479.8 L2216.4 475.0 L2217.6 470.1 L2218.6 465.2 L2219.5 460.3 L2220.2 455.3 L2220.7 450.3 L2220.9 445.3 L2221.2 440.3 L2221.4 435.3 L2221.6 430.3 L2221.7 425.3 L2221.9 420.3 L2221.9 415.3 L2222.0 410.3 L2222.0 405.3 L2222.0 400.3 L2222.0 395.3 L2222.0 390.3 L2222.0 385.3 L2222.0 380.2 L2222.0 375.2 L2222.0 370.2 L2222.0 365.2 L2222.0 360.2 L2222.0 355.2 L2222.0 350.2 L2222.0 345.2 L2222.0 340.2 L2222.0 335.2 L2222.0 330.2 L2222.0 325.2 L2222.0 320.1 L2222.0 315.1 L2222.0 310.1 L2222.0 305.1 L2222.0 300.1 L2222.0 295.1 L2222.0 290.1 L2222.0 285.1 L2222.0 280.1 L2222.0 275.1 L2222.0 270.1 L2222.0 265.1 L2222.0 260.0 L2222.0 255.0 L2222.0 250.0 L2222.0 245.0 L2222.0 240.0 L2222.0 235.0 L2222.0 230.0 L2222.0 225.0 L2222.0 220.0 L2222.0 215.0 L2222.0 210.0 L2222.0 205.0 L2222.0 199.9 L2222.0 194.9 L2222.0 189.9 L2222.0 184.9 L2222.0 179.9 L2222.0 174.9 L2222.0 169.9 L2222.0 164.9 L2222.0 159.9 L2222.0 154.9 L2222.0 149.9 L2222.0 144.9 L2222.0 139.8 L2222.0 134.8 L2222.0 129.8 L2222.0 124.8 L2222.0 119.8 L2222.0 114.8 L2222.0 109.8 L2222.0 104.8 L2222.0 99.8 L2222.0 94.8 L2222.0 89.8 L2222.0 84.8 L2222.0 79.7 L2222.0 74.7 L2222.0 69.7 L2222.0 64.7 L2222.0 59.7 L2222.0 54.7 L2222.0 49.7" stroke-dashoffset="7"/>
<path d="M733.0 956.6 L737.9 955.4 L742.7 954.1 L747.6 952.9 L752.4 951.6 L757.3 950.3 L762.1 949.1 L767.0 947.8 L771.8 946.5 L776.7 945.2 L781.5 943.9 L786.3 942.7 L791.2 941.4 L796.0 940.1 L800.9 938.8 L805.7 937.5 L810.6 936.2 L815.4 934.9 L820.2 933.6 L825.1 932.3 L829.9 931.0 L834.8 929.8 L839.6 928.5 L844.5 927.2 L849.3 926.0 L854.2 924.7 L859.0 923.5 L863.9 922.2 L868.7 921.0 L873.6 919.7 L878.5 918.5 L883.3 917.3 L888.2 916.0 L893.0 914.8 L897.9 913.6 L902.8 912.4 L907.6 911.2 L912.5 910.0 L917.4 908.8 L922.2 907.6 L927.1 906.4 L932.0 905.2 L936.8 904.0 L941.7 902.8 L946.6 901.6 L951.4 900.4 L956.3 899.2 L961.2 898.0 L966.0 896.9 L970.9 895.7 L975.8 894.6 L980.7 893.4 L985.6 892.3 L990.5 891.2 L995.3 890.1 L1000.2 889.0 L1005.1 887.9 L1010.0 886.9 L1014.9 885.9 L1019.8 884.8 L1024.8 883.8 L1029.7 882.8 L1034.6 881.8 L1039.5 880.7 L1044.4 879.7 L1049.3 878.7 L1054.2 877.6 L1059.1 876.6 L1064.0 875.5 L1068.9 874.5 L1073.8 873.4 L1078.7 872.4 L1083.6 871.3 L1088.5 870.2 L1093.4 869.2 L1098.3 868.1 L1103.2 867.0 L1108.1 865.9 L1113.0 864.8 L1117.8 863.7 L1122.7 862.6 L1127.6 861.5 L1132.5 860.4 L1137.4 859.2 L1142.3 858.1 L1147.2 857.0 L1152.0 855.8 L1156.9 854.7 L1161.8 853.6 L1166.7 852.4 L1171.6 851.3 L1176.4 850.1 L1181.3 849.0 L1186.2 847.8 L1191.1 846.7 L1195.9 845.5 L1200.8 844.4 L1205.7 843.2 L1210.6 842.0 L1215.5 840.9 L1220.3 839.7 L1225.2 838.6 L1230.1 837.4 L1235.0 836.3 L1239.8 835.1 L1244.7 833.9 L1249.6 832.8 L1254.5 831.6 L1259.3 830.4 L1264.2 829.3 L1269.1 828.1 L1274.0 827.0 L1278.8 825.8 L1283.7 824.6 L1288.6 823.5 L1293.5 822.3 L1298.3 821.1 L1303.2 819.9 L1308.1 818.8 L1312.9 817.6 L1317.8 816.4 L1322.7 815.2 L1327.5 814.0 L1332.4 812.8 L1337.3 811.6 L1342.1 810.4 L1347.0 809.1 L1351.9 807.9 L1356.7 806.7 L1361.6 805.5 L1366.5 804.3 L1371.3 803.1 L1376.2 801.9 L1381.1 800.7 L1385.9 799.5 L1390.8 798.3 L1395.6 797.1 L1400.5 795.9 L1405.4 794.7 L1410.3 793.5 L1415.1 792.3 L1420.0 791.1 L1424.9 790.0 L1429.7 788.8 L1434.6 787.6 L1439.5 786.5 L1444.4 785.4 L1449.3 784.2 L1454.2 783.1 L1459.1 782.0 L1463.9 781.0 L1468.8 779.9 L1473.7 778.9 L1478.6 777.8 L1483.6 776.8 L1488.5 775.7 L1493.4 774.7 L1498.3 773.6 L1503.2 772.5 L1508.0 771.5 L1512.9 770.4 L1517.8 769.3 L1522.7 768.1 L1527.6 767.0 L1532.5 765.8 L1537.3 764.7 L1542.2 763.5 L1547.1 762.3 L1552.0 761.2 L1556.8 760.0 L1561.7 758.8 L1566.6 757.6 L1571.4 756.4 L1576.3 755.2 L1581.2 754.0 L1586.0 752.8 L1590.9 751.6 L1595.8 750.4 L1600.6 749.1 L1605.5 747.9 L1610.3 746.7 L1615.2 745.5 L1620.1 744.2 L1624.9 743.0 L1629.8 741.8 L1634.6 740.6 L1639.5 739.3 L1644.4 738.1 L1649.2 736.8 L1654.1 735.6 L1658.9 734.3 L1663.8 733.1 L1668.6 731.8 L1673.5 730.6 L1678.3 729.3 L1683.2 728.1 L1688.0 726.8 L1692.9 725.6 L1697.7 724.3 L1702.6 723.0 L1707.4 721.8 L1712.3 720.5 L1717.1 719.2 L1722.0 718.0 L1726.8 716.7 L1731.7 715.4 L1736.5 714.2 L1741.4 712.9 L1746.2 711.6 L1751.1 710.3 L1755.9 709.0 L1760.7 707.6 L1765.6 706.3 L1770.4 704.9 L1775.2 703.5 L1780.0 702.1 L1784.8 700.7 L1789.6 699.3 L1794.4 697.8 L1799.2 696.4 L1804.0 695.0 L1808.8 693.5 L1813.6 692.1 L1818.4 690.7 L1823.2 689.3 L1828.1 687.9 L1832.9 686.4 L1837.7 685.0 L1842.5 683.6 L1847.3 682.2 L1852.1 680.8 L1856.9 679.4 L1861.7 678.0 L1866.5 676.6 L1871.3 675.2 L1876.1 673.7 L1880.9 672.2 L1885.7 670.8 L1890.5 669.3 L1895.3 667.8 L1900.1 666.3 L1904.9 664.8 L1909.7 663.3 L1914.4 661.8 L1919.2 660.3 L1924.0 658.8 L1928.8 657.3 L1933.5 655.7 L1938.3 654.2 L1943.1 652.7 L1947.8 651.1 L1952.6 649.5 L1957.4 648.0 L1962.1 646.4 L1966.9 644.9 L1971.7 643.4 L1976.5 641.9 L1981.2 640.3 L1986.0 638.8 L1990.8 637.3 L1995.5 635.7 L2000.3 634.0 L2005.0 632.4 L2009.7 630.6 L2014.4 628.9 L2019.1 627.0 L2023.7 625.1 L2028.3 623.2 L2032.9 621.1 L2037.4 618.9 L2041.9 616.7 L2046.4 614.5 L2050.9 612.4 L2055.5 610.3 L2060.1 608.2 L2064.6 606.2 L2069.2 604.1 L2073.8 602.1 L2078.3 599.9 L2082.8 597.8 L2087.4 595.7 L2091.9 593.5 L2096.4 591.4 L2100.9 589.2 L2105.4 586.9 L2109.8 584.5 L2114.2 582.0 L2118.5 579.5 L2122.7 576.8 L2126.9 574.1 L2131.1 571.4 L2135.3 568.6 L2139.4 565.8 L2143.6 562.9 L2147.7 560.0 L2151.7 557.1 L2155.7 554.1 L2159.7 551.0 L2163.5 547.8 L2167.3 544.5 L2171.0 541.1 L2174.6 537.6 L2178.2 534.1 L2181.7 530.5 L2185.1 526.9 L2188.5 523.1 L2191.7 519.3 L2194.7 515.3 L2197.6 511.2 L2200.5 507.1 L2203.1 502.8 L2205.5 498.4 L2207.6 493.9 L2209.6 489.3 L2211.4 484.6 L2213.0 479.9 L2214.6 475.1 L2216.0 470.3 L2217.1 465.4 L2218.2 460.5 L2219.1 455.6 L2219.8 450.6 L2220.2 445.6 L2220.6 440.6 L2221.0 435.6 L2221.3 430.6 L2221.6 425.6 L2221.8 420.6 L2221.9 415.6 L2221.9 410.6 L2222.0 405.6 L2222.0 400.6 L2222.0 395.5 L2222.0 390.5 L2222.0 385.5 L2222.0 380.5 L2222.0 375.5 L2222.0 370.5 L2222.0 365.5 L2222.0 360.5 L2222.0 355.4 L2222.0 350.4 L2222.0 345.4 L2222.0 340.4 L2222.0 335.4 L2222.0 330.4 L2222.0 325.4 L2222.0 320.4 L2222.0 315.3 L2222.0 310.3 L2222.0 305.3 L2222.0 300.3 L2222.0 295.3 L2222.0 290.3 L2222.0 285.3 L2222.0 280.3 L2222.0 275.3 L2222.0 270.2 L2222.0 265.2 L2222.0 260.2 L2222.0 255.2 L2222.0 250.2 L2222.0 245.2 L2222.0 240.2 L2222.0 235.2 L2222.0 230.1 L2222.0 225.1 L2222.0 220.1 L2222.0 215.1 L2222.0 210.1 L2222.0 205.1 L2222.0 200.1 L2222.0 195.1 L2222.0 190.0 L2222.0 185.0 L2222.0 180.0 L2222.0 175.0 L2222.0 170.0 L2222.0 165.0 L2222.0 160.0 L2222.0 155.0 L2222.0 149.9 L2222.0 144.9 L2222.0 139.9 L2222.0 134.9 L2222.0 129.9 L2222.0 124.9 L2222.0 119.9 L2222.0 114.9 L2222.0 109.8 L2222.0 104.8 L2222.0 99.8 L2222.0 94.8 L2222.0 89.8 L2222.0 84.8 L2222.0 79.8 L2222.0 74.8 L2222.0 69.7 L2222.0 64.7 L2222.0 59.7 L2222.0 54.7 L2222.0 49.7" stroke-dashoffset="7"/>
<path d="M733.0 956.6 L737.8 955.3 L742.7 954.1 L747.5 952.8 L752.4 951.5 L757.2 950.2 L762.0 948.9 L766.8 947.6 L771.7 946.3 L776.5 945.0 L781.3 943.7 L786.1 942.4 L791.0 941.0 L795.8 939.7 L800.6 938.4 L805.4 937.1 L810.3 935.7 L815.1 934.4 L819.9 933.1 L824.7 931.8 L829.6 930.5 L834.4 929.2 L839.2 927.9 L844.0 926.6 L848.9 925.3 L853.7 924.1 L858.6 922.8 L863.4 921.6 L868.2 920.3 L873.1 919.1 L877.9 917.8 L882.8 916.6 L887.6 915.3 L892.5 914.1 L897.3 912.9 L902.2 911.7 L907.0 910.4 L911.9 909.2 L916.7 908.0 L921.6 906.8 L926.4 905.6 L931.3 904.4 L936.1 903.2 L941.0 902.0 L945.9 900.8 L950.7 899.6 L955.6 898.4 L960.4 897.3 L965.3 896.1 L970.2 894.9 L975.0 893.8 L979.9 892.6 L984.8 891.5 L989.6 890.3 L994.5 889.2 L999.4 888.1 L1004.3 887.0 L1009.1 886.0 L1014.0 884.9 L1018.9 883.8 L1023.8 882.8 L1028.7 881.7 L1033.6 880.6 L1038.5 879.6 L1043.4 878.5 L1048.2 877.5 L1053.1 876.4 L1058.0 875.3 L1062.9 874.3 L1067.8 873.2 L1072.7 872.1 L1077.5 871.0 L1082.4 869.9 L1087.3 868.9 L1092.2 867.8 L1097.1 866.7 L1101.9 865.6 L1106.8 864.5 L1111.7 863.3 L1116.6 862.2 L1121.4 861.1 L1126.3 859.9 L1131.2 858.8 L1136.0 857.7 L1140.9 856.5 L1145.8 855.3 L1150.6 854.2 L1155.5 853.0 L1160.4 851.9 L1165.2 850.7 L1170.1 849.5 L1175.0 848.4 L1179.8 847.2 L1184.7 846.0 L1189.5 844.8 L1194.4 843.7 L1199.3 842.5 L1204.1 841.3 L1209.0 840.1 L1213.8 838.9 L1218.7 837.7 L1223.6 836.6 L1228.4 835.4 L1233.3 834.2 L1238.1 833.0 L1243.0 831.8 L1247.9 830.6 L1252.7 829.4 L1257.6 828.2 L1262.4 827.0 L1267.3 825.8 L1272.1 824.6 L1277.0 823.4 L1281.8 822.2 L1286.7 821.0 L1291.6 819.8 L1296.4 818.6 L1301.3 817.4 L1306.1 816.2 L1310.9 814.9 L1315.8 813.7 L1320.6 812.4 L1325.5 811.2 L1330.3 810.0 L1335.2 808.7 L1340.0 807.4 L1344.8 806.2 L1349.7 804.9 L1354.5 803.7 L1359.4 802.4 L1364.2 801.2 L1369.1 799.9 L1373.9 798.7 L1378.7 797.5 L1383.6 796.2 L1388.4 795.0 L1393.3 793.8 L1398.2 792.6 L1403.0 791.4 L1407.9 790.2 L1412.7 789.0 L1417.6 787.9 L1422.5 786.7 L1427.3 785.6 L1432.2 784.4 L1437.1 783.3 L1441.9 782.2 L1446.8 781.2 L1451.7 780.1 L1456.6 779.1 L1461.5 778.0 L1466.4 777.0 L1471.3 776.0 L1476.2 774.9 L1481.1 773.9 L1486.0 772.8 L1490.9 771.8 L1495.7 770.7 L1500.6 769.6 L1505.5 768.4 L1510.3 767.3 L1515.2 766.1 L1520.1 765.0 L1524.9 763.8 L1529.8 762.6 L1534.6 761.4 L1539.5 760.2 L1544.4 759.0 L1549.2 757.8 L1554.1 756.6 L1558.9 755.3 L1563.8 754.1 L1568.6 752.9 L1573.4 751.6 L1578.3 750.4 L1583.1 749.1 L1588.0 747.9 L1592.8 746.6 L1597.6 745.3 L1602.5 744.1 L1607.3 742.8 L1612.2 741.5 L1617.0 740.2 L1621.8 739.0 L1626.7 737.7 L1631.5 736.4 L1636.3 735.1 L1641.2 733.8 L1646.0 732.5 L1650.8 731.2 L1655.6 729.9 L1660.5 728.6 L1665.3 727.3 L1670.1 726.0 L1675.0 724.7 L1679.8 723.4 L1684.6 722.1 L1689.4 720.8 L1694.3 719.5 L1699.1 718.2 L1703.9 716.9 L1708.8 715.6 L1713.6 714.3 L1718.4 713.0 L1723.3 711.7 L1728.1 710.4 L1732.9 709.1 L1737.7 707.7 L1742.5 706.4 L1747.3 705.0 L1752.2 703.6 L1757.0 702.3 L1761.8 700.9 L1766.6 699.5 L1771.4 698.1 L1776.2 696.6 L1781.0 695.2 L1785.8 693.8 L1790.5 692.4 L1795.3 691.0 L1800.1 689.6 L1804.9 688.1 L1809.7 686.7 L1814.5 685.3 L1819.3 683.9 L1824.1 682.5 L1828.9 681.0 L1833.7 679.6 L1838.5 678.2 L1843.3 676.7 L1848.1 675.3 L1852.9 673.8 L1857.6 672.3 L1862.4 670.9 L1867.2 669.4 L1872.0 667.9 L1876.7 666.4 L1881.5 664.9 L1886.3 663.4 L1891.1 662.0 L1895.8 660.5 L1900.6 659.0 L1905.4 657.5 L1910.1 655.9 L1914.9 654.4 L1919.7 652.9 L1924.4 651.4 L1929.2 649.9 L1934.0 648.4 L1938.7 646.9 L1943.5 645.4 L1948.3 643.9 L1953.1 642.4 L1957.9 641.0 L1962.6 639.5 L1967.4 638.0 L1972.2 636.5 L1976.9 635.0 L1981.7 633.4 L1986.4 631.8 L1991.1 630.1 L1995.8 628.4 L2000.5 626.7 L2005.2 624.9 L2009.8 623.0 L2014.4 621.0 L2018.9 618.9 L2023.5 616.8 L2028.0 614.7 L2032.6 612.6 L2037.2 610.7 L2041.8 608.7 L2046.4 606.8 L2051.0 604.9 L2055.6 603.0 L2060.2 601.0 L2064.8 599.1 L2069.4 597.1 L2074.0 595.1 L2078.6 593.1 L2083.2 591.1 L2087.8 589.1 L2092.3 587.0 L2096.8 584.7 L2101.2 582.4 L2105.6 580.0 L2109.9 577.5 L2114.2 574.9 L2118.5 572.3 L2122.7 569.7 L2127.0 567.0 L2131.2 564.3 L2135.4 561.6 L2139.5 558.8 L2143.7 556.0 L2147.8 553.2 L2151.8 550.2 L2155.8 547.2 L2159.8 544.1 L2163.7 541.0 L2167.5 537.8 L2171.3 534.5 L2175.0 531.2 L2178.7 527.8 L2182.3 524.4 L2185.8 520.8 L2189.2 517.1 L2192.4 513.3 L2195.6 509.4 L2198.6 505.4 L2201.4 501.3 L2203.9 497.0 L2206.3 492.5 L2208.4 488.0 L2210.3 483.4 L2212.1 478.7 L2213.8 474.0 L2215.3 469.2 L2216.5 464.4 L2217.6 459.5 L2218.6 454.6 L2219.4 449.7 L2219.9 444.7 L2220.4 439.7 L2220.8 434.8 L2221.2 429.8 L2221.5 424.8 L2221.7 419.8 L2221.8 414.8 L2221.9 409.8 L2222.0 404.8 L2222.0 399.8 L2222.0 394.8 L2222.0 389.8 L2222.0 384.8 L2222.0 379.8 L2222.0 374.8 L2222.0 369.8 L2222.0 364.8 L2222.0 359.8 L2222.0 354.8 L2222.0 349.8 L2222.0 344.8 L2222.0 339.8 L2222.0 334.8 L2222.0 329.8 L2222.0 324.8 L2222.0 319.8 L2222.0 314.8 L2222.0 309.8 L2222.0 304.8 L2222.0 299.8 L2222.0 294.8 L2222.0 289.8 L2222.0 284.8 L2222.0 279.7 L2222.0 274.7 L2222.0 269.7 L2222.0 264.7 L2222.0 259.7 L2222.0 254.7 L2222.0 249.7 L2222.0 244.7 L2222.0 239.7 L2222.0 234.7 L2222.0 229.7 L2222.0 224.7 L2222.0 219.7 L2222.0 214.7 L2222.0 209.7 L2222.0 204.7 L2222.0 199.7 L2222.0 194.7 L2222.0 189.7 L2222.0 184.7 L2222.0 179.7 L2222.0 174.7 L2222.0 169.7 L2222.0 164.7 L2222.0 159.7 L2222.0 154.7 L2222.0 149.7 L2222.0 144.7 L2222.0 139.7 L2222.0 134.7 L2222.0 129.7 L2222.0 124.7 L2222.0 119.7 L2222.0 114.7 L2222.0 109.7 L2222.0 104.7 L2222.0 99.7 L2222.0 94.7 L2222.0 89.7 L2222.0 84.7 L2222.0 79.7 L2222.0 74.7 L2222.0 69.7 L2222.0 64.7 L2222.0 59.7 L2222.0 54.7 L2222.0 49.7" stroke-dashoffset="7"/>
<path d="M733.0 956.6 L737.8 955.3 L742.7 954.1 L747.5 952.8 L752.4 951.5 L757.2 950.1 L762.0 948.8 L766.9 947.5 L771.7 946.2 L776.5 944.8 L781.3 943.5 L786.1 942.1 L791.0 940.8 L795.8 939.4 L800.6 938.1 L805.4 936.8 L810.3 935.4 L815.1 934.1 L819.9 932.7 L824.7 931.4 L829.6 930.1 L834.4 928.8 L839.2 927.4 L844.1 926.1 L848.9 924.9 L853.7 923.6 L858.6 922.3 L863.4 921.0 L868.3 919.8 L873.1 918.5 L878.0 917.3 L882.8 916.0 L887.7 914.8 L892.5 913.5 L897.4 912.3 L902.2 911.1 L907.1 909.9 L911.9 908.6 L916.8 907.4 L921.7 906.2 L926.5 905.0 L931.4 903.8 L936.2 902.6 L941.1 901.4 L946.0 900.2 L950.8 899.0 L955.7 897.8 L960.6 896.6 L965.4 895.4 L970.3 894.3 L975.2 893.1 L980.0 891.9 L984.9 890.8 L989.8 889.6 L994.7 888.5 L999.5 887.4 L1004.4 886.3 L1009.3 885.2 L1014.2 884.1 L1019.1 883.0 L1024.0 881.9 L1028.8 880.8 L1033.7 879.7 L1038.6 878.6 L1043.5 877.6 L1048.4 876.5 L1053.3 875.4 L1058.2 874.3 L1063.1 873.2 L1068.0 872.1 L1072.8 871.0 L1077.7 870.0 L1082.6 868.9 L1087.5 867.8 L1092.4 866.7 L1097.3 865.5 L1102.1 864.4 L1107.0 863.3 L1111.9 862.2 L1116.8 861.0 L1121.6 859.9 L1126.5 858.7 L1131.4 857.5 L1136.3 856.4 L1141.1 855.2 L1146.0 854.0 L1150.9 852.8 L1155.7 851.7 L1160.6 850.5 L1165.5 849.3 L1170.3 848.1 L1175.2 846.9 L1180.1 845.7 L1184.9 844.5 L1189.8 843.3 L1194.6 842.1 L1199.5 840.9 L1204.4 839.7 L1209.2 838.5 L1214.1 837.3 L1218.9 836.1 L1223.8 834.9 L1228.7 833.7 L1233.5 832.5 L1238.4 831.3 L1243.2 830.1 L1248.1 828.8 L1252.9 827.6 L1257.8 826.4 L1262.7 825.2 L1267.5 824.0 L1272.4 822.8 L1277.2 821.5 L1282.1 820.3 L1286.9 819.1 L1291.8 817.8 L1296.6 816.6 L1301.5 815.3 L1306.3 814.0 L1311.2 812.8 L1316.0 811.5 L1320.8 810.2 L1325.7 808.9 L1330.5 807.6 L1335.4 806.4 L1340.2 805.1 L1345.1 803.8 L1349.9 802.5 L1354.7 801.2 L1359.6 800.0 L1364.4 798.7 L1369.3 797.5 L1374.1 796.2 L1379.0 795.0 L1383.8 793.7 L1388.7 792.5 L1393.5 791.3 L1398.4 790.1 L1403.3 788.9 L1408.1 787.7 L1413.0 786.5 L1417.9 785.4 L1422.7 784.2 L1427.6 783.1 L1432.5 782.0 L1437.4 781.0 L1442.3 779.9 L1447.2 778.9 L1452.1 777.9 L1457.0 776.8 L1461.9 775.8 L1466.8 774.8 L1471.7 773.7 L1476.6 772.7 L1481.5 771.6 L1486.4 770.5 L1491.3 769.4 L1496.1 768.3 L1501.0 767.1 L1505.9 766.0 L1510.7 764.8 L1515.6 763.6 L1520.5 762.4 L1525.3 761.2 L1530.2 760.0 L1535.0 758.7 L1539.9 757.5 L1544.7 756.2 L1549.6 755.0 L1554.4 753.7 L1559.3 752.5 L1564.1 751.2 L1569.0 749.9 L1573.8 748.6 L1578.6 747.4 L1583.5 746.1 L1588.3 744.8 L1593.1 743.5 L1598.0 742.2 L1602.8 740.9 L1607.6 739.5 L1612.5 738.2 L1617.3 736.9 L1622.1 735.6 L1627.0 734.3 L1631.8 732.9 L1636.6 731.6 L1641.4 730.3 L1646.3 728.9 L1651.1 727.6 L1655.9 726.3 L1660.8 725.0 L1665.6 723.6 L1670.4 722.3 L1675.2 721.0 L1680.1 719.7 L1684.9 718.3 L1689.7 717.0 L1694.6 715.7 L1699.4 714.4 L1704.2 713.1 L1709.1 711.7 L1713.9 710.4 L1718.7 709.1 L1723.5 707.7 L1728.4 706.4 L1733.2 705.0 L1738.0 703.6 L1742.8 702.3 L1747.6 700.9 L1752.4 699.5 L1757.2 698.1 L1762.0 696.7 L1766.8 695.3 L1771.6 693.8 L1776.4 692.4 L1781.2 691.0 L1786.0 689.6 L1790.9 688.2 L1795.7 686.7 L1800.4 685.3 L1805.2 683.9 L1810.0 682.4 L1814.8 681.0 L1819.6 679.5 L1824.4 678.1 L1829.2 676.6 L1834.0 675.2 L1838.8 673.7 L1843.6 672.2 L1848.3 670.7 L1853.1 669.2 L1857.9 667.8 L1862.7 666.3 L1867.5 664.8 L1872.3 663.3 L1877.0 661.8 L1881.8 660.3 L1886.6 658.8 L1891.4 657.3 L1896.2 655.8 L1900.9 654.3 L1905.7 652.8 L1910.5 651.3 L1915.3 649.8 L1920.0 648.3 L1924.8 646.9 L1929.6 645.4 L1934.4 643.9 L1939.2 642.5 L1944.0 641.1 L1948.8 639.7 L1953.6 638.2 L1958.4 636.8 L1963.2 635.3 L1967.9 633.7 L1972.7 632.1 L1977.4 630.5 L1982.2 628.9 L1986.9 627.2 L1991.6 625.5 L1996.2 623.6 L2000.9 621.7 L2005.4 619.7 L2010.0 617.6 L2014.6 615.6 L2019.1 613.6 L2023.8 611.6 L2028.4 609.7 L2033.0 607.9 L2037.7 606.0 L2042.4 604.2 L2047.0 602.3 L2051.7 600.5 L2056.3 598.6 L2060.9 596.7 L2065.6 594.8 L2070.2 592.9 L2074.8 591.0 L2079.4 589.0 L2084.0 587.0 L2088.6 584.9 L2093.0 582.6 L2097.5 580.3 L2101.8 577.9 L2106.2 575.4 L2110.5 572.9 L2114.8 570.3 L2119.1 567.7 L2123.4 565.1 L2127.6 562.5 L2131.9 559.8 L2136.1 557.1 L2140.3 554.3 L2144.4 551.5 L2148.5 548.7 L2152.6 545.8 L2156.6 542.8 L2160.6 539.8 L2164.5 536.7 L2168.4 533.5 L2172.3 530.3 L2176.1 527.0 L2179.8 523.7 L2183.5 520.3 L2187.0 516.7 L2190.3 513.0 L2193.6 509.2 L2196.8 505.4 L2199.8 501.3 L2202.5 497.1 L2204.9 492.7 L2207.2 488.3 L2209.2 483.7 L2211.2 479.1 L2213.0 474.4 L2214.5 469.7 L2215.9 464.8 L2217.1 460.0 L2218.1 455.1 L2219.0 450.1 L2219.6 445.2 L2220.1 440.2 L2220.7 435.2 L2221.1 430.2 L2221.4 425.2 L2221.7 420.2 L2221.8 415.2 L2221.9 410.2 L2222.0 405.2 L2222.0 400.2 L2222.0 395.2 L2222.0 390.2 L2222.0 385.2 L2222.0 380.2 L2222.0 375.2 L2222.0 370.2 L2222.0 365.2 L2222.0 360.1 L2222.0 355.1 L2222.0 350.1 L2222.0 345.1 L2222.0 340.1 L2222.0 335.1 L2222.0 330.1 L2222.0 325.1 L2222.0 320.1 L2222.0 315.1 L2222.0 310.1 L2222.0 305.1 L2222.0 300.1 L2222.0 295.1 L2222.0 290.0 L2222.0 285.0 L2222.0 280.0 L2222.0 275.0 L2222.0 270.0 L2222.0 265.0 L2222.0 260.0 L2222.0 255.0 L2222.0 250.0 L2222.0 245.0 L2222.0 240.0 L2222.0 235.0 L2222.0 230.0 L2222.0 225.0 L2222.0 219.9 L2222.0 214.9 L2222.0 209.9 L2222.0 204.9 L2222.0 199.9 L2222.0 194.9 L2222.0 189.9 L2222.0 184.9 L2222.0 179.9 L2222.0 174.9 L2222.0 169.9 L2222.0 164.9 L2222.0 159.9 L2222.0 154.9 L2222.0 149.8 L2222.0 144.8 L2222.0 139.8 L2222.0 134.8 L2222.0 129.8 L2222.0 124.8 L2222.0 119.8 L2222.0 114.8 L2222.0 109.8 L2222.0 104.8 L2222.0 99.8 L2222.0 94.8 L2222.0 89.8 L2222.0 84.8 L2222.0 79.7 L2222.0 74.7 L2222.0 69.7 L2222.0 64.7 L2222.0 59.7 L2222.0 54.7 L2222.0 49.7" stroke-dashoffset="7"/>
<path d="M733.0 956.6 L737.8 955.3 L742.7 954.0 L747.5 952.7 L752.3 951.4 L757.2 950.1 L762.0 948.8 L766.8 947.4 L771.6 946.1 L776.4 944.7 L781.3 943.4 L786.1 942.0 L790.9 940.7 L795.7 939.3 L800.5 937.9 L805.3 936.6 L810.1 935.2 L815.0 933.9 L819.8 932.5 L824.6 931.2 L829.4 929.8 L834.2 928.5 L839.1 927.2 L843.9 925.9 L848.7 924.6 L853.6 923.3 L858.4 922.0 L863.3 920.8 L868.1 919.5 L872.9 918.2 L877.8 917.0 L882.6 915.7 L887.5 914.5 L892.3 913.3 L897.2 912.0 L902.0 910.8 L906.9 909.6 L911.7 908.3 L916.6 907.1 L921.4 905.9 L926.3 904.7 L931.1 903.5 L936.0 902.3 L940.8 901.1 L945.7 899.9 L950.6 898.7 L955.4 897.5 L960.3 896.3 L965.1 895.1 L970.0 893.9 L974.9 892.8 L979.7 891.6 L984.6 890.4 L989.5 889.3 L994.3 888.1 L999.2 887.0 L1004.1 885.9 L1009.0 884.7 L1013.8 883.6 L1018.7 882.5 L1023.6 881.4 L1028.5 880.3 L1033.4 879.2 L1038.2 878.1 L1043.1 877.0 L1048.0 875.9 L1052.9 874.9 L1057.8 873.8 L1062.7 872.7 L1067.5 871.6 L1072.4 870.5 L1077.3 869.4 L1082.2 868.3 L1087.1 867.2 L1091.9 866.1 L1096.8 864.9 L1101.7 863.8 L1106.6 862.7 L1111.4 861.5 L1116.3 860.4 L1121.2 859.2 L1126.0 858.0 L1130.9 856.9 L1135.8 855.7 L1140.6 854.5 L1145.5 853.3 L1150.4 852.1 L1155.2 850.9 L1160.1 849.8 L1164.9 848.6 L1169.8 847.4 L1174.6 846.2 L1179.5 845.0 L1184.4 843.8 L1189.2 842.5 L1194.1 841.3 L1198.9 840.1 L1203.8 838.9 L1208.6 837.7 L1213.5 836.5 L1218.3 835.3 L1223.2 834.0 L1228.0 832.8 L1232.9 831.6 L1237.7 830.4 L1242.6 829.1 L1247.4 827.9 L1252.3 826.7 L1257.1 825.4 L1262.0 824.2 L1266.8 823.0 L1271.7 821.8 L1276.5 820.5 L1281.4 819.3 L1286.2 818.0 L1291.1 816.7 L1295.9 815.5 L1300.7 814.2 L1305.6 812.9 L1310.4 811.6 L1315.2 810.3 L1320.1 809.0 L1324.9 807.7 L1329.7 806.4 L1334.6 805.1 L1339.4 803.8 L1344.2 802.5 L1349.1 801.2 L1353.9 799.9 L1358.7 798.6 L1363.6 797.4 L1368.4 796.1 L1373.3 794.8 L1378.1 793.6 L1383.0 792.4 L1387.8 791.1 L1392.7 789.9 L1397.5 788.7 L1402.4 787.5 L1407.2 786.4 L1412.1 785.2 L1417.0 784.1 L1421.9 783.0 L1426.8 781.9 L1431.6 780.8 L1436.5 779.8 L1441.4 778.8 L1446.3 777.7 L1451.2 776.7 L1456.1 775.7 L1461.0 774.7 L1465.9 773.6 L1470.8 772.6 L1475.7 771.5 L1480.6 770.4 L1485.5 769.3 L1490.3 768.2 L1495.2 767.0 L1500.1 765.8 L1504.9 764.6 L1509.8 763.4 L1514.6 762.2 L1519.5 761.0 L1524.3 759.8 L1529.2 758.5 L1534.0 757.3 L1538.9 756.0 L1543.7 754.8 L1548.6 753.5 L1553.4 752.2 L1558.2 750.9 L1563.1 749.6 L1567.9 748.4 L1572.7 747.0 L1577.6 745.7 L1582.4 744.4 L1587.2 743.1 L1592.0 741.8 L1596.9 740.4 L1601.7 739.1 L1606.5 737.8 L1611.3 736.4 L1616.1 735.1 L1621.0 733.7 L1625.8 732.4 L1630.6 731.0 L1635.4 729.7 L1640.2 728.3 L1645.1 727.0 L1649.9 725.7 L1654.7 724.3 L1659.5 723.0 L1664.3 721.6 L1669.2 720.3 L1674.0 719.0 L1678.8 717.6 L1683.6 716.3 L1688.4 715.0 L1693.3 713.7 L1698.1 712.3 L1702.9 711.0 L1707.7 709.6 L1712.6 708.3 L1717.4 706.9 L1722.2 705.6 L1727.0 704.2 L1731.8 702.8 L1736.6 701.5 L1741.4 700.1 L1746.2 698.7 L1751.0 697.3 L1755.8 695.9 L1760.6 694.5 L1765.5 693.1 L1770.3 691.7 L1775.0 690.3 L1779.8 688.8 L1784.6 687.4 L1789.4 686.0 L1794.2 684.5 L1799.0 683.1 L1803.8 681.6 L1808.6 680.2 L1813.4 678.7 L1818.2 677.2 L1822.9 675.8 L1827.7 674.3 L1832.5 672.8 L1837.3 671.3 L1842.1 669.8 L1846.8 668.4 L1851.6 666.9 L1856.4 665.4 L1861.2 663.9 L1865.9 662.4 L1870.7 660.9 L1875.5 659.5 L1880.3 658.0 L1885.1 656.5 L1889.8 655.0 L1894.6 653.5 L1899.4 652.0 L1904.2 650.5 L1908.9 649.0 L1913.7 647.6 L1918.5 646.1 L1923.3 644.7 L1928.1 643.2 L1932.9 641.8 L1937.7 640.4 L1942.5 639.0 L1947.3 637.6 L1952.1 636.2 L1956.9 634.7 L1961.6 633.1 L1966.4 631.6 L1971.1 630.0 L1975.9 628.4 L1980.6 626.7 L1985.3 625.0 L1989.9 623.1 L1994.6 621.2 L1999.1 619.2 L2003.7 617.2 L2008.3 615.2 L2012.9 613.2 L2017.5 611.3 L2022.2 609.5 L2026.8 607.6 L2031.5 605.8 L2036.2 604.1 L2040.8 602.3 L2045.5 600.4 L2050.2 598.6 L2054.8 596.8 L2059.5 594.9 L2064.1 593.1 L2068.8 591.2 L2073.4 589.4 L2078.0 587.4 L2082.6 585.3 L2087.1 583.2 L2091.5 580.9 L2096.0 578.5 L2100.3 576.1 L2104.7 573.6 L2109.0 571.1 L2113.3 568.6 L2117.6 566.0 L2121.9 563.5 L2126.2 560.9 L2130.4 558.2 L2134.7 555.6 L2138.9 552.9 L2143.1 550.1 L2147.2 547.3 L2151.3 544.4 L2155.4 541.5 L2159.4 538.5 L2163.4 535.5 L2167.3 532.4 L2171.2 529.3 L2175.1 526.1 L2178.9 522.8 L2182.5 519.5 L2186.1 515.9 L2189.5 512.3 L2192.9 508.6 L2196.1 504.8 L2199.1 500.8 L2201.9 496.6 L2204.4 492.3 L2206.7 487.8 L2208.8 483.3 L2210.8 478.7 L2212.7 474.0 L2214.2 469.3 L2215.6 464.5 L2216.8 459.6 L2217.9 454.8 L2218.8 449.8 L2219.5 444.9 L2220.1 439.9 L2220.6 434.9 L2221.0 429.9 L2221.4 425.0 L2221.7 420.0 L2221.8 415.0 L2221.9 410.0 L2222.0 404.9 L2222.0 399.9 L2222.0 394.9 L2222.0 389.9 L2222.0 384.9 L2222.0 379.9 L2222.0 374.9 L2222.0 369.9 L2222.0 364.9 L2222.0 359.9 L2222.0 354.9 L2222.0 349.9 L2222.0 344.9 L2222.0 339.9 L2222.0 334.9 L2222.0 329.9 L2222.0 324.9 L2222.0 319.9 L2222.0 314.9 L2222.0 309.9 L2222.0 304.9 L2222.0 299.9 L2222.0 294.9 L2222.0 289.9 L2222.0 284.9 L2222.0 279.9 L2222.0 274.9 L2222.0 269.9 L2222.0 264.9 L2222.0 259.8 L2222.0 254.8 L2222.0 249.8 L2222.0 244.8 L2222.0 239.8 L2222.0 234.8 L2222.0 229.8 L2222.0 224.8 L2222.0 219.8 L2222.0 214.8 L2222.0 209.8 L2222.0 204.8 L2222.0 199.8 L2222.0 194.8 L2222.0 189.8 L2222.0 184.8 L2222.0 179.8 L2222.0 174.8 L2222.0 169.8 L2222.0 164.8 L2222.0 159.8 L2222.0 154.8 L2222.0 149.8 L2222.0 144.8 L2222.0 139.8 L2222.0 134.8 L2222.0 129.8 L2222.0 124.8 L2222.0 119.7 L2222.0 114.7 L2222.0 109.7 L2222.0 104.7 L2222.0 99.7 L2222.0 94.7 L2222.0 89.7 L2222.0 84.7 L2222.0 79.7 L2222.0 74.7 L2222.0 69.7 L2222.0 64.7 L2222.0 59.7 L2222.0 54.7 L2222.0 49.7" stroke-dashoffset="7"/>
<path d="M733.0 956.6 L737.8 955.3 L742.7 954.0 L747.5 952.7 L752.3 951.4 L757.1 950.1 L762.0 948.7 L766.8 947.4 L771.6 946.0 L776.4 944.7 L781.2 943.3 L786.0 941.9 L790.8 940.6 L795.6 939.2 L800.5 937.8 L805.3 936.5 L810.1 935.1 L814.9 933.7 L819.7 932.4 L824.5 931.0 L829.3 929.7 L834.2 928.4 L839.0 927.0 L843.8 925.7 L848.6 924.4 L853.5 923.1 L858.3 921.9 L863.1 920.6 L868.0 919.3 L872.8 918.1 L877.7 916.8 L882.5 915.6 L887.3 914.3 L892.2 913.1 L897.0 911.8 L901.9 910.6 L906.7 909.4 L911.6 908.1 L916.4 906.9 L921.3 905.7 L926.1 904.5 L931.0 903.3 L935.8 902.1 L940.7 900.9 L945.5 899.7 L950.4 898.5 L955.3 897.3 L960.1 896.1 L965.0 894.9 L969.8 893.7 L974.7 892.5 L979.6 891.4 L984.4 890.2 L989.3 889.1 L994.2 887.9 L999.0 886.7 L1003.9 885.6 L1008.8 884.5 L1013.6 883.3 L1018.5 882.2 L1023.4 881.1 L1028.3 880.0 L1033.1 878.9 L1038.0 877.8 L1042.9 876.7 L1047.8 875.6 L1052.7 874.5 L1057.5 873.4 L1062.4 872.3 L1067.3 871.2 L1072.2 870.1 L1077.1 869.0 L1081.9 867.9 L1086.8 866.8 L1091.7 865.7 L1096.6 864.6 L1101.4 863.4 L1106.3 862.3 L1111.2 861.1 L1116.0 860.0 L1120.9 858.8 L1125.7 857.6 L1130.6 856.4 L1135.5 855.3 L1140.3 854.1 L1145.2 852.9 L1150.0 851.7 L1154.9 850.5 L1159.8 849.3 L1164.6 848.1 L1169.5 846.9 L1174.3 845.7 L1179.2 844.5 L1184.0 843.3 L1188.9 842.0 L1193.7 840.8 L1198.6 839.6 L1203.4 838.4 L1208.3 837.2 L1213.1 835.9 L1218.0 834.7 L1222.8 833.5 L1227.7 832.2 L1232.5 831.0 L1237.4 829.8 L1242.2 828.5 L1247.0 827.3 L1251.9 826.1 L1256.7 824.8 L1261.6 823.6 L1266.4 822.3 L1271.3 821.1 L1276.1 819.8 L1281.0 818.6 L1285.8 817.3 L1290.6 816.0 L1295.5 814.7 L1300.3 813.4 L1305.1 812.1 L1309.9 810.8 L1314.8 809.5 L1319.6 808.2 L1324.4 806.9 L1329.2 805.6 L1334.1 804.3 L1338.9 803.0 L1343.7 801.7 L1348.6 800.4 L1353.4 799.1 L1358.2 797.8 L1363.1 796.5 L1367.9 795.2 L1372.7 794.0 L1377.6 792.7 L1382.4 791.5 L1387.3 790.3 L1392.1 789.1 L1397.0 787.9 L1401.8 786.7 L1406.7 785.5 L1411.6 784.4 L1416.5 783.3 L1421.3 782.2 L1426.2 781.1 L1431.1 780.1 L1436.0 779.1 L1440.9 778.0 L1445.8 777.0 L1450.7 776.0 L1455.6 775.0 L1460.5 773.9 L1465.4 772.9 L1470.3 771.8 L1475.2 770.8 L1480.0 769.7 L1484.9 768.5 L1489.8 767.4 L1494.6 766.2 L1499.5 765.0 L1504.3 763.8 L1509.2 762.6 L1514.0 761.4 L1518.9 760.1 L1523.7 758.9 L1528.6 757.6 L1533.4 756.4 L1538.2 755.1 L1543.1 753.8 L1547.9 752.5 L1552.7 751.3 L1557.6 749.9 L1562.4 748.6 L1567.2 747.3 L1572.1 746.0 L1576.9 744.7 L1581.7 743.3 L1586.5 742.0 L1591.3 740.7 L1596.1 739.3 L1601.0 738.0 L1605.8 736.6 L1610.6 735.3 L1615.4 733.9 L1620.2 732.5 L1625.0 731.2 L1629.8 729.8 L1634.7 728.5 L1639.5 727.1 L1644.3 725.7 L1649.1 724.4 L1653.9 723.0 L1658.7 721.7 L1663.5 720.3 L1668.4 719.0 L1673.2 717.7 L1678.0 716.3 L1682.8 715.0 L1687.6 713.7 L1692.5 712.3 L1697.3 711.0 L1702.1 709.6 L1706.9 708.3 L1711.7 706.9 L1716.5 705.6 L1721.4 704.2 L1726.2 702.8 L1731.0 701.5 L1735.8 700.1 L1740.6 698.7 L1745.4 697.3 L1750.2 695.9 L1755.0 694.5 L1759.8 693.1 L1764.6 691.7 L1769.4 690.3 L1774.2 688.9 L1779.0 687.4 L1783.8 686.0 L1788.6 684.6 L1793.3 683.1 L1798.1 681.6 L1802.9 680.2 L1807.7 678.7 L1812.5 677.2 L1817.2 675.8 L1822.0 674.3 L1826.8 672.8 L1831.6 671.3 L1836.3 669.8 L1841.1 668.3 L1845.9 666.8 L1850.7 665.4 L1855.4 663.9 L1860.2 662.4 L1865.0 660.9 L1869.8 659.5 L1874.6 658.0 L1879.3 656.5 L1884.1 655.0 L1888.9 653.5 L1893.7 652.0 L1898.4 650.6 L1903.2 649.1 L1908.0 647.6 L1912.8 646.2 L1917.6 644.7 L1922.4 643.3 L1927.2 641.9 L1932.0 640.5 L1936.8 639.2 L1941.6 637.7 L1946.4 636.3 L1951.2 634.9 L1955.9 633.3 L1960.7 631.8 L1965.4 630.2 L1970.2 628.6 L1974.9 627.0 L1979.6 625.3 L1984.3 623.5 L1988.9 621.6 L1993.5 619.7 L1998.1 617.6 L2002.7 615.6 L2007.3 613.7 L2011.9 611.8 L2016.6 610.0 L2021.2 608.2 L2025.9 606.4 L2030.6 604.6 L2035.3 602.9 L2039.9 601.1 L2044.6 599.3 L2049.3 597.5 L2053.9 595.7 L2058.6 593.9 L2063.3 592.1 L2067.9 590.2 L2072.5 588.3 L2077.1 586.4 L2081.7 584.3 L2086.2 582.1 L2090.6 579.8 L2095.0 577.4 L2099.4 575.0 L2103.8 572.5 L2108.1 570.0 L2112.4 567.5 L2116.7 565.0 L2121.0 562.5 L2125.3 559.9 L2129.6 557.3 L2133.8 554.6 L2138.0 551.9 L2142.2 549.2 L2146.4 546.4 L2150.5 543.6 L2154.6 540.7 L2158.6 537.8 L2162.7 534.8 L2166.6 531.7 L2170.5 528.6 L2174.4 525.5 L2178.3 522.3 L2182.0 518.9 L2185.6 515.4 L2189.1 511.9 L2192.5 508.2 L2195.7 504.4 L2198.8 500.4 L2201.5 496.3 L2204.1 492.0 L2206.4 487.5 L2208.6 483.0 L2210.6 478.5 L2212.5 473.8 L2214.1 469.1 L2215.4 464.3 L2216.7 459.4 L2217.8 454.6 L2218.7 449.6 L2219.4 444.7 L2220.0 439.7 L2220.5 434.7 L2221.0 429.8 L2221.4 424.8 L2221.7 419.8 L2221.8 414.8 L2221.9 409.8 L2222.0 404.8 L2222.0 399.8 L2222.0 394.8 L2222.0 389.8 L2222.0 384.8 L2222.0 379.8 L2222.0 374.8 L2222.0 369.8 L2222.0 364.8 L2222.0 359.8 L2222.0 354.8 L2222.0 349.8 L2222.0 344.8 L2222.0 339.8 L2222.0 334.8 L2222.0 329.8 L2222.0 324.8 L2222.0 319.8 L2222.0 314.8 L2222.0 309.8 L2222.0 304.8 L2222.0 299.8 L2222.0 294.8 L2222.0 289.8 L2222.0 284.8 L2222.0 279.8 L2222.0 274.8 L2222.0 269.8 L2222.0 264.8 L2222.0 259.8 L2222.0 254.8 L2222.0 249.7 L2222.0 244.7 L2222.0 239.7 L2222.0 234.7 L2222.0 229.7 L2222.0 224.7 L2222.0 219.7 L2222.0 214.7 L2222.0 209.7 L2222.0 204.7 L2222.0 199.7 L2222.0 194.7 L2222.0 189.7 L2222.0 184.7 L2222.0 179.7 L2222.0 174.7 L2222.0 169.7 L2222.0 164.7 L2222.0 159.7 L2222.0 154.7 L2222.0 149.7 L2222.0 144.7 L2222.0 139.7 L2222.0 134.7 L2222.0 129.7 L2222.0 124.7 L2222.0 119.7 L2222.0 114.7 L2222.0 109.7 L2222.0 104.7 L2222.0 99.7 L2222.0 94.7 L2222.0 89.7 L2222.0 84.7 L2222.0 79.7 L2222.0 74.7 L2222.0 69.7 L2222.0 64.7 L2222.0 59.7 L2222.0 54.7 L2222.0 49.7" stroke-dashoffset="7"/>
<path d="M733.0 956.6 L737.8 955.3 L742.7 954.0 L747.5 952.7 L752.4 951.4 L757.2 950.0 L762.0 948.7 L766.8 947.3 L771.7 946.0 L776.5 944.6 L781.3 943.2 L786.1 941.9 L790.9 940.5 L795.8 939.1 L800.6 937.7 L805.4 936.3 L810.2 935.0 L815.0 933.6 L819.9 932.2 L824.7 930.9 L829.5 929.5 L834.4 928.2 L839.2 926.9 L844.0 925.5 L848.9 924.2 L853.7 923.0 L858.6 921.7 L863.4 920.4 L868.2 919.1 L873.1 917.9 L877.9 916.6 L882.8 915.3 L887.7 914.1 L892.5 912.8 L897.4 911.6 L902.2 910.4 L907.1 909.1 L911.9 907.9 L916.8 906.7 L921.7 905.5 L926.5 904.2 L931.4 903.0 L936.3 901.8 L941.1 900.6 L946.0 899.4 L950.9 898.2 L955.7 897.0 L960.6 895.8 L965.5 894.6 L970.3 893.4 L975.2 892.3 L980.1 891.1 L984.9 889.9 L989.8 888.7 L994.7 887.6 L999.6 886.4 L1004.4 885.3 L1009.3 884.1 L1014.2 883.0 L1019.1 881.9 L1024.0 880.7 L1028.9 879.6 L1033.8 878.5 L1038.6 877.4 L1043.5 876.3 L1048.4 875.2 L1053.3 874.1 L1058.2 873.0 L1063.1 871.9 L1068.0 870.8 L1072.9 869.7 L1077.8 868.6 L1082.6 867.5 L1087.5 866.4 L1092.4 865.2 L1097.3 864.1 L1102.2 863.0 L1107.1 861.8 L1111.9 860.6 L1116.8 859.5 L1121.7 858.3 L1126.5 857.1 L1131.4 855.9 L1136.3 854.7 L1141.2 853.5 L1146.0 852.3 L1150.9 851.1 L1155.8 849.9 L1160.6 848.7 L1165.5 847.5 L1170.3 846.3 L1175.2 845.1 L1180.1 843.9 L1184.9 842.7 L1189.8 841.4 L1194.7 840.2 L1199.5 839.0 L1204.4 837.7 L1209.2 836.5 L1214.1 835.3 L1218.9 834.0 L1223.8 832.8 L1228.7 831.6 L1233.5 830.3 L1238.4 829.1 L1243.2 827.8 L1248.1 826.6 L1252.9 825.3 L1257.8 824.1 L1262.6 822.8 L1267.5 821.6 L1272.4 820.3 L1277.2 819.1 L1282.0 817.8 L1286.9 816.5 L1291.7 815.2 L1296.6 813.9 L1301.4 812.6 L1306.2 811.3 L1311.1 809.9 L1315.9 808.6 L1320.8 807.3 L1325.6 806.0 L1330.4 804.6 L1335.3 803.3 L1340.1 802.0 L1344.9 800.7 L1349.8 799.4 L1354.6 798.1 L1359.5 796.8 L1364.3 795.5 L1369.2 794.3 L1374.0 793.0 L1378.9 791.8 L1383.7 790.5 L1388.6 789.3 L1393.5 788.1 L1398.3 786.9 L1403.2 785.8 L1408.1 784.6 L1413.0 783.5 L1417.8 782.4 L1422.7 781.3 L1427.6 780.3 L1432.6 779.2 L1437.5 778.2 L1442.4 777.2 L1447.3 776.2 L1452.2 775.2 L1457.1 774.1 L1462.0 773.1 L1466.9 772.0 L1471.8 771.0 L1476.7 769.9 L1481.6 768.7 L1486.4 767.6 L1491.3 766.4 L1496.2 765.2 L1501.0 764.0 L1505.9 762.8 L1510.8 761.5 L1515.6 760.3 L1520.5 759.1 L1525.3 757.8 L1530.2 756.5 L1535.0 755.3 L1539.9 754.0 L1544.7 752.7 L1549.6 751.4 L1554.4 750.1 L1559.2 748.7 L1564.1 747.4 L1568.9 746.1 L1573.7 744.8 L1578.6 743.4 L1583.4 742.1 L1588.2 740.7 L1593.0 739.4 L1597.9 738.0 L1602.7 736.6 L1607.5 735.3 L1612.3 733.9 L1617.1 732.5 L1622.0 731.1 L1626.8 729.8 L1631.6 728.4 L1636.4 727.0 L1641.2 725.7 L1646.1 724.3 L1650.9 722.9 L1655.7 721.6 L1660.5 720.2 L1665.4 718.9 L1670.2 717.5 L1675.0 716.2 L1679.9 714.9 L1684.7 713.5 L1689.5 712.2 L1694.3 710.8 L1699.2 709.5 L1704.0 708.1 L1708.8 706.8 L1713.6 705.4 L1718.5 704.0 L1723.3 702.7 L1728.1 701.3 L1732.9 699.9 L1737.7 698.5 L1742.6 697.1 L1747.4 695.7 L1752.2 694.3 L1757.0 692.9 L1761.8 691.5 L1766.6 690.1 L1771.4 688.7 L1776.2 687.2 L1781.0 685.8 L1785.8 684.3 L1790.6 682.9 L1795.4 681.4 L1800.2 679.9 L1805.0 678.4 L1809.8 677.0 L1814.6 675.5 L1819.4 674.0 L1824.1 672.5 L1828.9 671.0 L1833.7 669.5 L1838.5 668.0 L1843.3 666.5 L1848.1 665.0 L1852.9 663.6 L1857.6 662.1 L1862.4 660.6 L1867.2 659.1 L1872.0 657.6 L1876.8 656.2 L1881.6 654.7 L1886.4 653.2 L1891.2 651.7 L1896.0 650.2 L1900.7 648.8 L1905.5 647.3 L1910.3 645.9 L1915.1 644.4 L1920.0 643.0 L1924.8 641.7 L1929.6 640.3 L1934.4 638.9 L1939.2 637.5 L1944.0 636.0 L1948.8 634.6 L1953.6 633.1 L1958.4 631.5 L1963.1 630.0 L1967.9 628.4 L1972.6 626.7 L1977.3 625.0 L1982.0 623.2 L1986.6 621.3 L1991.3 619.4 L1995.9 617.4 L2000.4 615.4 L2005.1 613.4 L2009.7 611.5 L2014.4 609.7 L2019.1 607.9 L2023.8 606.2 L2028.5 604.4 L2033.2 602.7 L2037.9 600.9 L2042.5 599.1 L2047.2 597.3 L2051.9 595.5 L2056.6 593.8 L2061.3 592.0 L2065.9 590.2 L2070.6 588.3 L2075.2 586.3 L2079.8 584.2 L2084.3 582.1 L2088.7 579.8 L2093.2 577.5 L2097.6 575.0 L2101.9 572.6 L2106.3 570.1 L2110.6 567.6 L2115.0 565.1 L2119.3 562.5 L2123.6 560.0 L2127.9 557.4 L2132.2 554.8 L2136.4 552.1 L2140.6 549.4 L2144.8 546.6 L2149.0 543.8 L2153.1 541.0 L2157.2 538.1 L2161.2 535.1 L2165.2 532.1 L2169.2 529.0 L2173.1 525.9 L2177.0 522.7 L2180.8 519.4 L2184.4 516.0 L2187.9 512.4 L2191.4 508.8 L2194.7 505.1 L2197.8 501.1 L2200.7 497.0 L2203.3 492.7 L2205.7 488.3 L2207.9 483.9 L2210.0 479.3 L2212.0 474.7 L2213.6 470.0 L2215.1 465.1 L2216.4 460.3 L2217.5 455.4 L2218.5 450.5 L2219.2 445.6 L2219.8 440.6 L2220.4 435.6 L2220.9 430.6 L2221.3 425.6 L2221.6 420.6 L2221.8 415.6 L2221.9 410.6 L2222.0 405.6 L2222.0 400.6 L2222.0 395.6 L2222.0 390.5 L2222.0 385.5 L2222.0 380.5 L2222.0 375.5 L2222.0 370.5 L2222.0 365.5 L2222.0 360.5 L2222.0 355.5 L2222.0 350.4 L2222.0 345.4 L2222.0 340.4 L2222.0 335.4 L2222.0 330.4 L2222.0 325.4 L2222.0 320.4 L2222.0 315.4 L2222.0 310.3 L2222.0 305.3 L2222.0 300.3 L2222.0 295.3 L2222.0 290.3 L2222.0 285.3 L2222.0 280.3 L2222.0 275.3 L2222.0 270.2 L2222.0 265.2 L2222.0 260.2 L2222.0 255.2 L2222.0 250.2 L2222.0 245.2 L2222.0 240.2 L2222.0 235.2 L2222.0 230.1 L2222.0 225.1 L2222.0 220.1 L2222.0 215.1 L2222.0 210.1 L2222.0 205.1 L2222.0 200.1 L2222.0 195.1 L2222.0 190.0 L2222.0 185.0 L2222.0 180.0 L2222.0 175.0 L2222.0 170.0 L2222.0 165.0 L2222.0 160.0 L2222.0 155.0 L2222.0 149.9 L2222.0 144.9 L2222.0 139.9 L2222.0 134.9 L2222.0 129.9 L2222.0 124.9 L2222.0 119.9 L2222.0 114.9 L2222.0 109.8 L2222.0 104.8 L2222.0 99.8 L2222.0 94.8 L2222.0 89.8 L2222.0 84.8 L2222.0 79.8 L2222.0 74.8 L2222.0 69.7 L2222.0 64.7 L2222.0 59.7 L2222.0 54.7 L2222.0 49.7" stroke-dashoffset="7"/>
<path d="M733.0 956.6 L737.8 955.3 L742.7 954.0 L747.5 952.7 L752.4 951.4 L757.2 950.0 L762.0 948.7 L766.8 947.3 L771.7 946.0 L776.5 944.6 L781.3 943.2 L786.1 941.8 L790.9 940.4 L795.7 939.1 L800.6 937.7 L805.4 936.3 L810.2 934.9 L815.0 933.5 L819.8 932.2 L824.7 930.8 L829.5 929.5 L834.3 928.1 L839.1 926.8 L844.0 925.5 L848.8 924.2 L853.7 922.9 L858.5 921.6 L863.4 920.3 L868.2 919.1 L873.1 917.8 L877.9 916.5 L882.8 915.3 L887.6 914.0 L892.5 912.8 L897.3 911.5 L902.2 910.3 L907.0 909.1 L911.9 907.8 L916.7 906.6 L921.6 905.4 L926.5 904.2 L931.3 902.9 L936.2 901.7 L941.1 900.5 L945.9 899.3 L950.8 898.1 L955.7 896.9 L960.5 895.7 L965.4 894.5 L970.3 893.4 L975.1 892.2 L980.0 891.0 L984.9 889.8 L989.7 888.7 L994.6 887.5 L999.5 886.3 L1004.4 885.2 L1009.2 884.0 L1014.1 882.9 L1019.0 881.7 L1023.9 880.6 L1028.8 879.5 L1033.7 878.4 L1038.6 877.3 L1043.4 876.2 L1048.3 875.1 L1053.2 874.0 L1058.1 872.9 L1063.0 871.8 L1067.9 870.7 L1072.8 869.6 L1077.7 868.4 L1082.5 867.3 L1087.4 866.2 L1092.3 865.1 L1097.2 863.9 L1102.1 862.8 L1106.9 861.6 L1111.8 860.5 L1116.7 859.3 L1121.6 858.1 L1126.4 856.9 L1131.3 855.7 L1136.2 854.6 L1141.0 853.4 L1145.9 852.2 L1150.8 851.0 L1155.6 849.7 L1160.5 848.5 L1165.4 847.3 L1170.2 846.1 L1175.1 844.9 L1179.9 843.7 L1184.8 842.4 L1189.7 841.2 L1194.5 840.0 L1199.4 838.8 L1204.2 837.5 L1209.1 836.3 L1213.9 835.0 L1218.8 833.8 L1223.7 832.6 L1228.5 831.3 L1233.4 830.1 L1238.2 828.8 L1243.1 827.6 L1247.9 826.3 L1252.8 825.1 L1257.6 823.8 L1262.5 822.6 L1267.3 821.3 L1272.2 820.1 L1277.0 818.8 L1281.9 817.5 L1286.7 816.2 L1291.6 814.9 L1296.4 813.6 L1301.2 812.3 L1306.1 810.9 L1310.9 809.6 L1315.7 808.3 L1320.6 807.0 L1325.4 805.6 L1330.2 804.3 L1335.1 803.0 L1339.9 801.7 L1344.7 800.4 L1349.6 799.1 L1354.4 797.8 L1359.3 796.5 L1364.1 795.2 L1368.9 793.9 L1373.8 792.7 L1378.7 791.4 L1383.5 790.2 L1388.4 789.0 L1393.2 787.8 L1398.1 786.6 L1403.0 785.4 L1407.9 784.3 L1412.7 783.2 L1417.6 782.1 L1422.5 781.0 L1427.4 780.0 L1432.3 779.0 L1437.3 777.9 L1442.2 776.9 L1447.1 775.9 L1452.0 774.9 L1456.9 773.8 L1461.8 772.8 L1466.7 771.7 L1471.6 770.7 L1476.5 769.6 L1481.3 768.4 L1486.2 767.2 L1491.1 766.0 L1495.9 764.8 L1500.8 763.6 L1505.7 762.4 L1510.5 761.2 L1515.4 759.9 L1520.2 758.7 L1525.1 757.4 L1529.9 756.2 L1534.8 754.9 L1539.6 753.6 L1544.5 752.3 L1549.3 751.0 L1554.1 749.7 L1559.0 748.3 L1563.8 747.0 L1568.6 745.7 L1573.5 744.3 L1578.3 743.0 L1583.1 741.6 L1587.9 740.3 L1592.8 738.9 L1597.6 737.5 L1602.4 736.2 L1607.2 734.8 L1612.0 733.4 L1616.9 732.0 L1621.7 730.7 L1626.5 729.3 L1631.3 727.9 L1636.1 726.5 L1640.9 725.2 L1645.8 723.8 L1650.6 722.4 L1655.4 721.1 L1660.2 719.7 L1665.1 718.4 L1669.9 717.0 L1674.7 715.7 L1679.6 714.3 L1684.4 713.0 L1689.2 711.6 L1694.0 710.3 L1698.9 708.9 L1703.7 707.6 L1708.5 706.2 L1713.3 704.8 L1718.1 703.5 L1723.0 702.1 L1727.8 700.7 L1732.6 699.4 L1737.4 698.0 L1742.2 696.6 L1747.0 695.2 L1751.9 693.8 L1756.7 692.4 L1761.5 690.9 L1766.3 689.5 L1771.1 688.1 L1775.9 686.7 L1780.7 685.2 L1785.5 683.8 L1790.3 682.3 L1795.1 680.8 L1799.8 679.3 L1804.6 677.9 L1809.4 676.4 L1814.2 674.9 L1819.0 673.4 L1823.8 671.9 L1828.6 670.4 L1833.3 668.9 L1838.1 667.4 L1842.9 665.9 L1847.7 664.5 L1852.5 663.0 L1857.3 661.5 L1862.1 660.0 L1866.9 658.5 L1871.6 657.1 L1876.4 655.6 L1881.2 654.1 L1886.0 652.6 L1890.8 651.1 L1895.6 649.7 L1900.4 648.2 L1905.2 646.8 L1910.0 645.3 L1914.8 643.9 L1919.6 642.5 L1924.4 641.1 L1929.2 639.8 L1934.1 638.4 L1938.9 637.0 L1943.7 635.5 L1948.5 634.1 L1953.2 632.5 L1958.0 631.0 L1962.8 629.4 L1967.5 627.8 L1972.2 626.2 L1976.9 624.4 L1981.6 622.6 L1986.2 620.7 L1990.9 618.7 L1995.4 616.7 L2000.0 614.8 L2004.7 612.8 L2009.3 611.0 L2014.0 609.2 L2018.7 607.5 L2023.4 605.7 L2028.1 604.0 L2032.8 602.2 L2037.5 600.5 L2042.2 598.7 L2046.9 596.9 L2051.6 595.1 L2056.2 593.4 L2060.9 591.6 L2065.6 589.8 L2070.2 587.9 L2074.9 585.9 L2079.4 583.8 L2083.9 581.6 L2088.4 579.4 L2092.8 577.0 L2097.2 574.6 L2101.6 572.1 L2105.9 569.7 L2110.3 567.2 L2114.6 564.7 L2118.9 562.1 L2123.3 559.6 L2127.6 557.0 L2131.8 554.4 L2136.1 551.7 L2140.3 549.0 L2144.5 546.3 L2148.7 543.5 L2152.8 540.7 L2156.9 537.8 L2160.9 534.8 L2164.9 531.8 L2168.9 528.8 L2172.9 525.7 L2176.8 522.5 L2180.5 519.2 L2184.2 515.8 L2187.7 512.3 L2191.2 508.7 L2194.6 504.9 L2197.7 501.0 L2200.6 496.9 L2203.2 492.6 L2205.6 488.2 L2207.8 483.8 L2209.9 479.2 L2211.9 474.6 L2213.6 469.9 L2215.0 465.1 L2216.3 460.2 L2217.5 455.4 L2218.4 450.4 L2219.2 445.5 L2219.8 440.5 L2220.4 435.5 L2220.9 430.5 L2221.3 425.6 L2221.6 420.5 L2221.8 415.5 L2221.9 410.5 L2222.0 405.5 L2222.0 400.5 L2222.0 395.5 L2222.0 390.5 L2222.0 385.5 L2222.0 380.5 L2222.0 375.4 L2222.0 370.4 L2222.0 365.4 L2222.0 360.4 L2222.0 355.4 L2222.0 350.4 L2222.0 345.4 L2222.0 340.4 L2222.0 335.4 L2222.0 330.3 L2222.0 325.3 L2222.0 320.3 L2222.0 315.3 L2222.0 310.3 L2222.0 305.3 L2222.0 300.3 L2222.0 295.3 L2222.0 290.3 L2222.0 285.2 L2222.0 280.2 L2222.0 275.2 L2222.0 270.2 L2222.0 265.2 L2222.0 260.2 L2222.0 255.2 L2222.0 250.2 L2222.0 245.1 L2222.0 240.1 L2222.0 235.1 L2222.0 230.1 L2222.0 225.1 L2222.0 220.1 L2222.0 215.1 L2222.0 210.1 L2222.0 205.1 L2222.0 200.0 L2222.0 195.0 L2222.0 190.0 L2222.0 185.0 L2222.0 180.0 L2222.0 175.0 L2222.0 170.0 L2222.0 165.0 L2222.0 160.0 L2222.0 154.9 L2222.0 149.9 L2222.0 144.9 L2222.0 139.9 L2222.0 134.9 L2222.0 129.9 L2222.0 124.9 L2222.0 119.9 L2222.0 114.8 L2222.0 109.8 L2222.0 104.8 L2222.0 99.8 L2222.0 94.8 L2222.0 89.8 L2222.0 84.8 L2222.0 79.8 L2222.0 74.8 L2222.0 69.7 L2222.0 64.7 L2222.0 59.7 L2222.0 54.7 L2222.0 49.7" stroke-dashoffset="7"/>
<path d="M733.0 956.6 L737.8 955.3 L742.7 954.0 L747.5 952.7 L752.3 951.4 L757.2 950.0 L762.0 948.7 L766.8 947.3 L771.6 945.9 L776.5 944.6 L781.3 943.2 L786.1 941.8 L790.9 940.4 L795.7 939.0 L800.5 937.6 L805.4 936.3 L810.2 934.9 L815.0 933.5 L819.8 932.1 L824.6 930.8 L829.5 929.4 L834.3 928.1 L839.1 926.8 L844.0 925.4 L848.8 924.1 L853.6 922.8 L858.5 921.6 L863.3 920.3 L868.2 919.0 L873.0 917.7 L877.9 916.5 L882.7 915.2 L887.6 914.0 L892.4 912.7 L897.3 911.5 L902.1 910.2 L907.0 909.0 L911.9 907.8 L916.7 906.6 L921.6 905.3 L926.4 904.1 L931.3 902.9 L936.2 901.7 L941.0 900.5 L945.9 899.3 L950.7 898.1 L955.6 896.9 L960.5 895.7 L965.3 894.5 L970.2 893.3 L975.1 892.1 L980.0 890.9 L984.8 889.8 L989.7 888.6 L994.6 887.4 L999.4 886.3 L1004.3 885.1 L1009.2 883.9 L1014.1 882.8 L1019.0 881.7 L1023.8 880.5 L1028.7 879.4 L1033.6 878.3 L1038.5 877.2 L1043.4 876.1 L1048.3 875.0 L1053.2 873.9 L1058.0 872.8 L1062.9 871.7 L1067.8 870.6 L1072.7 869.5 L1077.6 868.4 L1082.5 867.2 L1087.4 866.1 L1092.2 865.0 L1097.1 863.8 L1102.0 862.7 L1106.9 861.5 L1111.8 860.4 L1116.6 859.2 L1121.5 858.0 L1126.4 856.8 L1131.2 855.6 L1136.1 854.4 L1141.0 853.2 L1145.8 852.0 L1150.7 850.8 L1155.6 849.6 L1160.4 848.4 L1165.3 847.2 L1170.1 846.0 L1175.0 844.8 L1179.9 843.5 L1184.7 842.3 L1189.6 841.1 L1194.4 839.9 L1199.3 838.6 L1204.1 837.4 L1209.0 836.1 L1213.9 834.9 L1218.7 833.7 L1223.6 832.4 L1228.4 831.2 L1233.3 829.9 L1238.1 828.7 L1243.0 827.4 L1247.8 826.2 L1252.7 824.9 L1257.5 823.7 L1262.4 822.4 L1267.2 821.2 L1272.1 819.9 L1276.9 818.6 L1281.8 817.3 L1286.6 816.0 L1291.4 814.7 L1296.3 813.4 L1301.1 812.1 L1305.9 810.8 L1310.8 809.4 L1315.6 808.1 L1320.4 806.8 L1325.3 805.4 L1330.1 804.1 L1334.9 802.8 L1339.8 801.5 L1344.6 800.1 L1349.4 798.8 L1354.3 797.5 L1359.1 796.2 L1364.0 795.0 L1368.8 793.7 L1373.7 792.4 L1378.5 791.2 L1383.4 790.0 L1388.2 788.8 L1393.1 787.6 L1398.0 786.4 L1402.9 785.2 L1407.7 784.1 L1412.6 783.0 L1417.5 781.9 L1422.4 780.8 L1427.3 779.8 L1432.2 778.8 L1437.1 777.7 L1442.0 776.7 L1446.9 775.7 L1451.8 774.7 L1456.7 773.7 L1461.6 772.6 L1466.5 771.6 L1471.4 770.5 L1476.3 769.4 L1481.2 768.2 L1486.1 767.0 L1490.9 765.8 L1495.8 764.6 L1500.7 763.4 L1505.5 762.2 L1510.4 761.0 L1515.2 759.7 L1520.1 758.5 L1524.9 757.2 L1529.8 755.9 L1534.6 754.6 L1539.5 753.3 L1544.3 752.0 L1549.1 750.7 L1554.0 749.4 L1558.8 748.1 L1563.6 746.7 L1568.5 745.4 L1573.3 744.1 L1578.1 742.7 L1582.9 741.3 L1587.8 740.0 L1592.6 738.6 L1597.4 737.2 L1602.2 735.9 L1607.0 734.5 L1611.9 733.1 L1616.7 731.7 L1621.5 730.3 L1626.3 729.0 L1631.1 727.6 L1635.9 726.2 L1640.8 724.8 L1645.6 723.5 L1650.4 722.1 L1655.2 720.7 L1660.0 719.4 L1664.9 718.0 L1669.7 716.7 L1674.5 715.3 L1679.4 714.0 L1684.2 712.6 L1689.0 711.3 L1693.8 709.9 L1698.7 708.6 L1703.5 707.2 L1708.3 705.9 L1713.1 704.5 L1717.9 703.1 L1722.8 701.8 L1727.6 700.4 L1732.4 699.0 L1737.2 697.6 L1742.0 696.2 L1746.8 694.8 L1751.6 693.4 L1756.5 692.0 L1761.3 690.6 L1766.1 689.2 L1770.9 687.7 L1775.7 686.3 L1780.5 684.8 L1785.3 683.4 L1790.1 681.9 L1794.8 680.5 L1799.6 679.0 L1804.4 677.5 L1809.2 676.0 L1814.0 674.5 L1818.8 673.0 L1823.6 671.5 L1828.3 670.0 L1833.1 668.5 L1837.9 667.0 L1842.7 665.6 L1847.5 664.1 L1852.3 662.6 L1857.0 661.1 L1861.8 659.6 L1866.6 658.2 L1871.4 656.7 L1876.2 655.2 L1881.0 653.7 L1885.8 652.2 L1890.6 650.8 L1895.4 649.3 L1900.2 647.9 L1904.9 646.4 L1909.8 645.0 L1914.6 643.6 L1919.4 642.2 L1924.2 640.8 L1929.0 639.4 L1933.8 638.1 L1938.6 636.7 L1943.4 635.2 L1948.2 633.7 L1953.0 632.2 L1957.8 630.7 L1962.5 629.1 L1967.3 627.5 L1972.0 625.8 L1976.7 624.1 L1981.4 622.3 L1986.0 620.3 L1990.6 618.3 L1995.2 616.3 L1999.8 614.4 L2004.4 612.5 L2009.1 610.7 L2013.8 608.9 L2018.5 607.1 L2023.2 605.4 L2027.9 603.7 L2032.6 601.9 L2037.3 600.2 L2042.0 598.4 L2046.7 596.6 L2051.3 594.9 L2056.0 593.1 L2060.7 591.3 L2065.4 589.5 L2070.0 587.6 L2074.6 585.7 L2079.2 583.6 L2083.7 581.4 L2088.2 579.1 L2092.6 576.7 L2097.0 574.3 L2101.4 571.9 L2105.7 569.4 L2110.1 566.9 L2114.4 564.4 L2118.7 561.9 L2123.1 559.3 L2127.3 556.8 L2131.6 554.2 L2135.9 551.5 L2140.1 548.8 L2144.3 546.1 L2148.5 543.3 L2152.6 540.5 L2156.7 537.6 L2160.8 534.6 L2164.8 531.7 L2168.8 528.6 L2172.7 525.5 L2176.6 522.4 L2180.4 519.1 L2184.1 515.7 L2187.6 512.2 L2191.1 508.6 L2194.4 504.8 L2197.6 500.9 L2200.5 496.8 L2203.1 492.6 L2205.5 488.2 L2207.8 483.7 L2209.9 479.1 L2211.8 474.5 L2213.5 469.8 L2215.0 465.0 L2216.3 460.2 L2217.4 455.3 L2218.4 450.4 L2219.2 445.4 L2219.8 440.5 L2220.4 435.5 L2220.9 430.5 L2221.3 425.5 L2221.6 420.5 L2221.8 415.5 L2221.9 410.5 L2222.0 405.5 L2222.0 400.5 L2222.0 395.5 L2222.0 390.4 L2222.0 385.4 L2222.0 380.4 L2222.0 375.4 L2222.0 370.4 L2222.0 365.4 L2222.0 360.4 L2222.0 355.4 L2222.0 350.4 L2222.0 345.3 L2222.0 340.3 L2222.0 335.3 L2222.0 330.3 L2222.0 325.3 L2222.0 320.3 L2222.0 315.3 L2222.0 310.3 L2222.0 305.3 L2222.0 300.2 L2222.0 295.2 L2222.0 290.2 L2222.0 285.2 L2222.0 280.2 L2222.0 275.2 L2222.0 270.2 L2222.0 265.2 L2222.0 260.2 L2222.0 255.2 L2222.0 250.1 L2222.0 245.1 L2222.0 240.1 L2222.0 235.1 L2222.0 230.1 L2222.0 225.1 L2222.0 220.1 L2222.0 215.1 L2222.0 210.1 L2222.0 205.0 L2222.0 200.0 L2222.0 195.0 L2222.0 190.0 L2222.0 185.0 L2222.0 180.0 L2222.0 175.0 L2222.0 170.0 L2222.0 165.0 L2222.0 159.9 L2222.0 154.9 L2222.0 149.9 L2222.0 144.9 L2222.0 139.9 L2222.0 134.9 L2222.0 129.9 L2222.0 124.9 L2222.0 119.9 L2222.0 114.8 L2222.0 109.8 L2222.0 104.8 L2222.0 99.8 L2222.0 94.8 L2222.0 89.8 L2222.0 84.8 L2222.0 79.8 L2222.0 74.8 L2222.0 69.7 L2222.0 64.7 L2222.0 59.7 L2222.0 54.7 L2222.0 49.7" stroke-dashoffset="7"/>
</g>
<g fill="none" stroke="#000" stroke-width="12.8" stroke-linecap="square">
<path d="M361.0 956.6 L361.0 951.6 L361.0 946.6 L361.0 941.6 L361.0 936.6 L361.0 931.6 L361.0 926.5 L361.0 921.5 L361.0 916.5 L361.0 911.5 L361.0 906.5 L361.0 901.5 L361.0 896.5 L361.0 891.5 L361.0 886.5 L361.0 881.5 L361.0 876.5 L361.0 871.5 L361.0 866.4 L361.0 861.4 L361.0 856.4 L361.0 851.4 L361.0 846.4 L361.0 841.4 L361.0 836.4 L361.0 831.4 L361.0 826.4 L361.0 821.4 L361.0 816.4 L361.0 811.4 L361.0 806.3 L361.0 801.3 L361.0 796.3 L361.0 791.3 L361.0 786.3 L361.0 781.3 L361.0 776.3 L361.0 771.3 L361.0 766.3 L361.0 761.3 L361.0 756.3 L361.0 751.3 L361.0 746.2 L361.0 741.2 L361.0 736.2 L361.0 731.2 L361.0 726.2 L361.0 721.2 L361.0 716.2 L361.0 711.2 L361.0 706.2 L361.0 701.2 L361.0 696.2 L361.0 691.1 L361.0 686.1 L361.0 681.1 L361.0 676.1 L361.0 671.1 L361.0 666.1 L361.0 661.1 L361.0 656.1 L361.0 651.1 L361.0 646.1 L361.0 641.1 L361.1 636.1 L361.2 631.0 L361.3 626.0 L361.4 621.0 L361.8 616.0 L362.3 611.1 L362.9 606.1 L363.7 601.1 L364.7 596.2 L365.9 591.4 L367.4 586.6 L369.2 581.9 L371.2 577.4 L373.5 572.9 L376.0 568.6 L378.7 564.3 L381.4 560.1 L384.2 556.0 L387.1 551.9 L390.1 547.8 L393.1 543.8 L396.0 539.8 L399.2 535.9 L402.7 532.4 L406.5 529.0 L410.4 525.9 L414.4 522.9 L418.6 520.2 L423.0 517.8 L427.5 515.5 L432.0 513.3 L436.4 511.0 L440.9 508.9 L445.5 506.7 L450.1 504.7 L454.6 502.7 L459.3 500.8 L463.9 498.8 L468.5 496.9 L473.1 494.8 L477.6 492.7 L482.2 490.6 L486.8 488.6 L491.4 486.7 L496.1 484.9 L500.7 483.1 L505.4 481.2 L510.0 479.3 L514.7 477.4 L519.3 475.6 L524.0 473.9 L528.7 472.2 L533.4 470.5 L538.2 468.8 L542.9 467.2 L547.6 465.6 L552.4 463.9 L557.1 462.3 L561.8 460.7 L566.6 459.0 L571.3 457.3 L576.0 455.7 L580.7 454.0 L585.5 452.4 L590.2 450.8 L595.0 449.3 L599.8 447.7 L604.5 446.2 L609.3 444.7 L614.1 443.2 L618.9 441.7 L623.6 440.2 L628.4 438.8 L633.2 437.3 L638.0 435.9 L642.8 434.5 L647.7 433.1 L652.5 431.7 L657.3 430.4 L662.1 429.0 L666.9 427.7 L671.8 426.4 L676.6 425.1 L681.5 423.8 L686.3 422.5 L691.2 421.3 L696.0 420.0 L700.9 418.8 L705.7 417.7 L710.6 416.5 L715.5 415.3 L720.4 414.2 L725.2 413.0 L730.1 411.8 L735.0 410.6 L739.8 409.4 L744.7 408.2 L749.5 407.0 L754.4 405.8 L759.3 404.6 L764.1 403.4 L769.0 402.2 L773.9 401.0 L778.7 399.8 L783.6 398.6 L788.4 397.4 L793.3 396.2 L798.2 395.0 L803.0 393.8 L807.9 392.6 L812.7 391.4 L817.6 390.2 L822.5 389.0 L827.3 387.8 L832.2 386.6 L837.1 385.4 L841.9 384.2 L846.8 383.0 L851.7 381.8 L856.5 380.6 L861.4 379.4 L866.2 378.2 L871.1 377.0 L876.0 375.8 L880.8 374.7 L885.7 373.5 L890.6 372.3 L895.4 371.1 L900.3 369.9 L905.2 368.7 L910.0 367.5 L914.9 366.3 L919.8 365.1 L924.6 363.9 L929.5 362.7 L934.3 361.5 L939.2 360.3 L944.1 359.1 L948.9 357.9 L953.8 356.7 L958.7 355.5 L963.5 354.3 L968.4 353.1 L973.2 351.9 L978.1 350.7 L983.0 349.5 L987.8 348.3 L992.7 347.1 L997.6 345.9 L1002.4 344.7 L1007.3 343.5 L1012.1 342.3 L1017.0 341.1 L1021.9 339.9 L1026.7 338.7 L1031.6 337.5 L1036.4 336.3 L1041.3 335.1 L1046.2 333.8 L1051.0 332.6 L1055.9 331.4 L1060.7 330.2 L1065.6 329.0 L1070.5 327.8 L1075.3 326.6 L1080.2 325.3 L1085.0 324.1 L1089.9 322.9 L1094.7 321.6 L1099.6 320.4 L1104.4 319.1 L1109.3 317.9 L1114.1 316.6 L1119.0 315.4 L1123.8 314.1 L1128.7 312.8 L1133.5 311.5 L1138.4 310.3 L1143.2 309.0 L1148.0 307.7 L1152.9 306.4 L1157.7 305.1 L1162.6 303.8 L1167.4 302.5 L1172.2 301.2 L1177.1 299.9 L1181.9 298.6 L1186.7 297.3 L1191.6 296.1 L1196.4 294.8 L1201.3 293.5 L1206.1 292.2 L1211.0 290.9 L1215.8 289.7 L1220.7 288.4 L1225.5 287.2 L1230.3 285.9 L1235.2 284.6 L1240.0 283.4 L1244.9 282.1 L1249.7 280.9 L1254.6 279.6 L1259.4 278.4 L1264.3 277.1 L1269.1 275.9 L1274.0 274.6 L1278.8 273.3 L1283.7 272.1 L1288.5 270.8 L1293.4 269.5 L1298.2 268.3 L1303.1 267.0 L1307.9 265.7 L1312.7 264.4 L1317.6 263.1 L1322.4 261.8 L1327.3 260.6 L1332.1 259.3 L1336.9 258.0 L1341.8 256.7 L1346.6 255.4 L1351.5 254.1 L1356.3 252.9 L1361.1 251.6 L1366.0 250.3 L1370.8 249.0 L1375.7 247.7 L1380.5 246.4 L1385.3 245.1 L1390.2 243.8 L1395.0 242.5 L1399.9 241.2 L1404.7 239.9 L1409.5 238.6 L1414.4 237.3 L1419.2 236.0 L1424.0 234.7 L1428.9 233.4 L1433.7 232.0 L1438.5 230.7 L1443.4 229.4 L1448.2 228.1 L1453.0 226.7 L1457.8 225.4 L1462.7 224.1 L1467.5 222.7 L1472.3 221.4 L1477.1 220.1 L1482.0 218.7 L1486.8 217.3 L1491.6 216.0 L1496.4 214.6 L1501.2 213.2 L1506.1 211.9 L1510.9 210.5 L1515.7 209.1 L1520.5 207.7 L1525.3 206.3 L1530.1 204.9 L1534.9 203.6 L1539.7 202.2 L1544.6 200.7 L1549.4 199.3 L1554.2 197.9 L1559.0 196.5 L1563.8 195.1 L1568.6 193.7 L1573.4 192.3 L1578.2 190.9 L1583.0 189.4 L1587.8 188.0 L1592.6 186.6 L1597.4 185.2 L1602.2 183.7 L1607.0 182.3 L1611.8 180.8 L1616.6 179.4 L1621.4 177.9 L1626.2 176.5 L1631.0 175.0 L1635.8 173.6 L1640.5 172.1 L1645.3 170.6 L1650.1 169.2 L1654.9 167.7 L1659.7 166.2 L1664.5 164.7 L1669.2 163.2 L1674.0 161.7 L1678.8 160.2 L1683.6 158.7 L1688.3 157.2 L1693.1 155.7 L1697.9 154.1 L1702.7 152.6 L1707.4 151.1 L1712.2 149.6 L1717.0 148.0 L1721.7 146.5 L1726.5 145.0 L1731.3 143.4 L1736.1 141.9 L1740.8 140.4 L1745.6 138.8 L1750.4 137.3 L1755.1 135.8 L1759.9 134.2 L1764.7 132.7 L1769.4 131.2 L1774.2 129.6 L1779.0 128.1 L1783.7 126.6 L1788.5 125.1 L1793.3 123.6 L1798.1 122.0 L1802.8 120.5 L1807.6 119.0 L1812.4 117.5 L1817.2 116.0 L1821.9 114.5 L1826.7 112.9 L1831.5 111.4 L1836.2 109.8 L1841.0 108.2 L1845.7 106.6 L1850.4 105.0 L1855.2 103.3 L1859.9 101.6 L1864.6 100.0 L1869.3 98.3 L1874.0 96.5 L1878.7 94.8 L1883.4 93.1 L1888.1 91.3 L1892.8 89.6 L1897.5 87.8 L1902.1 86.0 L1906.8 84.2 L1911.5 82.4 L1916.2 80.5 L1920.8 78.7 L1925.5 76.8 L1930.1 75.0 L1934.8 73.1 L1939.4 71.2 L1944.0 69.3 L1948.7 67.4 L1953.3 65.5 L1957.9 63.5 L1962.5 61.6 L1967.1 59.6 L1971.7 57.7 L1976.3 55.7 L1980.9 53.7 L1985.5 51.7 L1990.1 49.7"/>
<path d="M733.0 956.6 L737.8 955.3 L742.7 954.0 L747.5 952.7 L752.3 951.4 L757.2 950.0 L762.0 948.7 L766.8 947.3 L771.6 945.9 L776.4 944.5 L781.3 943.2 L786.1 941.8 L790.9 940.4 L795.7 939.0 L800.5 937.6 L805.3 936.2 L810.1 934.8 L815.0 933.4 L819.8 932.1 L824.6 930.7 L829.4 929.4 L834.3 928.0 L839.1 926.7 L843.9 925.4 L848.8 924.1 L853.6 922.8 L858.4 921.5 L863.3 920.2 L868.1 918.9 L873.0 917.7 L877.8 916.4 L882.7 915.1 L887.5 913.9 L892.4 912.6 L897.2 911.4 L902.1 910.2 L906.9 908.9 L911.8 907.7 L916.7 906.5 L921.5 905.2 L926.4 904.0 L931.2 902.8 L936.1 901.6 L941.0 900.4 L945.8 899.2 L950.7 898.0 L955.5 896.8 L960.4 895.6 L965.3 894.4 L970.1 893.2 L975.0 892.0 L979.9 890.8 L984.8 889.7 L989.6 888.5 L994.5 887.3 L999.4 886.1 L1004.2 885.0 L1009.1 883.8 L1014.0 882.7 L1018.9 881.5 L1023.7 880.4 L1028.6 879.3 L1033.5 878.2 L1038.4 877.1 L1043.3 875.9 L1048.2 874.8 L1053.1 873.7 L1057.9 872.6 L1062.8 871.5 L1067.7 870.4 L1072.6 869.3 L1077.5 868.2 L1082.4 867.1 L1087.3 866.0 L1092.1 864.8 L1097.0 863.7 L1101.9 862.5 L1106.8 861.4 L1111.6 860.2 L1116.5 859.0 L1121.4 857.8 L1126.2 856.6 L1131.1 855.4 L1136.0 854.2 L1140.8 853.1 L1145.7 851.8 L1150.6 850.6 L1155.4 849.4 L1160.3 848.2 L1165.1 847.0 L1170.0 845.8 L1174.9 844.6 L1179.7 843.3 L1184.6 842.1 L1189.4 840.9 L1194.3 839.6 L1199.1 838.4 L1204.0 837.2 L1208.8 835.9 L1213.7 834.7 L1218.6 833.4 L1223.4 832.2 L1228.3 830.9 L1233.1 829.7 L1238.0 828.4 L1242.8 827.2 L1247.7 825.9 L1252.5 824.7 L1257.4 823.4 L1262.2 822.1 L1267.1 820.9 L1271.9 819.6 L1276.7 818.3 L1281.6 817.0 L1286.4 815.7 L1291.3 814.4 L1296.1 813.1 L1300.9 811.7 L1305.7 810.4 L1310.6 809.1 L1315.4 807.7 L1320.2 806.4 L1325.1 805.1 L1329.9 803.7 L1334.7 802.4 L1339.6 801.1 L1344.4 799.8 L1349.2 798.5 L1354.1 797.2 L1358.9 795.9 L1363.8 794.6 L1368.6 793.3 L1373.5 792.1 L1378.3 790.8 L1383.2 789.6 L1388.0 788.4 L1392.9 787.2 L1397.8 786.0 L1402.6 784.9 L1407.5 783.7 L1412.4 782.6 L1417.3 781.6 L1422.2 780.5 L1427.1 779.5 L1432.0 778.5 L1436.9 777.4 L1441.8 776.4 L1446.7 775.4 L1451.6 774.4 L1456.5 773.3 L1461.4 772.3 L1466.3 771.2 L1471.2 770.1 L1476.1 769.0 L1481.0 767.9 L1485.8 766.7 L1490.7 765.5 L1495.6 764.3 L1500.4 763.1 L1505.3 761.8 L1510.1 760.6 L1515.0 759.3 L1519.8 758.1 L1524.7 756.8 L1529.5 755.5 L1534.4 754.2 L1539.2 752.9 L1544.0 751.6 L1548.9 750.3 L1553.7 749.0 L1558.5 747.6 L1563.4 746.3 L1568.2 744.9 L1573.0 743.6 L1577.8 742.2 L1582.6 740.9 L1587.5 739.5 L1592.3 738.1 L1597.1 736.7 L1601.9 735.3 L1606.7 734.0 L1611.5 732.6 L1616.4 731.2 L1621.2 729.8 L1626.0 728.4 L1630.8 727.0 L1635.6 725.7 L1640.4 724.3 L1645.3 722.9 L1650.1 721.5 L1654.9 720.2 L1659.7 718.8 L1664.5 717.5 L1669.4 716.1 L1674.2 714.8 L1679.0 713.4 L1683.8 712.1 L1688.7 710.7 L1693.5 709.4 L1698.3 708.0 L1703.1 706.6 L1708.0 705.3 L1712.8 703.9 L1717.6 702.6 L1722.4 701.2 L1727.2 699.8 L1732.0 698.4 L1736.9 697.0 L1741.7 695.6 L1746.5 694.2 L1751.3 692.8 L1756.1 691.4 L1760.9 690.0 L1765.7 688.6 L1770.5 687.1 L1775.3 685.7 L1780.1 684.2 L1784.9 682.8 L1789.7 681.3 L1794.5 679.8 L1799.3 678.3 L1804.0 676.9 L1808.8 675.4 L1813.6 673.9 L1818.4 672.4 L1823.2 670.9 L1827.9 669.4 L1832.7 667.9 L1837.5 666.4 L1842.3 664.9 L1847.1 663.4 L1851.9 662.0 L1856.7 660.5 L1861.4 659.0 L1866.2 657.5 L1871.0 656.0 L1875.8 654.6 L1880.6 653.1 L1885.4 651.6 L1890.2 650.2 L1895.0 648.7 L1899.8 647.3 L1904.6 645.8 L1909.4 644.4 L1914.2 643.0 L1919.0 641.7 L1923.8 640.3 L1928.6 638.9 L1933.5 637.5 L1938.3 636.1 L1943.1 634.7 L1947.8 633.2 L1952.6 631.6 L1957.4 630.1 L1962.1 628.5 L1966.9 626.9 L1971.6 625.2 L1976.3 623.5 L1980.9 621.6 L1985.6 619.7 L1990.2 617.7 L1994.8 615.7 L1999.4 613.8 L2004.0 611.9 L2008.7 610.1 L2013.4 608.4 L2018.1 606.6 L2022.8 604.9 L2027.5 603.2 L2032.2 601.5 L2036.9 599.7 L2041.6 597.9 L2046.3 596.2 L2051.0 594.4 L2055.7 592.7 L2060.4 590.9 L2065.0 589.1 L2069.7 587.2 L2074.3 585.2 L2078.8 583.1 L2083.3 580.9 L2087.8 578.6 L2092.2 576.3 L2096.6 573.9 L2101.0 571.4 L2105.3 568.9 L2109.7 566.5 L2114.0 564.0 L2118.4 561.5 L2122.7 558.9 L2127.0 556.4 L2131.3 553.8 L2135.5 551.1 L2139.8 548.4 L2144.0 545.7 L2148.1 542.9 L2152.3 540.1 L2156.4 537.3 L2160.5 534.4 L2164.5 531.4 L2168.5 528.4 L2172.5 525.3 L2176.4 522.2 L2180.2 518.9 L2183.8 515.5 L2187.4 512.0 L2190.9 508.4 L2194.3 504.7 L2197.4 500.8 L2200.3 496.7 L2203.0 492.4 L2205.4 488.1 L2207.7 483.6 L2209.8 479.0 L2211.7 474.4 L2213.5 469.7 L2214.9 464.9 L2216.2 460.1 L2217.4 455.2 L2218.4 450.3 L2219.1 445.4 L2219.8 440.4 L2220.4 435.4 L2220.9 430.4 L2221.3 425.4 L2221.6 420.4 L2221.8 415.4 L2221.9 410.4 L2222.0 405.4 L2222.0 400.4 L2222.0 395.4 L2222.0 390.4 L2222.0 385.4 L2222.0 380.4 L2222.0 375.4 L2222.0 370.3 L2222.0 365.3 L2222.0 360.3 L2222.0 355.3 L2222.0 350.3 L2222.0 345.3 L2222.0 340.3 L2222.0 335.3 L2222.0 330.3 L2222.0 325.3 L2222.0 320.2 L2222.0 315.2 L2222.0 310.2 L2222.0 305.2 L2222.0 300.2 L2222.0 295.2 L2222.0 290.2 L2222.0 285.2 L2222.0 280.2 L2222.0 275.2 L2222.0 270.1 L2222.0 265.1 L2222.0 260.1 L2222.0 255.1 L2222.0 250.1 L2222.0 245.1 L2222.0 240.1 L2222.0 235.1 L2222.0 230.1 L2222.0 225.1 L2222.0 220.0 L2222.0 215.0 L2222.0 210.0 L2222.0 205.0 L2222.0 200.0 L2222.0 195.0 L2222.0 190.0 L2222.0 185.0 L2222.0 180.0 L2222.0 175.0 L2222.0 169.9 L2222.0 164.9 L2222.0 159.9 L2222.0 154.9 L2222.0 149.9 L2222.0 144.9 L2222.0 139.9 L2222.0 134.9 L2222.0 129.9 L2222.0 124.9 L2222.0 119.8 L2222.0 114.8 L2222.0 109.8 L2222.0 104.8 L2222.0 99.8 L2222.0 94.8 L2222.0 89.8 L2222.0 84.8 L2222.0 79.8 L2222.0 74.8 L2222.0 69.7 L2222.0 64.7 L2222.0 59.7 L2222.0 54.7 L2222.0 49.7"/>
</g>
</g>
<g fill="#000" stroke="none">
<rect x="728.2" y="524" width="8.2" height="49.5"/><path d="M732.5 419.4 L765.3 525.8 H699.7 Z"/>
<rect x="1473.1" y="622.3" width="8.2" height="35"/><path d="M1477.2 762.3 L1509.8 655.8 H1444.2 Z"/>
</g>
<g font-family="'DejaVu Sans','Liberation Sans',sans-serif" fill="#000">
<text x="453.9" y="638" font-size="63" letter-spacing="1.93">End of discharge</text>
<text x="1245.7" y="593.9" font-size="63" letter-spacing="2.15">End of charge</text>
<text x="1107.4" y="456.8" font-size="82">Q</text>
<text x="1174.6" y="420.7" font-size="57.4" font-style="italic" letter-spacing="-1.3">V0</text>
<text x="1173.6" y="476.3" font-size="57.4" font-style="italic" letter-spacing="1.2">th,<tspan dx="9" letter-spacing="0.45">stored</tspan></text>
<text x="1476.5" y="456.5" font-size="82">=</text>
<text x="1573.2" y="456.8" font-size="82" letter-spacing="1">331.66</text>
<text x="1877.6" y="456.8" font-size="82" letter-spacing="2.5">MWh</text>
</g>
<rect x="361.0" y="49.7" width="1861.0" height="906.9" fill="none" stroke="#000" stroke-width="7.6"/>
<g stroke="#000" stroke-width="7.3">
<path d="M361.0 956.6 v28.4"/>
<path d="M361.0 956.6 h-28.6"/>
<path d="M733.2 956.6 v28.4"/>
<path d="M361.0 775.2 h-28.6"/>
<path d="M1105.4 956.6 v28.4"/>
<path d="M361.0 593.8 h-28.6"/>
<path d="M1477.6 956.6 v28.4"/>
<path d="M361.0 412.5 h-28.6"/>
<path d="M1849.8 956.6 v28.4"/>
<path d="M361.0 231.1 h-28.6"/>
<path d="M2222.0 956.6 v28.4"/>
<path d="M361.0 49.7 h-28.6"/>
</g>
<g font-family="'DejaVu Sans','Liberation Sans',sans-serif" fill="#000" font-size="82">
<text x="360.4" y="1078.6" text-anchor="middle">0.0</text>
<text x="299.8" y="987.8" text-anchor="end">0.0</text>
<text x="732.6" y="1078.6" text-anchor="middle">0.2</text>
<text x="299.8" y="806.4" text-anchor="end">0.2</text>
<text x="1104.8" y="1078.6" text-anchor="middle">0.4</text>
<text x="299.8" y="625.0" text-anchor="end">0.4</text>
<text x="1477.0" y="1078.6" text-anchor="middle">0.6</text>
<text x="299.8" y="443.7" text-anchor="end">0.6</text>
<text x="1849.2" y="1078.6" text-anchor="middle">0.8</text>
<text x="299.8" y="262.3" text-anchor="end">0.8</text>
<text x="2221.4" y="1078.6" text-anchor="middle">1.0</text>
<text x="299.8" y="80.9" text-anchor="end">1.0</text>
</g>
<rect x="393.5" y="83.6" width="987.5" height="118.4" rx="17" ry="17" fill="#fff" fill-opacity="0.8" stroke="#ccc" stroke-opacity="0.8" stroke-width="7.5"/>
<path d="M414 137.2 H561" stroke="#000" stroke-width="13.4" fill="none"/>
<text font-family="'DejaVu Sans','Liberation Sans',sans-serif" x="608.4" y="160.3" font-size="64.5" letter-spacing="1">V0 - Inert particle only</text>
<g font-family="'DejaVu Sans','Liberation Sans',sans-serif" fill="#000" font-style="italic">
<text x="1059.8" y="1220" font-size="82">θ</text>
<text x="1126.3" y="1219.6" font-size="82" font-style="normal">=</text>
<text x="1257.7" y="1173.1" font-size="57.4">T</text>
<text x="1303" y="1173.6" font-size="57.4" font-style="normal">−</text>
<text x="1364.8" y="1173.1" font-size="57.4">T</text>
<text x="1398.8" y="1181.6" font-size="40.2" letter-spacing="0.9">min</text>
<text x="1211.4" y="1252.3" font-size="57.4">T</text>
<text x="1246.6" y="1260.8" font-size="40.2">max</text>
<text x="1349.3" y="1252" font-size="57.4" font-style="normal">−</text>
<text x="1408.7" y="1252.3" font-size="57.4">T</text>
<text x="1443.8" y="1260.8" font-size="40.2" letter-spacing="0.9">min</text>
</g>
<rect x="1211.2" y="1197.5" width="314.3" height="6" fill="#000"/>
<g transform="rotate(-90)" font-family="'DejaVu Sans','Liberation Sans',sans-serif" fill="#000" font-style="italic">
<text x="-595.4" y="96.8" font-size="82">L</text>
<rect x="-580.9" y="20.7" width="24.7" height="5.6" fill="#000"/>
<text x="-533.8" y="96.8" font-size="82" font-style="normal">=</text>
<text x="-448.6" y="62.3" font-size="57.4">x</text>
<rect x="-449.3" y="77.5" width="37.6" height="5.2" fill="#000"/>
<text x="-448" y="132.8" font-size="57.4">L</text>
</g>
</g>
</svg>
</body></html>
